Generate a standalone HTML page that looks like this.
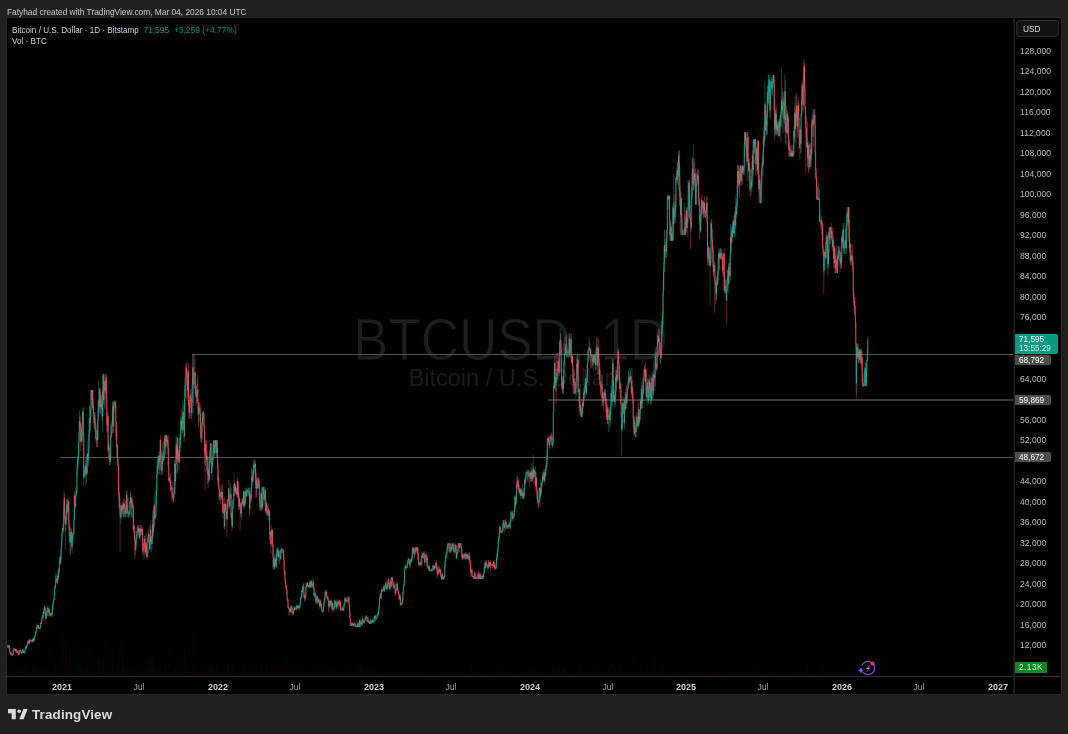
<!DOCTYPE html>
<html><head><meta charset="utf-8">
<style>
html,body{margin:0;padding:0;}
body{width:1068px;height:734px;background:#202020;position:relative;overflow:hidden;font-family:"Liberation Sans",sans-serif;}
div{will-change:transform}
.hdr{position:absolute;left:7px;top:7px;font-size:8.35px;color:#c8c8c8;white-space:nowrap;line-height:11px}
.pane{position:absolute;left:7px;top:18px;width:1054px;height:676px;background:#000;box-shadow:0 0 0 1px #282828}
.sepv{position:absolute;left:1013px;top:18px;width:1px;height:676px;background:#141414;border-right:1px solid #202020}
.seph{position:absolute;left:7px;top:676px;width:1054px;height:1px;background:#2e2e2e}
.pl{position:absolute;left:1020.3px;font-size:8.5px;line-height:11px;color:#bdbdbd;white-space:nowrap;letter-spacing:0.05px}
.tl{position:absolute;top:682.2px;margin-left:0.9px;width:40px;text-align:center;font-size:8.5px;line-height:11px;color:#a4a4a4}
.tl.b{font-weight:bold;font-size:9px;color:#d0d0d0}
.leg{position:absolute;left:12px;font-size:8.15px;line-height:11px;color:#d1d4dc;white-space:nowrap}
.grn{color:#0a8f78}
.wm1{position:absolute;left:0;top:303px;width:1021px;text-align:center;font-size:53px;line-height:70px;color:#1e1e1e;white-space:nowrap;transform:scaleY(1.11);transform-origin:0 15.5px;-webkit-text-stroke:0.8px #000}
.wm2{position:absolute;left:0;top:363px;width:1021px;text-align:center;font-size:23.5px;line-height:30px;color:#1c1c1c;white-space:nowrap}
.hl{position:absolute;height:1px;background:#565656}
.tag{position:absolute;left:1015px;font-size:8.2px;color:#fff;white-space:nowrap;padding-left:4px;box-sizing:border-box;border-radius:0 2px 2px 0}
.usd{position:absolute;left:1016px;top:20px;width:43px;height:17px;box-sizing:border-box;border:1px solid #2a2a2a;border-radius:3px;background:#121212;color:#d1d4dc;font-size:8.3px;line-height:17px;padding-left:6px}
.logo{position:absolute;left:8px;top:709px}
.logot{position:absolute;left:32.3px;top:704.5px;font-size:13.4px;line-height:20px;font-weight:bold;color:#dcdcdc;letter-spacing:0.15px}
</style></head><body>
<div class="hdr">Fatyhad created with TradingView.com, Mar 04, 2026 10:04 UTC</div>
<div class="pane"></div>
<div class="wm1">BTCUSD, 1D</div>
<div class="wm2">Bitcoin / U.S. Dollar</div>
<div class="hl" style="left:192px;top:354px;width:822px"></div>
<div class="hl" style="left:548px;top:399px;width:466px;height:2px;background:#3a3a3a"></div>
<div class="hl" style="left:60px;top:457px;width:954px"></div>
<svg class="ch" width="1054" height="658" viewBox="7 18 1054 658" style="position:absolute;left:7px;top:18px"><style>.ch .u{stroke:#22ab94}.ch .d{stroke:#f7525f}.ch path{fill:none;stroke-width:0.4px}.ch path.b{stroke-width:0.8px}</style><path d="M7.69 676V666.6M8.98 676V663.3M12.39 676V672.7M13.25 676V650.4M13.68 676V671.3M14.10 676V669.9M14.53 676V672.8M15.38 676V668.3M16.24 676V669.1M17.52 676V661.8M19.23 676V661.6M19.66 676V663.8M20.51 676V671.1M22.22 676V669.6M22.65 676V671.1M23.93 676V668.4M24.78 676V663.8M25.21 676V660.0M25.64 676V663.8M26.49 676V666.3M26.92 676V672.5M27.35 676V657.6M28.20 676V671.5M29.06 676V664.8M29.48 676V667.3M29.91 676V673.0M31.19 676V671.4M31.62 676V669.6M32.05 676V673.6M32.90 676V672.0M33.33 676V663.7M34.61 676V665.4M35.04 676V672.3M35.47 676V666.9M35.89 676V671.7M36.32 676V667.5M36.75 676V660.6M37.17 676V674.3M38.03 676V666.4M39.31 676V671.3M39.74 676V674.0M40.16 676V674.5M40.59 676V661.9M41.45 676V670.8M41.87 676V662.8M42.30 676V669.6M43.16 676V652.9M44.01 676V660.2M44.44 676V670.6M46.15 676V653.9M47.00 676V670.5M47.43 676V666.0M48.71 676V649.3M50.42 676V674.5M50.85 676V669.2M51.27 676V674.0M51.70 676V663.1M52.55 676V656.3M52.98 676V666.6M53.41 676V667.0M53.84 676V666.1M54.26 676V655.0M54.69 676V662.6M55.12 676V671.1M55.55 676V662.3M55.97 676V666.9M56.40 676V672.9M57.25 676V668.2M57.68 676V661.5M58.54 676V664.5M58.96 676V669.7M59.39 676V657.9M59.82 676V668.2M60.67 676V671.2M61.10 676V649.5M61.53 676V667.6M61.95 676V653.3M62.38 676V670.2M62.81 676V660.4M63.66 676V629.5M64.09 676V647.8M65.80 676V661.0M66.23 676V636.2M66.65 676V653.0M67.08 676V661.5M67.51 676V669.8M68.36 676V648.8M69.64 676V664.6M70.50 676V647.6M70.93 676V651.3M72.21 676V646.5M72.64 676V669.3M73.06 676V666.1M73.92 676V644.0M74.34 676V628.2M75.63 676V650.0M76.05 676V670.6M76.48 676V668.9M76.91 676V634.3M77.34 676V662.4M77.76 676V664.2M78.19 676V666.0M78.62 676V652.0M79.04 676V663.9M79.47 676V653.7M81.18 676V665.0M82.04 676V645.0M82.46 676V670.5M82.89 676V662.6M84.17 676V671.7M84.60 676V670.3M85.03 676V670.9M85.45 676V669.4M86.31 676V663.4M87.16 676V642.6M88.02 676V672.0M88.44 676V665.1M88.87 676V648.7M89.30 676V659.3M90.58 676V655.3M91.01 676V668.6M92.29 676V658.4M93.14 676V668.6M94.43 676V658.0M96.99 676V668.7M97.84 676V642.8M98.27 676V662.2M98.70 676V655.2M99.55 676V653.9M100.41 676V659.3M101.69 676V663.9M102.54 676V654.7M102.97 676V639.0M103.83 676V659.9M104.68 676V650.6M105.53 676V666.8M105.96 676V672.0M107.67 676V657.1M108.52 676V669.3M109.81 676V655.4M110.66 676V657.2M111.09 676V666.7M111.52 676V664.9M111.94 676V660.8M112.37 676V650.7M112.80 676V651.1M113.65 676V640.9M114.08 676V668.7M114.51 676V673.9M117.07 676V672.2M120.49 676V669.2M120.92 676V670.4M121.77 676V671.7M122.20 676V659.0M123.05 676V661.0M123.48 676V644.0M124.33 676V664.2M125.61 676V669.5M126.04 676V670.3M126.47 676V654.5M128.18 676V659.3M128.61 676V669.9M129.03 676V673.9M129.46 676V672.6M129.89 676V667.1M130.31 676V670.6M131.17 676V660.2M132.88 676V662.5M133.73 676V669.0M135.87 676V658.6M136.30 676V669.4M136.72 676V666.2M137.15 676V667.1M137.58 676V668.1M138.00 676V670.8M138.86 676V671.0M139.71 676V674.2M140.14 676V666.4M141.00 676V673.2M141.85 676V670.2M143.13 676V669.3M143.56 676V664.6M143.99 676V669.6M144.41 676V672.1M145.70 676V661.3M147.40 676V668.1M147.83 676V664.8M148.26 676V669.4M148.69 676V665.5M149.97 676V664.0M150.40 676V661.4M151.25 676V659.4M152.10 676V664.1M152.53 676V645.9M153.39 676V669.6M153.81 676V650.8M154.24 676V668.7M155.09 676V668.2M155.95 676V662.0M156.38 676V664.0M156.80 676V666.9M157.23 676V667.1M158.09 676V666.2M158.51 676V671.4M158.94 676V667.6M159.79 676V664.2M160.22 676V658.4M161.50 676V667.0M161.93 676V673.5M162.36 676V667.1M162.79 676V664.4M163.64 676V668.7M164.07 676V662.6M164.49 676V665.2M165.78 676V662.1M166.20 676V669.9M167.06 676V670.8M169.19 676V673.9M171.33 676V665.8M171.76 676V671.2M173.89 676V672.7M174.32 676V670.0M174.75 676V666.9M175.60 676V661.4M176.03 676V658.4M177.31 676V656.9M178.17 676V671.4M179.45 676V657.7M179.88 676V672.3M180.30 676V665.9M180.73 676V656.5M182.01 676V666.3M182.87 676V658.9M184.58 676V645.7M185.00 676V651.5M185.43 676V667.7M185.86 676V666.5M187.99 676V663.9M189.70 676V667.9M190.13 676V672.3M191.84 676V670.1M192.27 676V663.8M192.69 676V664.9M193.55 676V667.4M193.97 676V656.6M196.97 676V671.7M197.39 676V673.6M198.67 676V668.6M199.10 676V672.6M199.53 676V669.4M201.24 676V671.0M201.67 676V664.1M202.09 676V664.2M202.52 676V664.4M202.95 676V670.5M205.51 676V667.8M206.79 676V667.8M208.50 676V668.7M209.36 676V662.3M209.78 676V665.1M210.21 676V661.0M210.64 676V673.5M211.92 676V661.1M212.35 676V668.6M212.77 676V661.1M213.20 676V662.3M213.63 676V672.4M214.48 676V667.8M214.91 676V670.7M215.34 676V672.3M216.62 676V665.2M218.33 676V669.6M220.04 676V673.1M220.46 676V671.2M220.89 676V661.3M221.75 676V671.6M223.46 676V673.6M223.88 676V662.3M224.74 676V667.5M225.16 676V674.2M225.59 676V672.5M227.30 676V663.8M227.73 676V669.3M228.58 676V663.8M229.86 676V660.4M230.29 676V674.0M230.72 676V672.4M231.57 676V670.9M232.43 676V656.5M232.85 676V669.7M233.28 676V669.2M233.71 676V664.5M234.14 676V656.2M234.99 676V669.8M236.27 676V671.5M236.70 676V674.0M237.55 676V670.1M239.26 676V667.8M240.97 676V671.7M241.40 676V668.7M241.83 676V662.5M242.68 676V670.9M243.54 676V666.7M244.39 676V666.0M245.24 676V663.4M246.10 676V668.6M246.53 676V671.2M246.95 676V671.0M247.38 676V674.0M247.81 676V674.4M248.24 676V672.9M248.66 676V673.9M249.09 676V672.1M249.94 676V667.5M251.23 676V668.1M251.65 676V656.3M252.08 676V665.9M252.94 676V666.9M253.36 676V673.7M253.79 676V666.0M254.64 676V671.3M255.07 676V670.2M256.35 676V667.9M257.21 676V673.3M258.06 676V671.7M258.49 676V670.1M260.63 676V672.6M261.05 676V666.3M262.33 676V670.2M262.76 676V666.8M264.47 676V671.4M264.90 676V670.4M265.75 676V671.0M266.18 676V668.3M267.03 676V669.1M267.46 676V671.9M268.32 676V664.2M269.17 676V670.5M270.03 676V672.5M271.31 676V666.7M272.16 676V667.6M273.87 676V661.1M274.73 676V657.6M276.43 676V662.3M276.86 676V672.8M277.29 676V670.6M278.57 676V662.1M280.71 676V669.9M281.13 676V674.0M281.56 676V669.2M281.99 676V674.4M282.42 676V673.7M282.84 676V669.9M289.25 676V672.1M290.11 676V670.4M290.96 676V664.1M293.10 676V667.5M293.52 676V669.8M293.95 676V665.0M294.38 676V671.3M295.23 676V673.8M295.66 676V672.1M296.09 676V673.9M296.51 676V669.4M296.94 676V673.6M297.37 676V671.4M298.22 676V671.0M298.65 676V674.3M299.08 676V670.4M299.93 676V664.6M300.36 676V663.9M300.79 676V674.3M301.21 676V671.3M301.64 676V668.1M302.50 676V667.5M303.35 676V667.3M304.63 676V671.0M305.49 676V668.3M305.91 676V668.5M306.77 676V670.8M307.20 676V671.0M308.05 676V672.6M308.91 676V671.8M309.76 676V670.1M311.04 676V669.5M312.32 676V670.1M312.75 676V671.4M313.18 676V670.3M314.46 676V674.0M314.89 676V670.6M316.60 676V666.4M318.30 676V666.6M320.01 676V670.1M320.87 676V670.5M322.15 676V672.5M323.00 676V669.5M323.43 676V665.4M323.86 676V666.3M324.29 676V671.5M324.71 676V668.9M325.14 676V663.3M325.57 676V667.2M328.99 676V664.8M329.41 676V674.4M330.27 676V668.9M331.12 676V673.5M332.40 676V674.2M333.26 676V671.9M334.11 676V673.4M334.54 676V670.1M336.68 676V664.2M337.96 676V659.4M339.67 676V670.9M340.95 676V672.3M341.38 676V672.5M341.80 676V670.7M342.23 676V671.2M343.09 676V674.0M343.51 676V673.2M343.94 676V672.2M344.37 676V674.2M344.79 676V663.2M345.65 676V672.8M346.93 676V666.5M347.36 676V672.2M347.78 676V670.8M348.21 676V671.2M348.64 676V671.9M351.20 676V672.8M352.06 676V669.3M352.48 676V671.2M353.34 676V671.5M354.19 676V672.6M356.33 676V673.9M356.76 676V662.4M357.61 676V666.9M358.47 676V671.1M358.89 676V666.5M359.32 676V671.2M360.18 676V666.8M360.60 676V668.0M362.31 676V669.8M364.45 676V671.9M364.87 676V671.4M365.30 676V671.8M365.73 676V668.4M366.58 676V673.1M368.29 676V667.4M369.57 676V670.1M370.00 676V669.4M370.43 676V669.8M370.86 676V670.0M372.14 676V671.5M372.57 676V670.1M373.42 676V670.0M373.85 676V670.6M374.27 676V669.1M374.70 676V670.1M375.13 676V670.2M375.98 676V670.3M376.41 676V672.9M376.84 676V671.5M377.27 676V671.6M377.69 676V671.2M378.55 676V672.7M378.97 676V664.1M379.40 676V669.5M379.83 676V673.3M380.26 676V671.3M381.11 676V673.8M381.54 676V666.7M382.39 676V672.9M382.82 676V670.9M383.25 676V673.3M383.67 676V671.4M384.53 676V670.5M384.96 676V673.4M385.38 676V671.3M386.66 676V672.3M387.09 676V670.3M387.95 676V672.4M388.37 676V669.9M390.08 676V668.8M390.51 676V671.1M391.36 676V669.6M391.79 676V673.7M393.93 676V672.5M395.64 676V671.7M396.06 676V672.1M396.92 676V669.4M399.48 676V672.3M400.76 676V671.1M401.19 676V673.4M402.05 676V672.4M402.47 676V670.6M402.90 676V664.2M403.33 676V668.9M403.75 676V672.3M404.18 676V670.3M404.61 676V668.9M405.04 676V673.0M406.32 676V673.6M406.75 676V673.0M407.17 676V671.2M407.60 676V672.1M408.03 676V673.1M408.45 676V670.6M410.16 676V670.1M410.59 676V672.6M411.87 676V671.5M412.30 676V670.5M412.73 676V670.4M413.58 676V668.6M414.86 676V669.3M415.72 676V672.6M417.43 676V671.7M419.14 676V672.9M420.42 676V669.3M421.70 676V673.0M422.13 676V674.5M422.98 676V673.9M423.84 676V670.8M425.12 676V671.2M425.54 676V673.9M425.97 676V672.0M426.83 676V670.0M427.68 676V672.7M428.11 676V671.6M428.96 676V673.0M429.82 676V673.6M430.24 676V672.7M430.67 676V674.3M431.10 676V673.6M431.53 676V674.5M431.95 676V673.1M432.38 676V674.0M432.81 676V670.1M434.09 676V672.8M434.94 676V674.0M435.37 676V674.0M435.80 676V671.3M437.51 676V671.4M438.36 676V669.7M439.22 676V673.1M439.64 676V668.6M442.21 676V671.5M443.06 676V671.8M443.49 676V674.1M443.92 676V672.9M444.34 676V673.2M444.77 676V660.0M445.20 676V667.8M445.63 676V670.2M446.05 676V673.5M446.48 676V671.6M446.91 676V667.9M447.33 676V671.3M447.76 676V671.1M448.19 676V673.9M449.04 676V671.8M449.47 676V674.5M450.75 676V672.1M452.03 676V671.3M452.89 676V672.7M453.32 676V673.6M454.17 676V672.9M454.60 676V673.5M455.02 676V668.0M455.45 676V671.7M456.73 676V673.8M457.16 676V672.2M457.59 676V674.3M458.02 676V668.3M458.44 676V673.4M459.72 676V667.0M460.15 676V674.3M460.58 676V674.3M462.29 676V672.7M463.14 676V672.4M463.57 676V673.2M464.00 676V673.4M464.42 676V673.1M465.28 676V667.9M465.71 676V673.1M466.13 676V672.5M466.99 676V674.1M467.41 676V673.1M468.27 676V673.6M469.12 676V665.9M471.26 676V668.3M472.97 676V674.4M473.82 676V674.1M474.25 676V671.7M474.68 676V671.1M475.53 676V673.9M475.96 676V673.5M476.81 676V674.2M477.67 676V674.2M478.10 676V671.3M479.38 676V670.5M479.81 676V668.3M480.66 676V671.9M481.09 676V673.0M481.94 676V674.1M482.37 676V671.9M483.65 676V670.3M484.08 676V674.2M484.50 676V669.3M484.93 676V671.0M485.79 676V671.8M488.35 676V666.3M489.63 676V673.2M490.06 676V672.4M490.91 676V673.1M491.34 676V673.5M491.77 676V674.1M493.48 676V671.7M495.61 676V673.6M496.04 676V672.0M496.47 676V667.3M496.90 676V673.9M497.32 676V663.9M497.75 676V671.6M498.18 676V674.3M498.60 676V671.8M499.03 676V668.4M499.46 676V665.4M499.89 676V674.2M500.74 676V673.0M501.17 676V674.1M501.59 676V674.3M502.02 676V673.0M502.45 676V673.6M502.88 676V668.6M503.30 676V669.9M504.59 676V673.0M505.01 676V671.4M505.44 676V671.9M506.72 676V673.8M507.58 676V673.7M508.43 676V673.1M508.86 676V673.3M509.71 676V671.2M510.14 676V673.7M510.57 676V671.9M510.99 676V674.2M511.42 676V673.4M511.85 676V673.2M512.70 676V673.5M513.56 676V673.6M513.99 676V673.3M514.41 676V672.9M514.84 676V670.9M515.69 676V674.4M516.12 676V671.5M516.55 676V665.6M517.40 676V669.6M519.54 676V673.0M520.82 676V668.0M521.68 676V673.0M522.53 676V668.6M523.38 676V668.0M524.24 676V672.1M524.67 676V671.1M525.52 676V671.0M525.95 676V674.4M526.38 676V674.1M526.80 676V674.3M527.23 676V673.2M527.66 676V670.0M528.08 676V672.7M528.51 676V672.0M529.37 676V670.0M529.79 676V671.0M530.22 676V672.8M531.08 676V670.0M531.50 676V669.1M532.78 676V668.1M533.21 676V662.5M534.07 676V668.1M534.49 676V673.5M535.77 676V671.3M536.20 676V669.2M538.77 676V671.6M539.19 676V667.0M540.47 676V668.3M541.33 676V670.5M541.76 676V673.6M542.18 676V674.1M542.61 676V671.3M543.47 676V673.6M543.89 676V670.8M544.75 676V668.5M545.17 676V673.6M545.60 676V670.2M546.03 676V672.3M546.88 676V662.0M547.31 676V663.2M548.16 676V674.4M549.45 676V673.0M549.87 676V668.9M550.73 676V673.4M551.58 676V672.7M552.44 676V673.2M552.86 676V670.9M553.29 676V661.7M553.72 676V674.3M554.57 676V668.2M555.86 676V672.3M556.71 676V670.2M557.14 676V671.0M557.56 676V673.6M557.99 676V665.5M559.70 676V664.5M560.13 676V672.2M560.56 676V671.6M562.69 676V669.8M563.55 676V668.0M563.97 676V669.6M564.40 676V671.5M564.83 676V666.6M565.25 676V673.9M566.96 676V672.7M567.39 676V673.4M567.82 676V673.8M568.25 676V673.8M568.67 676V672.9M569.10 676V666.1M569.95 676V673.4M570.38 676V670.6M570.81 676V670.8M572.09 676V673.3M573.80 676V668.0M574.65 676V674.0M575.08 676V673.7M575.51 676V673.1M575.94 676V666.9M576.36 676V669.0M576.79 676V671.7M577.65 676V673.4M578.50 676V671.9M578.93 676V674.0M579.78 676V668.9M580.64 676V673.7M581.92 676V673.2M582.35 676V671.4M583.63 676V674.5M584.48 676V674.1M584.91 676V673.3M585.34 676V671.6M586.62 676V671.1M587.04 676V669.8M587.47 676V665.9M587.90 676V672.6M588.33 676V672.8M588.75 676V673.2M589.18 676V670.2M590.89 676V674.1M591.74 676V671.6M593.03 676V669.8M593.45 676V673.1M594.31 676V673.8M594.74 676V674.4M595.16 676V673.2M596.02 676V671.7M596.44 676V667.7M596.87 676V673.9M597.73 676V673.5M598.15 676V671.6M599.44 676V671.4M601.57 676V674.4M602.43 676V672.7M603.71 676V668.8M604.13 676V673.6M604.99 676V670.3M607.55 676V669.9M608.41 676V668.7M608.83 676V669.2M610.12 676V672.4M610.54 676V671.3M610.97 676V663.8M612.25 676V656.2M612.68 676V672.1M614.39 676V669.8M615.24 676V666.2M615.67 676V672.6M616.53 676V671.0M617.38 676V671.6M617.81 676V673.3M620.37 676V674.0M622.08 676V672.9M622.51 676V671.2M622.93 676V672.7M624.64 676V668.0M625.92 676V665.2M626.78 676V672.1M627.21 676V673.7M627.63 676V672.8M628.06 676V673.2M628.49 676V669.7M628.92 676V672.9M629.77 676V671.0M630.62 676V672.1M631.91 676V664.5M634.47 676V667.6M636.18 676V671.4M636.61 676V672.9M638.31 676V669.2M639.17 676V671.1M640.02 676V670.3M640.45 676V672.5M641.31 676V666.2M642.16 676V674.2M642.59 676V667.7M643.44 676V668.9M643.87 676V671.9M644.30 676V673.4M645.58 676V672.4M646.86 676V671.0M647.29 676V672.6M648.57 676V670.1M649.00 676V674.4M650.28 676V673.9M650.71 676V668.6M651.99 676V658.0M653.27 676V668.9M653.70 676V664.3M654.55 676V673.8M654.98 676V655.7M655.40 676V669.5M657.11 676V665.3M657.54 676V664.7M657.97 676V671.8M658.82 676V674.1M660.96 676V674.3M661.39 676V668.4M661.81 676V670.3M662.24 676V673.7M662.67 676V671.3M663.10 676V664.9M663.52 676V666.4M663.95 676V663.6M664.38 676V672.5M665.23 676V673.1M665.66 676V673.2M666.51 676V666.7M666.94 676V670.9M667.37 676V668.4M667.80 676V674.1M668.65 676V673.3M669.08 676V674.2M670.36 676V671.8M670.79 676V673.6M671.64 676V673.5M672.49 676V673.7M672.92 676V668.8M673.78 676V665.5M674.63 676V671.3M675.06 676V673.2M675.91 676V659.1M676.34 676V673.6M677.19 676V671.6M678.48 676V669.0M681.04 676V665.5M682.32 676V673.6M682.75 676V674.1M683.60 676V674.5M684.03 676V674.2M684.46 676V674.0M685.31 676V672.2M686.17 676V670.4M687.02 676V673.2M687.88 676V664.1M688.30 676V673.2M688.73 676V671.3M691.29 676V666.0M691.72 676V672.9M692.15 676V673.4M692.58 676V670.3M693.43 676V667.9M693.86 676V673.7M694.28 676V674.3M695.99 676V673.2M696.42 676V667.4M696.85 676V672.6M697.28 676V673.1M697.70 676V672.9M700.69 676V667.3M701.12 676V673.3M701.55 676V672.5M702.83 676V671.7M703.68 676V674.2M704.11 676V672.1M705.39 676V674.1M705.82 676V674.5M706.25 676V673.2M706.67 676V673.3M708.38 676V672.7M710.09 676V666.0M710.52 676V671.7M710.95 676V667.6M713.94 676V670.9M714.37 676V673.8M715.65 676V673.0M716.50 676V673.0M716.93 676V673.5M717.78 676V670.7M718.21 676V672.5M718.64 676V673.2M719.49 676V673.0M719.92 676V673.6M720.77 676V672.7M721.20 676V674.1M723.34 676V668.9M723.76 676V673.2M725.05 676V672.0M726.76 676V671.9M727.18 676V673.7M727.61 676V672.9M728.04 676V674.3M728.89 676V671.7M730.17 676V670.7M730.60 676V667.0M731.46 676V672.8M731.88 676V672.9M732.74 676V673.6M733.16 676V673.7M734.02 676V674.2M734.45 676V672.7M734.87 676V672.0M735.73 676V668.3M736.58 676V674.4M737.01 676V673.5M737.44 676V672.7M738.29 676V670.3M739.57 676V673.0M740.00 676V672.6M740.43 676V673.9M741.28 676V671.7M741.71 676V672.3M742.14 676V673.9M742.99 676V673.8M743.85 676V674.1M744.27 676V670.1M744.70 676V671.5M745.55 676V673.4M747.26 676V670.6M747.69 676V672.3M748.97 676V670.9M750.68 676V671.6M751.11 676V673.4M751.96 676V668.8M752.39 676V671.4M753.25 676V670.6M753.67 676V673.6M754.53 676V672.7M754.95 676V672.8M756.24 676V672.4M756.66 676V672.8M757.94 676V668.8M759.23 676V672.4M760.51 676V674.5M760.94 676V671.0M761.36 676V671.3M761.79 676V665.5M762.22 676V672.4M763.07 676V669.1M763.50 676V667.8M763.93 676V673.0M764.78 676V668.6M766.06 676V671.9M766.92 676V673.0M767.34 676V673.7M768.20 676V672.8M768.63 676V673.3M769.05 676V673.3M770.34 676V674.0M770.76 676V673.7M771.19 676V674.0M771.62 676V673.8M772.47 676V673.1M772.90 676V673.6M773.33 676V674.0M775.03 676V670.3M775.89 676V671.3M776.74 676V671.0M777.17 676V672.8M778.03 676V673.7M778.45 676V673.9M779.31 676V671.7M780.16 676V673.1M780.59 676V670.1M781.02 676V673.8M781.44 676V670.4M782.73 676V671.3M783.15 676V666.4M783.58 676V674.3M784.43 676V672.1M784.86 676V672.1M785.72 676V670.2M786.14 676V673.4M787.00 676V668.1M787.85 676V674.1M789.13 676V673.7M790.42 676V674.4M790.84 676V674.2M791.70 676V674.0M792.55 676V674.2M793.41 676V673.9M793.83 676V673.4M794.69 676V670.6M795.54 676V671.8M796.40 676V672.6M797.68 676V669.0M798.11 676V671.7M799.82 676V669.7M800.24 676V673.4M801.10 676V668.5M801.52 676V672.8M801.95 676V670.3M803.23 676V668.8M803.66 676V670.5M804.09 676V672.4M807.08 676V673.5M807.93 676V671.1M809.21 676V671.7M810.07 676V672.4M810.92 676V671.7M811.78 676V669.4M812.21 676V672.9M813.06 676V674.1M813.49 676V673.1M813.91 676V670.4M814.34 676V673.7M817.33 676V674.3M817.76 676V672.9M818.19 676V673.0M818.61 676V674.1M819.04 676V674.5M819.90 676V674.0M820.32 676V674.4M820.75 676V672.7M821.61 676V672.0M824.17 676V671.8M824.60 676V674.1M825.88 676V672.2M826.73 676V670.6M828.44 676V671.7M828.87 676V667.2M829.72 676V670.1M830.15 676V674.3M831.43 676V671.7M832.71 676V672.9M834.00 676V672.2M835.70 676V673.2M837.41 676V669.8M838.27 676V670.4M838.70 676V673.0M839.12 676V673.7M839.55 676V674.5M840.83 676V672.8M841.69 676V672.5M842.54 676V673.0M842.97 676V671.3M843.82 676V674.2M844.25 676V672.3M844.68 676V672.1M845.10 676V672.6M845.53 676V671.1M846.39 676V669.6M846.81 676V672.0M847.67 676V671.9M848.52 676V673.5M849.80 676V672.2M850.66 676V674.4M851.09 676V674.4M851.51 676V673.4M856.64 676V669.7M857.07 676V673.9M858.35 676V672.1M859.20 676V672.7M860.06 676V674.0M860.48 676V674.4M861.34 676V671.4M861.77 676V671.7M863.05 676V674.5M863.48 676V674.3M863.90 676V673.0M864.33 676V670.1M864.76 676V669.6M865.18 676V672.2M866.04 676V672.5M866.47 676V668.9M866.89 676V670.6M867.32 676V672.8M867.75 676V668.0" style="stroke:#0c5a48;stroke-opacity:0.13;stroke-width:0.5px"/><path d="M8.12 676V668.4M8.55 676V668.7M9.40 676V668.6M9.83 676V650.3M10.26 676V669.9M10.68 676V664.9M11.11 676V663.0M11.54 676V667.6M11.97 676V672.2M12.82 676V673.9M14.96 676V669.3M15.81 676V663.8M16.67 676V663.0M17.09 676V668.7M17.95 676V670.2M18.38 676V659.3M18.80 676V671.6M20.08 676V668.3M20.94 676V667.1M21.37 676V662.4M21.79 676V668.5M23.07 676V669.5M23.50 676V665.6M24.36 676V671.6M26.07 676V662.7M27.77 676V674.0M28.63 676V659.9M30.34 676V671.2M30.77 676V672.9M32.47 676V666.2M33.76 676V662.4M34.18 676V672.3M37.60 676V667.3M38.46 676V667.3M38.88 676V664.6M41.02 676V672.8M42.73 676V663.6M43.58 676V670.3M44.86 676V665.2M45.29 676V665.8M45.72 676V641.2M46.57 676V664.4M47.86 676V663.7M48.28 676V666.0M49.14 676V668.9M49.56 676V669.6M49.99 676V669.2M52.13 676V672.6M56.83 676V663.6M58.11 676V656.9M60.25 676V667.5M63.24 676V671.1M64.52 676V630.7M64.95 676V659.0M65.37 676V631.3M67.94 676V660.9M68.79 676V648.8M69.22 676V647.3M70.07 676V641.8M71.35 676V662.1M71.78 676V669.4M73.49 676V668.0M74.77 676V662.0M75.20 676V667.6M79.90 676V670.0M80.33 676V668.7M80.75 676V651.6M81.61 676V667.2M83.32 676V649.8M83.74 676V655.7M85.88 676V650.7M86.73 676V670.7M87.59 676V663.9M89.73 676V666.0M90.15 676V671.6M91.43 676V668.0M91.86 676V657.4M92.72 676V662.5M93.57 676V657.5M94.00 676V669.3M94.85 676V667.8M95.28 676V661.8M95.71 676V658.5M96.13 676V670.5M96.56 676V669.1M97.42 676V656.3M99.13 676V657.9M99.98 676V649.6M100.83 676V666.5M101.26 676V664.9M102.12 676V662.8M103.40 676V653.7M104.25 676V673.4M105.11 676V644.5M106.39 676V660.4M106.82 676V638.9M107.24 676V666.6M108.10 676V646.1M108.95 676V647.6M109.38 676V667.4M110.23 676V673.5M113.22 676V663.6M114.93 676V672.3M115.36 676V670.9M115.79 676V654.4M116.22 676V662.9M116.64 676V655.5M117.50 676V665.3M117.92 676V668.6M118.35 676V648.5M118.78 676V651.3M119.21 676V663.9M119.63 676V653.9M120.06 676V627.7M121.34 676V665.4M122.62 676V659.8M123.91 676V665.1M124.76 676V667.8M125.19 676V667.0M126.90 676V660.2M127.32 676V668.1M127.75 676V671.0M130.74 676V664.7M131.60 676V657.9M132.02 676V673.5M132.45 676V672.8M133.31 676V669.1M134.16 676V671.4M134.59 676V654.9M135.01 676V671.0M135.44 676V667.3M138.43 676V669.0M139.29 676V669.8M140.57 676V666.0M141.42 676V672.4M142.28 676V664.3M142.70 676V674.0M144.84 676V663.6M145.27 676V671.5M146.12 676V656.5M146.55 676V667.8M146.98 676V669.8M149.11 676V653.3M149.54 676V663.4M150.82 676V652.5M151.68 676V668.2M152.96 676V651.2M154.67 676V658.1M155.52 676V673.8M157.66 676V672.0M159.37 676V664.6M160.65 676V670.8M161.08 676V662.2M163.21 676V668.0M164.92 676V664.1M165.35 676V666.9M166.63 676V669.1M167.49 676V673.9M167.91 676V673.4M168.34 676V642.5M168.77 676V659.5M169.62 676V672.8M170.05 676V672.7M170.48 676V664.6M170.90 676V670.7M172.19 676V663.5M172.61 676V670.1M173.04 676V672.2M173.47 676V668.6M175.18 676V665.2M176.46 676V669.2M176.88 676V663.1M177.74 676V652.9M178.59 676V670.6M179.02 676V669.5M181.16 676V668.5M181.58 676V671.1M182.44 676V667.5M183.29 676V669.2M183.72 676V663.4M184.15 676V667.0M186.28 676V672.6M186.71 676V671.3M187.14 676V664.0M187.57 676V666.0M188.42 676V654.2M188.85 676V662.8M189.28 676V664.4M190.56 676V671.7M190.98 676V659.1M191.41 676V659.6M193.12 676V632.4M194.40 676V673.4M194.83 676V658.4M195.26 676V661.9M195.68 676V667.3M196.11 676V667.1M196.54 676V662.8M197.82 676V664.0M198.25 676V659.4M199.96 676V664.2M200.38 676V663.2M200.81 676V649.3M203.37 676V673.7M203.80 676V665.5M204.23 676V662.2M204.66 676V651.4M205.08 676V645.1M205.94 676V668.1M206.37 676V652.2M207.22 676V670.5M207.65 676V667.9M208.07 676V673.7M208.93 676V662.9M211.06 676V662.9M211.49 676V664.3M214.06 676V660.0M215.76 676V667.7M216.19 676V667.7M217.05 676V667.8M217.47 676V659.4M217.90 676V663.6M218.76 676V646.5M219.18 676V673.0M219.61 676V670.1M221.32 676V671.9M222.17 676V672.8M222.60 676V661.9M223.03 676V667.1M224.31 676V658.3M226.02 676V664.4M226.45 676V670.9M226.87 676V662.7M228.15 676V674.1M229.01 676V658.2M229.44 676V671.9M231.15 676V659.8M232.00 676V667.9M234.56 676V672.8M235.42 676V671.0M235.85 676V671.0M237.13 676V668.2M237.98 676V670.6M238.41 676V670.0M238.84 676V659.2M239.69 676V669.4M240.12 676V671.1M240.55 676V671.4M242.25 676V672.5M243.11 676V670.3M243.96 676V661.5M244.82 676V672.2M245.67 676V665.3M249.52 676V669.6M250.37 676V673.2M250.80 676V667.5M252.51 676V667.4M254.22 676V669.6M255.50 676V665.5M255.93 676V658.6M256.78 676V665.7M257.63 676V673.8M258.92 676V670.3M259.34 676V665.0M259.77 676V663.3M260.20 676V666.3M261.48 676V660.0M261.91 676V665.9M263.19 676V672.6M263.62 676V667.3M264.04 676V671.9M265.33 676V666.8M266.61 676V659.6M267.89 676V673.1M268.74 676V672.6M269.60 676V670.1M270.45 676V668.8M270.88 676V663.5M271.73 676V672.5M272.59 676V668.2M273.02 676V658.5M273.44 676V670.6M274.30 676V668.8M275.15 676V669.2M275.58 676V664.9M276.01 676V672.3M277.72 676V667.8M278.14 676V671.6M279.00 676V665.4M279.42 676V663.2M279.85 676V673.8M280.28 676V667.6M283.27 676V669.2M283.70 676V671.9M284.12 676V664.9M284.55 676V669.5M284.98 676V669.5M285.41 676V668.8M285.83 676V672.5M286.26 676V670.8M286.69 676V669.8M287.12 676V655.7M287.54 676V673.7M287.97 676V667.0M288.40 676V674.0M288.82 676V658.9M289.68 676V669.1M290.53 676V669.1M291.39 676V674.2M291.81 676V669.9M292.24 676V655.7M292.67 676V669.6M294.81 676V671.9M297.80 676V673.3M299.51 676V670.5M302.07 676V674.4M302.92 676V671.0M303.78 676V661.0M304.21 676V672.9M305.06 676V671.0M306.34 676V670.4M307.62 676V672.7M308.48 676V673.4M309.33 676V672.9M310.19 676V674.3M310.61 676V666.6M311.47 676V668.9M311.90 676V673.7M313.60 676V663.4M314.03 676V671.0M315.31 676V674.5M315.74 676V667.3M316.17 676V669.6M317.02 676V671.0M317.45 676V669.2M317.88 676V669.0M318.73 676V670.6M319.16 676V671.2M319.59 676V662.5M320.44 676V665.3M321.30 676V669.4M321.72 676V666.8M322.58 676V673.8M326.00 676V673.5M326.42 676V665.8M326.85 676V666.7M327.28 676V672.6M327.70 676V672.4M328.13 676V669.9M328.56 676V662.3M329.84 676V661.9M330.69 676V669.4M331.55 676V658.7M331.98 676V666.9M332.83 676V666.4M333.69 676V673.6M334.97 676V671.4M335.39 676V667.8M335.82 676V668.2M336.25 676V667.1M337.10 676V674.1M337.53 676V669.8M338.39 676V673.4M338.81 676V672.2M339.24 676V670.8M340.09 676V669.5M340.52 676V670.3M342.66 676V669.9M345.22 676V668.0M346.08 676V673.1M346.50 676V672.7M349.07 676V660.6M349.49 676V658.7M349.92 676V661.8M350.35 676V662.3M350.78 676V669.0M351.63 676V669.8M352.91 676V670.1M353.77 676V671.5M354.62 676V671.8M355.05 676V671.9M355.48 676V670.5M355.90 676V673.6M357.18 676V672.1M358.04 676V664.4M359.75 676V664.2M361.03 676V674.4M361.46 676V660.1M361.88 676V666.3M362.74 676V670.4M363.17 676V673.6M363.59 676V668.5M364.02 676V672.9M366.16 676V672.4M367.01 676V666.5M367.44 676V670.2M367.87 676V673.5M368.72 676V670.1M369.15 676V671.4M371.28 676V673.0M371.71 676V670.7M372.99 676V671.6M375.56 676V669.5M378.12 676V672.6M380.68 676V668.0M381.96 676V672.3M384.10 676V670.1M385.81 676V666.5M386.24 676V671.2M387.52 676V668.2M388.80 676V671.1M389.23 676V669.8M389.66 676V672.8M390.94 676V664.7M392.22 676V673.3M392.65 676V669.8M393.07 676V671.4M393.50 676V670.5M394.36 676V672.3M394.78 676V672.7M395.21 676V665.5M396.49 676V674.3M397.35 676V673.7M397.77 676V671.8M398.20 676V672.4M398.63 676V670.0M399.05 676V670.4M399.91 676V672.3M400.34 676V666.1M401.62 676V674.4M405.46 676V673.0M405.89 676V674.4M408.88 676V673.5M409.31 676V674.4M409.74 676V670.6M411.02 676V672.5M411.45 676V671.6M413.15 676V671.5M414.01 676V669.5M414.44 676V672.3M415.29 676V671.2M416.14 676V673.7M416.57 676V672.5M417.00 676V673.8M417.85 676V670.3M418.28 676V670.6M418.71 676V664.4M419.56 676V674.1M419.99 676V673.6M420.84 676V673.3M421.27 676V673.9M422.55 676V672.8M423.41 676V673.6M424.26 676V671.8M424.69 676V669.8M426.40 676V670.8M427.25 676V666.1M428.54 676V672.3M429.39 676V668.8M433.23 676V672.8M433.66 676V671.0M434.52 676V673.0M436.23 676V669.7M436.65 676V674.1M437.08 676V667.5M437.93 676V671.6M438.79 676V671.6M440.07 676V673.3M440.50 676V672.9M440.93 676V672.6M441.35 676V673.2M441.78 676V672.2M442.63 676V669.7M448.62 676V669.6M449.90 676V670.4M450.32 676V672.3M451.18 676V672.8M451.61 676V672.0M452.46 676V671.0M453.74 676V673.0M455.88 676V669.9M456.31 676V665.6M458.87 676V671.9M459.30 676V670.9M461.01 676V672.8M461.43 676V668.5M461.86 676V666.1M462.72 676V669.8M464.85 676V672.9M466.56 676V672.0M467.84 676V670.0M468.70 676V673.6M469.55 676V674.5M469.98 676V666.6M470.41 676V661.8M470.83 676V668.7M471.69 676V673.5M472.11 676V673.6M472.54 676V674.3M473.40 676V673.1M475.11 676V671.7M476.39 676V672.5M477.24 676V672.1M478.52 676V668.7M478.95 676V673.4M480.23 676V674.4M481.51 676V673.1M482.80 676V672.5M483.22 676V674.3M485.36 676V671.9M486.21 676V672.4M486.64 676V669.8M487.07 676V674.0M487.50 676V674.0M487.92 676V671.9M488.78 676V672.9M489.20 676V672.2M490.49 676V671.7M492.20 676V673.7M492.62 676V670.3M493.05 676V674.0M493.90 676V672.1M494.33 676V668.2M494.76 676V672.5M495.19 676V672.2M500.31 676V672.1M503.73 676V671.9M504.16 676V670.3M505.87 676V672.1M506.29 676V673.5M507.15 676V672.5M508.00 676V673.6M509.29 676V672.6M512.28 676V671.0M513.13 676V674.5M515.27 676V673.2M516.98 676V665.8M517.83 676V673.8M518.26 676V672.8M518.68 676V671.0M519.11 676V670.9M519.97 676V674.4M520.39 676V671.5M521.25 676V670.6M522.10 676V672.0M522.96 676V670.6M523.81 676V673.3M525.09 676V673.5M528.94 676V670.9M530.65 676V670.7M531.93 676V667.4M532.36 676V669.3M533.64 676V672.7M534.92 676V672.5M535.35 676V664.5M536.63 676V666.8M537.06 676V670.2M537.48 676V668.5M537.91 676V674.5M538.34 676V670.6M539.62 676V673.2M540.05 676V661.2M540.90 676V670.6M543.04 676V669.6M544.32 676V670.1M546.46 676V669.7M547.74 676V672.8M548.59 676V672.8M549.02 676V673.7M550.30 676V674.4M551.16 676V672.4M552.01 676V669.3M554.15 676V673.7M555.00 676V668.7M555.43 676V669.8M556.28 676V670.5M558.42 676V670.6M558.85 676V669.2M559.27 676V673.0M560.98 676V664.6M561.41 676V662.5M561.84 676V671.5M562.26 676V667.7M563.12 676V667.3M565.68 676V670.5M566.11 676V669.5M566.54 676V663.8M569.53 676V670.4M571.24 676V669.6M571.66 676V673.5M572.52 676V671.2M572.95 676V668.6M573.37 676V673.0M574.23 676V669.6M577.22 676V672.3M578.07 676V663.3M579.35 676V666.7M580.21 676V661.3M581.06 676V671.3M581.49 676V674.1M582.77 676V670.9M583.20 676V672.3M584.05 676V671.0M585.76 676V668.4M586.19 676V673.8M589.61 676V673.2M590.04 676V673.4M590.46 676V671.8M591.32 676V674.4M592.17 676V672.1M592.60 676V672.8M593.88 676V673.1M595.59 676V672.3M597.30 676V661.6M598.58 676V670.4M599.01 676V666.6M599.86 676V666.7M600.29 676V672.1M600.72 676V670.4M601.14 676V672.6M602.00 676V669.8M602.85 676V671.0M603.28 676V673.5M604.56 676V673.2M605.42 676V674.3M605.84 676V664.2M606.27 676V671.3M606.70 676V674.3M607.13 676V666.3M607.98 676V674.0M609.26 676V671.2M609.69 676V668.4M611.40 676V672.6M611.83 676V669.9M613.11 676V664.2M613.53 676V672.3M613.96 676V673.5M614.82 676V671.1M616.10 676V671.7M616.95 676V672.5M618.23 676V673.4M618.66 676V664.0M619.09 676V669.5M619.52 676V663.3M619.94 676V674.3M620.80 676V674.2M621.22 676V664.1M621.65 676V660.4M623.36 676V670.6M623.79 676V670.0M624.22 676V666.9M625.07 676V664.8M625.50 676V673.4M626.35 676V670.0M629.34 676V673.1M630.20 676V673.7M631.05 676V667.0M631.48 676V671.1M632.33 676V665.0M632.76 676V671.3M633.19 676V656.9M633.62 676V672.3M634.04 676V672.3M634.90 676V672.1M635.32 676V672.0M635.75 676V669.3M637.03 676V671.2M637.46 676V671.3M637.89 676V673.3M638.74 676V669.2M639.60 676V671.0M640.88 676V670.0M641.73 676V668.1M643.01 676V672.0M644.72 676V673.9M645.15 676V670.5M646.01 676V661.0M646.43 676V670.9M647.71 676V668.2M648.14 676V668.6M649.42 676V672.3M649.85 676V672.0M651.13 676V669.7M651.56 676V673.4M652.41 676V673.4M652.84 676V671.1M654.12 676V672.2M655.83 676V674.2M656.26 676V673.8M656.69 676V673.0M658.40 676V669.6M659.25 676V672.9M659.68 676V667.7M660.10 676V672.8M660.53 676V666.7M664.80 676V669.6M666.09 676V673.7M668.22 676V673.9M669.50 676V670.0M669.93 676V670.9M671.21 676V672.5M672.07 676V674.1M673.35 676V670.2M674.20 676V668.0M675.49 676V674.4M676.77 676V672.0M677.62 676V670.1M678.05 676V670.8M678.90 676V672.9M679.33 676V671.1M679.76 676V671.1M680.19 676V664.9M680.61 676V670.7M681.47 676V669.6M681.89 676V673.1M683.18 676V673.6M684.89 676V671.7M685.74 676V674.3M686.59 676V671.4M687.45 676V674.1M689.16 676V671.6M689.58 676V670.6M690.01 676V673.5M690.44 676V667.5M690.87 676V674.2M693.00 676V667.0M694.71 676V671.6M695.14 676V671.5M695.57 676V673.4M698.13 676V674.2M698.56 676V669.4M698.98 676V672.5M699.41 676V672.9M699.84 676V672.1M700.27 676V673.0M701.98 676V672.9M702.40 676V673.1M703.26 676V673.4M704.54 676V671.9M704.97 676V672.9M707.10 676V661.0M707.53 676V665.2M707.96 676V672.5M708.81 676V672.7M709.24 676V671.9M709.67 676V674.1M711.37 676V673.7M711.80 676V670.7M712.23 676V671.4M712.66 676V672.0M713.08 676V669.8M713.51 676V672.7M714.79 676V664.4M715.22 676V670.5M716.07 676V671.0M717.36 676V673.5M719.07 676V672.7M720.35 676V673.3M721.63 676V673.7M722.06 676V671.8M722.48 676V671.1M722.91 676V673.5M724.19 676V668.1M724.62 676V670.1M725.47 676V672.7M725.90 676V673.1M726.33 676V669.2M728.46 676V671.4M729.32 676V671.7M729.75 676V671.0M731.03 676V671.0M732.31 676V671.6M733.59 676V672.6M735.30 676V670.8M736.16 676V672.3M737.86 676V672.3M738.72 676V672.6M739.15 676V673.1M740.85 676V673.2M742.56 676V672.4M743.42 676V673.6M745.13 676V673.9M745.98 676V671.5M746.41 676V673.7M746.84 676V670.4M748.12 676V668.7M748.55 676V673.9M749.40 676V673.4M749.83 676V670.6M750.25 676V673.1M751.54 676V673.4M752.82 676V672.3M754.10 676V673.0M755.38 676V674.4M755.81 676V670.1M757.09 676V672.2M757.52 676V671.4M758.37 676V665.8M758.80 676V667.1M759.65 676V671.5M760.08 676V671.2M762.64 676V674.1M764.35 676V671.8M765.21 676V674.0M765.64 676V671.3M766.49 676V670.1M767.77 676V673.0M769.48 676V672.3M769.91 676V670.5M772.04 676V672.8M773.75 676V674.2M774.18 676V669.9M774.61 676V673.4M775.46 676V673.0M776.32 676V671.5M777.60 676V673.4M778.88 676V674.4M779.73 676V673.6M781.87 676V672.9M782.30 676V670.5M784.01 676V673.2M785.29 676V668.6M786.57 676V672.3M787.43 676V672.4M788.28 676V672.4M788.71 676V671.2M789.56 676V672.4M789.99 676V673.2M791.27 676V673.6M792.12 676V673.4M792.98 676V674.1M794.26 676V672.5M795.12 676V673.2M795.97 676V669.6M796.82 676V673.2M797.25 676V670.4M798.53 676V672.5M798.96 676V668.7M799.39 676V671.9M800.67 676V669.6M802.38 676V672.7M802.81 676V671.7M804.52 676V673.5M804.94 676V669.9M805.37 676V672.3M805.80 676V670.0M806.22 676V671.8M806.65 676V673.1M807.51 676V663.2M808.36 676V672.3M808.79 676V671.6M809.64 676V672.3M810.50 676V674.3M811.35 676V669.2M812.63 676V672.0M814.77 676V673.7M815.20 676V666.7M815.62 676V671.2M816.05 676V673.2M816.48 676V672.8M816.91 676V672.7M819.47 676V671.4M821.18 676V672.8M822.03 676V671.9M822.46 676V670.3M822.89 676V674.2M823.31 676V673.8M823.74 676V666.0M825.02 676V673.0M825.45 676V674.2M826.30 676V673.2M827.16 676V673.4M827.59 676V672.3M828.01 676V670.4M829.30 676V672.4M830.58 676V674.3M831.00 676V673.4M831.86 676V673.8M832.29 676V673.3M833.14 676V671.1M833.57 676V666.7M834.42 676V669.4M834.85 676V670.5M835.28 676V671.0M836.13 676V670.7M836.56 676V672.5M836.99 676V673.1M837.84 676V671.4M839.98 676V670.8M840.40 676V672.9M841.26 676V673.1M842.11 676V672.6M843.39 676V667.7M845.96 676V671.1M847.24 676V673.4M848.09 676V672.9M848.95 676V672.8M849.38 676V670.2M850.23 676V671.4M851.94 676V673.5M852.37 676V668.3M852.79 676V672.6M853.22 676V667.8M853.65 676V669.9M854.08 676V671.3M854.50 676V671.8M854.93 676V672.7M855.36 676V669.3M855.79 676V665.1M856.21 676V667.5M857.49 676V670.7M857.92 676V672.5M858.78 676V671.4M859.63 676V671.9M860.91 676V671.0M862.19 676V660.0M862.62 676V670.5M865.61 676V667.9" style="stroke:#7a2228;stroke-opacity:0.13;stroke-width:0.5px"/><path class="u" d="M7.69 644.6V648.3"/><path class="u b" d="M7.69 647.5V645.7"/><path class="d" d="M8.12 645.1V647.7M8.55 645.5V647.6"/><path class="d b" d="M8.12 645.6V646.2M8.55 646.1V647.3"/><path class="u" d="M8.98 644.6V649.1"/><path class="u b" d="M8.98 647.3V645.4"/><path class="d" d="M9.40 645.4V647.6M9.83 647.4V654.3M10.26 652.0V653.6M10.68 652.3V655.4M11.11 652.1V654.7M11.54 652.4V655.4M11.97 654.2V655.4"/><path class="d b" d="M9.40 645.4V647.4M9.83 647.4V652.4M10.26 652.2V652.8M10.68 652.6V654.1M11.11 654.1V654.7M11.54 654.3V654.9M11.97 654.6V655.4"/><path class="u" d="M12.39 653.6V655.4"/><path class="u b" d="M12.39 655.4V654.2"/><path class="d" d="M12.82 653.0V655.0"/><path class="d b" d="M12.82 654.0V654.6"/><path class="u" d="M13.25 648.3V654.9M13.68 648.3V649.6M14.10 648.3V649.6M14.53 648.5V650.7"/><path class="u b" d="M13.25 654.5V649.2M13.68 648.9V649.5M14.10 648.9V649.5M14.53 648.9V649.5"/><path class="d" d="M14.96 648.7V651.7"/><path class="d b" d="M14.96 649.2V650.9"/><path class="u" d="M15.38 648.9V652.1"/><path class="u b" d="M15.38 650.9V649.2"/><path class="d" d="M15.81 648.3V650.6"/><path class="d b" d="M15.81 649.2V650.1"/><path class="u" d="M16.24 649.0V650.7"/><path class="u b" d="M16.24 649.8V650.4"/><path class="d" d="M16.67 649.2V653.4M17.09 651.0V653.2"/><path class="d b" d="M16.67 650.0V652.4M17.09 652.3V652.9"/><path class="u" d="M17.52 651.0V654.9"/><path class="u b" d="M17.52 652.8V651.4"/><path class="d" d="M17.95 649.5V652.7M18.38 651.1V655.4M18.80 653.1V655.2"/><path class="d b" d="M17.95 651.4V652.5M18.38 652.5V653.9M18.80 653.9V654.6"/><path class="u" d="M19.23 651.2V655.4M19.66 650.0V653.1"/><path class="u b" d="M19.23 654.6V651.6M19.66 651.6V650.2"/><path class="d" d="M20.08 650.1V652.3"/><path class="d b" d="M20.08 650.2V650.8"/><path class="u" d="M20.51 648.8V650.9"/><path class="u b" d="M20.51 650.5V651.1"/><path class="d" d="M20.94 650.4V653.5M21.37 650.6V653.9M21.79 651.0V653.9"/><path class="d b" d="M20.94 650.8V651.5M21.37 651.5V652.2M21.79 652.2V653.1"/><path class="u" d="M22.22 650.2V654.8M22.65 649.3V651.0"/><path class="u b" d="M22.22 653.1V650.7M22.65 650.7V649.7"/><path class="d" d="M23.07 648.8V651.4M23.50 649.9V653.3"/><path class="d b" d="M23.07 649.7V650.3M23.50 650.3V652.8"/><path class="u" d="M23.93 650.8V653.2"/><path class="u b" d="M23.93 652.3V652.9"/><path class="d" d="M24.36 651.9V653.4"/><path class="d b" d="M24.36 652.4V653.0"/><path class="u" d="M24.78 649.7V654.2M25.21 646.9V650.8M25.64 645.9V649.3"/><path class="u b" d="M24.78 652.9V650.5M25.21 650.5V648.8M25.64 648.8V646.5"/><path class="d" d="M26.07 645.9V649.2"/><path class="d b" d="M26.07 646.5V648.3"/><path class="u" d="M26.49 645.4V648.7M26.92 644.4V645.7M27.35 639.9V645.8"/><path class="u b" d="M26.49 648.3V645.7M26.92 645.4V646.0M27.35 645.6V642.4"/><path class="d" d="M27.77 642.3V643.3"/><path class="d b" d="M27.77 642.4V643.0"/><path class="u" d="M28.20 640.5V643.5"/><path class="u b" d="M28.20 643.0V641.1"/><path class="d" d="M28.63 639.8V644.1"/><path class="d b" d="M28.63 641.1V643.6"/><path class="u" d="M29.06 640.1V645.2M29.48 638.8V643.3M29.91 638.8V640.5"/><path class="u b" d="M29.06 643.6V641.9M29.48 641.9V640.0M29.91 639.6V640.2"/><path class="d" d="M30.34 639.5V641.0M30.77 640.1V642.0"/><path class="d b" d="M30.34 639.8V640.8M30.77 640.8V641.8"/><path class="u" d="M31.19 641.6V642.7M31.62 639.7V641.9M32.05 638.9V641.9"/><path class="u b" d="M31.19 641.4V642.0M31.62 641.1V641.7M32.05 641.2V639.8"/><path class="d" d="M32.47 638.2V642.7"/><path class="d b" d="M32.47 639.8V641.5"/><path class="u" d="M32.90 640.0V642.5M33.33 638.2V642.2"/><path class="u b" d="M32.90 641.0V641.6M33.33 641.0V638.3"/><path class="d" d="M33.76 636.3V640.6M34.18 639.1V640.8"/><path class="d b" d="M33.76 638.3V639.9M34.18 639.8V640.4"/><path class="u" d="M34.61 635.1V640.9M35.04 635.0V636.2M35.47 631.1V636.3M35.89 630.6V631.8M36.32 629.2V634.3M36.75 625.7V631.9M37.17 624.6V628.2"/><path class="u b" d="M34.61 640.2V635.9M35.04 635.5V636.1M35.47 635.6V631.8M35.89 631.3V631.9M36.32 631.4V630.5M36.75 630.5V627.0M37.17 627.0V625.5"/><path class="d" d="M37.60 625.1V628.6"/><path class="d b" d="M37.60 625.5V626.6"/><path class="u" d="M38.03 623.3V629.3"/><path class="u b" d="M38.03 626.6V625.2"/><path class="d" d="M38.46 625.0V628.7M38.88 625.6V629.3"/><path class="d b" d="M38.46 625.2V627.6M38.88 627.5V628.1"/><path class="u" d="M39.31 627.1V629.3M39.74 627.7V629.2M40.16 627.1V629.3M40.59 622.4V628.9"/><path class="u b" d="M39.31 627.8V628.4M39.74 627.8V628.4M40.16 628.1V627.3M40.59 627.3V623.0"/><path class="d" d="M41.02 621.8V623.9"/><path class="d b" d="M41.02 623.0V623.6"/><path class="u" d="M41.45 619.3V624.3M41.87 616.6V621.5M42.30 614.9V618.6"/><path class="u b" d="M41.45 623.6V619.9M41.87 619.9V618.3M42.30 618.3V615.9"/><path class="d" d="M42.73 614.6V619.3"/><path class="d b" d="M42.73 615.9V617.5"/><path class="u" d="M43.16 612.0V621.3"/><path class="u b" d="M43.16 617.5V612.0"/><path class="d" d="M43.58 610.7V614.3"/><path class="d b" d="M43.58 612.0V613.9"/><path class="u" d="M44.01 607.9V616.2M44.44 605.5V611.7"/><path class="u b" d="M44.01 613.9V610.7M44.44 610.7V607.0"/><path class="d" d="M44.86 605.5V610.9M45.29 607.2V612.9M45.72 610.7V622.3"/><path class="d b" d="M44.86 607.0V608.5M45.29 608.5V611.3M45.72 611.3V618.8"/><path class="u" d="M46.15 609.9V619.0"/><path class="u b" d="M46.15 618.8V612.9"/><path class="d" d="M46.57 610.9V617.5"/><path class="d b" d="M46.57 612.9V615.8"/><path class="u" d="M47.00 612.2V616.4M47.43 606.3V612.7"/><path class="u b" d="M47.00 615.8V612.4M47.43 612.4V608.1"/><path class="d" d="M47.86 604.4V611.4M48.28 608.3V612.6"/><path class="d b" d="M47.86 608.1V609.0M48.28 609.0V612.2"/><path class="u" d="M48.71 605.9V616.9"/><path class="u b" d="M48.71 612.2V609.1"/><path class="d" d="M49.14 608.2V616.2M49.56 608.5V614.8M49.99 612.7V615.9"/><path class="d b" d="M49.14 609.1V612.9M49.56 612.9V613.8M49.99 613.8V615.5"/><path class="u" d="M50.42 615.4V615.5M50.85 613.0V616.9M51.27 611.9V615.6M51.70 608.7V616.9"/><path class="u b" d="M50.42 615.2V615.8M50.85 615.5V614.8M51.27 614.8V613.8M51.70 613.2V613.8"/><path class="d" d="M52.13 613.1V615.2"/><path class="d b" d="M52.13 613.2V614.1"/><path class="u" d="M52.55 603.8V616.7M52.98 602.2V610.1M53.41 598.8V603.6M53.84 599.3V604.1M54.26 589.3V600.2M54.69 584.9V595.3M55.12 585.1V588.9M55.55 575.1V589.0M55.97 571.5V581.2M56.40 578.0V580.2"/><path class="u b" d="M52.55 614.1V607.8M52.98 607.8V602.4M53.41 602.4V600.2M53.84 599.6V600.2M54.26 599.7V593.0M54.69 593.0V588.5M55.12 588.0V588.6M55.55 588.2V580.0M55.97 579.4V580.0M56.40 579.5V578.6"/><path class="d" d="M56.83 573.7V583.5"/><path class="d b" d="M56.83 578.6V582.5"/><path class="u" d="M57.25 577.4V583.9M57.68 575.3V585.5"/><path class="u b" d="M57.25 582.5V578.2M57.68 578.2V576.1"/><path class="d" d="M58.11 569.1V579.9"/><path class="d b" d="M58.11 576.1V578.1"/><path class="u" d="M58.54 568.3V580.6M58.96 567.5V573.1M59.39 562.1V574.6M59.82 556.8V563.2"/><path class="u b" d="M58.54 578.1V571.8M58.96 571.8V570.6M59.39 570.6V562.5M59.82 562.5V557.1"/><path class="d" d="M60.25 553.9V564.7"/><path class="d b" d="M60.25 557.1V563.5"/><path class="u" d="M60.67 555.6V563.9M61.10 546.9V562.1M61.53 540.3V551.8M61.95 531.5V547.0M62.38 528.0V536.0M62.81 523.4V531.2"/><path class="u b" d="M60.67 563.5V557.7M61.10 557.7V550.0M61.53 550.0V541.3M61.95 541.3V533.0M62.38 533.0V531.2M62.81 531.2V528.1"/><path class="d" d="M63.24 524.5V531.5"/><path class="d b" d="M63.24 528.1V529.5"/><path class="u" d="M63.66 504.7V533.4M64.09 491.6V512.5"/><path class="u b" d="M63.66 529.5V510.8M64.09 510.8V498.3"/><path class="d" d="M64.52 493.4V523.5M64.95 510.7V520.7M65.37 515.8V550.1"/><path class="d b" d="M64.52 498.3V511.0M64.95 511.0V519.4M65.37 519.4V524.4"/><path class="u" d="M65.80 516.8V531.1M66.23 505.3V525.1M66.65 498.6V523.1M67.08 499.5V511.8M67.51 498.8V511.8"/><path class="u b" d="M65.80 524.4V519.6M66.23 519.6V515.3M66.65 515.3V505.5M67.08 505.5V504.0M67.51 503.6V504.2"/><path class="d" d="M67.94 500.4V513.6"/><path class="d b" d="M67.94 503.8V511.7"/><path class="u" d="M68.36 501.0V521.6"/><path class="u b" d="M68.36 511.7V501.4"/><path class="d" d="M68.79 497.9V528.6M69.22 520.6V541.5"/><path class="d b" d="M68.79 501.4V523.9M69.22 523.9V535.7"/><path class="u" d="M69.64 532.6V542.5"/><path class="u b" d="M69.64 535.3V535.9"/><path class="d" d="M70.07 526.5V556.2"/><path class="d b" d="M70.07 535.4V542.4"/><path class="u" d="M70.50 536.2V553.8M70.93 528.2V542.8"/><path class="u b" d="M70.50 542.4V536.8M70.93 536.8V532.1"/><path class="d" d="M71.35 528.2V543.1M71.78 530.6V550.5"/><path class="d b" d="M71.35 532.1V536.9M71.78 536.9V546.6"/><path class="u" d="M72.21 533.6V552.8M72.64 532.7V542.0M73.06 531.9V541.3"/><path class="u b" d="M72.21 546.6V537.0M72.64 537.0V535.2M73.06 535.2V533.6"/><path class="d" d="M73.49 528.2V537.5"/><path class="d b" d="M73.49 533.4V534.0"/><path class="u" d="M73.92 514.8V534.7M74.34 491.0V520.9"/><path class="u b" d="M73.92 533.7V520.9M74.34 520.9V495.9"/><path class="d" d="M74.77 493.1V509.6M75.20 502.1V506.4"/><path class="d b" d="M74.77 495.9V503.7M75.20 503.7V506.4"/><path class="u" d="M75.63 486.4V509.4M76.05 491.6V497.5M76.48 490.4V495.4M76.91 464.1V492.8M77.34 460.5V476.4M77.76 455.3V470.4M78.19 452.8V459.7M78.62 442.4V463.7M79.04 421.0V452.8M79.47 410.7V440.9"/><path class="u b" d="M75.63 506.4V496.3M76.05 496.3V494.7M76.48 494.7V490.5M76.91 490.5V470.4M77.34 470.4V468.5M77.76 468.5V457.9M78.19 457.9V455.8M78.62 455.8V442.9M79.04 442.9V431.1M79.47 431.1V421.2"/><path class="d" d="M79.90 415.4V426.8M80.33 416.5V428.6M80.75 423.4V451.0"/><path class="d b" d="M79.90 421.2V423.4M80.33 423.4V427.1M80.75 427.1V441.7"/><path class="u" d="M81.18 425.1V441.9"/><path class="u b" d="M81.18 441.7V432.7"/><path class="d" d="M81.61 429.6V442.3"/><path class="d b" d="M81.61 432.7V440.8"/><path class="u" d="M82.04 422.8V445.7M82.46 410.3V435.7M82.89 407.5V424.3"/><path class="u b" d="M82.04 440.8V426.8M82.46 426.8V412.6M82.89 412.6V411.6"/><path class="d" d="M83.32 407.5V433.9M83.74 431.7V486.0"/><path class="d b" d="M83.32 411.6V433.5M83.74 433.5V477.3"/><path class="u" d="M84.17 470.2V478.3M84.60 466.1V477.4M85.03 466.3V470.4M85.45 459.9V473.0"/><path class="u b" d="M84.17 477.3V475.8M84.60 475.8V470.3M85.03 469.9V470.5M85.45 470.2V466.3"/><path class="d" d="M85.88 463.9V486.0"/><path class="d b" d="M85.88 466.3V474.7"/><path class="u" d="M86.31 455.8V482.8"/><path class="u b" d="M86.31 474.7V468.4"/><path class="d" d="M86.73 463.2V474.9"/><path class="d b" d="M86.73 468.4V473.2"/><path class="u" d="M87.16 441.1V474.4"/><path class="u b" d="M87.16 473.2V453.9"/><path class="d" d="M87.59 453.6V464.0"/><path class="d b" d="M87.59 453.9V459.7"/><path class="u" d="M88.02 452.3V462.2M88.44 445.3V467.2M88.87 430.0V460.6M89.30 405.5V441.5"/><path class="u b" d="M88.02 459.7V455.3M88.44 455.3V450.9M88.87 450.9V434.9M89.30 434.9V417.9"/><path class="d" d="M89.73 405.6V431.1M90.15 419.8V429.8"/><path class="d b" d="M89.73 417.9V420.5M90.15 420.5V423.1"/><path class="u" d="M90.58 407.7V432.5M91.01 390.1V416.8"/><path class="u b" d="M90.58 423.1V410.0M91.01 410.0V390.1"/><path class="d" d="M91.43 390.1V397.2M91.86 390.1V406.4"/><path class="d b" d="M91.43 390.1V392.7M91.86 392.7V399.9"/><path class="u" d="M92.29 390.1V407.3"/><path class="u b" d="M92.29 399.9V390.1"/><path class="d" d="M92.72 390.1V410.1"/><path class="d b" d="M92.72 390.1V407.7"/><path class="u" d="M93.14 402.5V416.5"/><path class="u b" d="M93.14 407.7V406.5"/><path class="d" d="M93.57 398.9V419.4M94.00 412.0V428.3"/><path class="d b" d="M93.57 406.5V413.0M94.00 413.0V422.9"/><path class="u" d="M94.43 415.5V428.8"/><path class="u b" d="M94.43 422.9V418.2"/><path class="d" d="M94.85 417.3V431.6M95.28 412.0V424.7M95.71 423.2V439.5M96.13 436.5V444.7M96.56 438.2V447.5"/><path class="d b" d="M94.85 418.2V422.8M95.28 422.8V423.9M95.71 423.9V438.8M96.13 438.6V439.2M96.56 439.0V439.8"/><path class="u" d="M96.99 427.2V441.3"/><path class="u b" d="M96.99 439.8V429.8"/><path class="d" d="M97.42 424.6V447.3"/><path class="d b" d="M97.42 429.8V439.7"/><path class="u" d="M97.84 411.1V447.5M98.27 400.0V418.9M98.70 379.8V413.0"/><path class="u b" d="M97.84 439.7V417.1M98.27 417.1V404.3M98.70 404.3V400.5"/><path class="d" d="M99.13 387.8V412.0"/><path class="d b" d="M99.13 400.5V406.2"/><path class="u" d="M99.55 387.8V409.4"/><path class="u b" d="M99.55 406.2V390.4"/><path class="d" d="M99.98 387.6V414.4"/><path class="d b" d="M99.98 390.4V406.9"/><path class="u" d="M100.41 394.3V413.8"/><path class="u b" d="M100.41 406.9V399.2"/><path class="d" d="M100.83 388.8V406.6M101.26 395.1V413.7"/><path class="d b" d="M100.83 399.2V402.9M101.26 402.9V408.2"/><path class="u" d="M101.69 395.7V409.8"/><path class="u b" d="M101.69 408.2V404.1"/><path class="d" d="M102.12 400.8V421.4"/><path class="d b" d="M102.12 404.1V416.7"/><path class="u" d="M102.54 390.8V432.6M102.97 374.2V413.2"/><path class="u b" d="M102.54 416.7V392.2M102.97 392.2V374.2"/><path class="d" d="M103.40 374.2V403.7"/><path class="d b" d="M103.40 374.2V400.0"/><path class="u" d="M103.83 383.3V404.5"/><path class="u b" d="M103.83 400.0V389.8"/><path class="d" d="M104.25 389.5V393.4"/><path class="d b" d="M104.25 389.8V390.4"/><path class="u" d="M104.68 374.2V407.9"/><path class="u b" d="M104.68 390.4V380.9"/><path class="d" d="M105.11 374.2V409.4"/><path class="d b" d="M105.11 380.9V390.1"/><path class="u" d="M105.53 381.1V393.2M105.96 374.2V390.6"/><path class="u b" d="M105.53 389.8V390.4M105.96 390.1V377.9"/><path class="d" d="M106.39 374.2V401.4M106.82 391.1V432.5M107.24 419.7V430.9"/><path class="d b" d="M106.39 377.9V397.6M106.82 397.6V424.3M107.24 424.3V425.5"/><path class="u" d="M107.67 413.4V431.5"/><path class="u b" d="M107.67 425.5V416.1"/><path class="d" d="M108.10 412.3V452.2"/><path class="d b" d="M108.10 416.1V450.3"/><path class="u" d="M108.52 442.5V450.8"/><path class="u b" d="M108.52 450.3V444.7"/><path class="d" d="M108.95 435.5V459.8M109.38 455.4V465.5"/><path class="d b" d="M108.95 444.7V456.5M109.38 456.5V459.5"/><path class="u" d="M109.81 447.7V465.5"/><path class="u b" d="M109.81 459.5V455.2"/><path class="d" d="M110.23 452.1V463.6"/><path class="d b" d="M110.23 455.2V461.4"/><path class="u" d="M110.66 424.2V462.4M111.09 429.1V437.8M111.52 426.0V436.8M111.94 419.5V434.8M112.37 401.4V426.7M112.80 401.4V426.7"/><path class="u b" d="M110.66 461.4V437.0M111.09 437.0V435.0M111.52 435.0V433.0M111.94 433.0V423.1M112.37 423.1V411.2M112.80 411.2V405.9"/><path class="d" d="M113.22 402.8V433.2"/><path class="d b" d="M113.22 405.9V426.2"/><path class="u" d="M113.65 401.4V432.7M114.08 401.4V409.2M114.51 401.4V405.2"/><path class="u b" d="M113.65 426.2V407.9M114.08 407.9V402.6M114.51 402.6V401.4"/><path class="d" d="M114.93 401.4V412.7M115.36 401.4V407.4M115.79 401.4V440.2M116.22 421.4V435.2M116.64 430.0V457.5"/><path class="d b" d="M114.93 401.4V402.8M115.36 402.8V405.0M115.79 405.0V421.7M116.22 421.7V432.4M116.64 432.4V447.1"/><path class="u" d="M117.07 443.9V457.2"/><path class="u b" d="M117.07 447.1V445.2"/><path class="d" d="M117.50 444.0V463.1M117.92 457.4V467.2M118.35 462.1V490.1M118.78 481.0V499.5M119.21 492.3V507.8M119.63 492.2V509.1M120.06 498.5V552.6"/><path class="d b" d="M117.50 445.2V458.2M117.92 458.2V465.6M118.35 465.6V486.5M118.78 486.5V493.8M119.21 493.8V507.1M119.63 507.1V509.0M120.06 509.0V516.7"/><path class="u" d="M120.49 512.6V519.0M120.92 504.7V523.7"/><path class="u b" d="M120.49 516.4V517.0M120.92 516.7V505.6"/><path class="d" d="M121.34 505.4V517.5"/><path class="d b" d="M121.34 505.6V510.8"/><path class="u" d="M121.77 504.7V515.6M122.20 501.5V514.0"/><path class="u b" d="M121.77 510.8V505.8M122.20 505.4V506.0"/><path class="d" d="M122.62 504.4V514.8"/><path class="d b" d="M122.62 505.6V509.6"/><path class="u" d="M123.05 505.6V517.3M123.48 498.5V515.9"/><path class="u b" d="M123.05 509.6V508.3M123.48 508.3V503.4"/><path class="d" d="M123.91 502.7V517.3"/><path class="d b" d="M123.91 503.4V508.3"/><path class="u" d="M124.33 503.8V517.3"/><path class="u b" d="M124.33 508.3V504.3"/><path class="d" d="M124.76 500.1V514.2M125.19 505.9V517.3"/><path class="d b" d="M124.76 504.3V508.2M125.19 508.2V513.5"/><path class="u" d="M125.61 500.7V517.3M126.04 507.8V517.3M126.47 490.3V514.2"/><path class="u b" d="M125.61 513.2V513.8M126.04 513.5V509.8M126.47 509.8V494.6"/><path class="d" d="M126.90 490.3V513.8M127.32 498.2V511.5M127.75 510.0V517.3"/><path class="d b" d="M126.90 494.6V504.2M127.32 504.2V511.0M127.75 511.0V513.5"/><path class="u" d="M128.18 497.5V517.3M128.61 511.5V517.3M129.03 511.8V517.3M129.46 510.7V515.1M129.89 501.5V515.8M130.31 493.5V502.8"/><path class="u b" d="M128.18 513.2V513.8M128.61 513.2V513.8M129.03 513.2V513.8M129.46 513.2V513.8M129.89 513.5V501.8M130.31 501.8V496.9"/><path class="d" d="M130.74 490.3V507.5"/><path class="d b" d="M130.74 496.9V503.3"/><path class="u" d="M131.17 497.7V517.8"/><path class="u b" d="M131.17 503.3V498.8"/><path class="d" d="M131.60 498.1V516.8M132.02 494.7V509.4M132.45 498.9V507.4"/><path class="d b" d="M131.60 498.8V503.4M132.02 503.4V505.2M132.45 505.2V507.2"/><path class="u" d="M132.88 499.0V518.1"/><path class="u b" d="M132.88 507.2V506.3"/><path class="d" d="M133.31 504.1V530.6"/><path class="d b" d="M133.31 506.3V529.5"/><path class="u" d="M133.73 524.7V532.7"/><path class="u b" d="M133.73 529.5V525.9"/><path class="d" d="M134.16 523.3V532.5M134.59 531.5V558.8M135.01 530.8V543.1M135.44 539.1V555.9"/><path class="d b" d="M134.16 525.9V531.8M134.59 531.8V539.8M135.01 539.8V540.9M135.44 540.9V549.8"/><path class="u" d="M135.87 540.8V551.4M136.30 535.5V545.2M136.72 530.9V539.2M137.15 526.8V538.8M137.58 525.5V534.0M138.00 525.0V535.3"/><path class="u b" d="M135.87 549.8V542.6M136.30 542.6V536.0M136.72 536.0V533.8M137.15 533.8V530.1M137.58 530.1V528.6M138.00 528.3V528.9"/><path class="d" d="M138.43 525.0V532.7"/><path class="d b" d="M138.43 528.6V531.3"/><path class="u" d="M138.86 528.3V536.7"/><path class="u b" d="M138.86 531.3V528.6"/><path class="d" d="M139.29 525.4V539.0"/><path class="d b" d="M139.29 528.6V537.7"/><path class="u" d="M139.71 536.3V538.1M140.14 527.9V541.5"/><path class="u b" d="M139.71 537.7V536.9M140.14 536.9V528.6"/><path class="d" d="M140.57 525.0V535.4"/><path class="d b" d="M140.57 528.6V532.1"/><path class="u" d="M141.00 528.7V533.2"/><path class="u b" d="M141.00 532.1V529.4"/><path class="d" d="M141.42 526.7V534.9"/><path class="d b" d="M141.42 529.4V530.5"/><path class="u" d="M141.85 525.0V535.1"/><path class="u b" d="M141.85 530.5V528.6"/><path class="d" d="M142.28 527.1V536.4M142.70 533.8V555.5"/><path class="d b" d="M142.28 528.6V535.6M142.70 535.6V550.5"/><path class="u" d="M143.13 547.9V554.2M143.56 542.7V552.2M143.99 538.0V559.2M144.41 535.7V543.6"/><path class="u b" d="M143.13 550.5V548.9M143.56 548.9V547.3M143.99 547.3V542.1M144.41 542.1V539.0"/><path class="d" d="M144.84 535.4V553.1M145.27 546.5V553.7"/><path class="d b" d="M144.84 539.0V548.8M145.27 548.8V552.0"/><path class="u" d="M145.70 542.3V555.4"/><path class="u b" d="M145.70 552.0V542.5"/><path class="d" d="M146.12 532.8V555.2M146.55 544.7V557.1M146.98 553.5V559.6"/><path class="d b" d="M146.12 542.5V546.4M146.55 546.4V553.6M146.98 553.6V556.7"/><path class="u" d="M147.40 550.5V556.8M147.83 538.0V554.8M148.26 529.5V542.8M148.69 532.9V542.9"/><path class="u b" d="M147.40 556.7V553.2M147.83 553.2V538.0M148.26 538.0V535.1M148.69 534.6V535.2"/><path class="d" d="M149.11 526.3V543.0M149.54 540.1V549.4"/><path class="d b" d="M149.11 534.8V542.2M149.54 542.2V549.1"/><path class="u" d="M149.97 539.6V550.9M150.40 525.1V545.6"/><path class="u b" d="M149.97 549.1V540.4M150.40 540.4V529.6"/><path class="d" d="M150.82 520.8V542.4"/><path class="d b" d="M150.82 529.6V541.9"/><path class="u" d="M151.25 536.0V552.6"/><path class="u b" d="M151.25 541.9V540.5"/><path class="d" d="M151.68 536.4V544.1"/><path class="d b" d="M151.68 540.5V544.0"/><path class="u" d="M152.10 534.5V549.4M152.53 510.5V539.5"/><path class="u b" d="M152.10 544.0V537.8M152.53 537.8V524.1"/><path class="d" d="M152.96 516.0V539.6"/><path class="d b" d="M152.96 524.1V531.9"/><path class="u" d="M153.39 517.7V536.2M153.81 506.0V534.1M154.24 493.1V511.7"/><path class="u b" d="M153.39 531.9V528.2M153.81 528.2V510.2M154.24 510.2V505.5"/><path class="d" d="M154.67 503.5V526.6"/><path class="d b" d="M154.67 505.5V518.8"/><path class="u" d="M155.09 508.6V520.2"/><path class="u b" d="M155.09 518.8V515.6"/><path class="d" d="M155.52 515.4V517.2"/><path class="d b" d="M155.52 515.6V516.5"/><path class="u" d="M155.95 490.6V517.2M156.38 483.3V505.3M156.80 473.4V492.8M157.23 458.9V478.4"/><path class="u b" d="M155.95 516.5V497.2M156.38 497.2V489.9M156.80 489.9V474.3M157.23 474.3V465.5"/><path class="d" d="M157.66 456.2V473.4"/><path class="d b" d="M157.66 465.5V469.6"/><path class="u" d="M158.09 460.5V474.9M158.51 456.1V466.7M158.94 451.5V465.1"/><path class="u b" d="M158.09 469.6V464.9M158.51 464.9V458.2M158.94 458.2V455.4"/><path class="d" d="M159.37 454.7V474.9"/><path class="d b" d="M159.37 455.4V461.8"/><path class="u" d="M159.79 451.6V469.8M160.22 439.6V467.1"/><path class="u b" d="M159.79 461.8V459.8M160.22 459.8V439.7"/><path class="d" d="M160.65 435.2V456.7M161.08 450.3V474.9"/><path class="d b" d="M160.65 439.7V452.2M161.08 452.2V470.2"/><path class="u" d="M161.50 460.4V474.9M161.93 466.2V470.5M162.36 452.9V474.9M162.79 443.0V461.4"/><path class="u b" d="M161.50 469.9V470.5M161.93 469.9V470.5M162.36 470.2V457.5M162.79 457.5V456.1"/><path class="d" d="M163.21 452.1V462.0"/><path class="d b" d="M163.21 456.1V459.7"/><path class="u" d="M163.64 450.6V461.4M164.07 440.5V460.7M164.49 435.2V453.8"/><path class="u b" d="M163.64 459.7V458.6M164.07 458.6V440.8M164.49 440.8V438.5"/><path class="d" d="M164.92 435.3V448.7M165.35 436.4V453.3"/><path class="d b" d="M164.92 438.5V444.8M165.35 444.8V446.6"/><path class="u" d="M165.78 435.2V455.5M166.20 435.2V440.8"/><path class="u b" d="M165.78 446.6V435.2M166.20 434.9V435.5"/><path class="d" d="M166.63 435.2V446.8"/><path class="d b" d="M166.63 435.2V441.8"/><path class="u" d="M167.06 435.2V445.1"/><path class="u b" d="M167.06 441.8V439.8"/><path class="d" d="M167.49 436.9V444.4M167.91 440.9V454.3M168.34 435.2V468.8M168.77 457.0V482.7"/><path class="d b" d="M167.49 439.8V441.5M167.91 441.5V448.4M168.34 448.4V466.4M168.77 466.4V480.6"/><path class="u" d="M169.19 477.4V480.9"/><path class="u b" d="M169.19 480.6V477.7"/><path class="d" d="M169.62 477.7V483.5M170.05 473.6V482.4M170.48 473.5V491.6M170.90 480.0V491.0"/><path class="d b" d="M169.62 477.7V479.8M170.05 479.8V480.4M170.48 480.4V486.8M170.90 486.8V489.3"/><path class="u" d="M171.33 487.4V500.7M171.76 484.7V489.5"/><path class="u b" d="M171.33 489.3V487.9M171.76 487.6V488.2"/><path class="d" d="M172.19 481.7V497.8M172.61 491.8V500.5M173.04 497.6V502.9M173.47 495.4V502.9"/><path class="d b" d="M172.19 487.8V492.6M172.61 492.6V497.9M173.04 497.7V498.3M173.47 497.8V498.4"/><path class="u" d="M173.89 488.3V498.3M174.32 480.4V496.3M174.75 460.2V480.6"/><path class="u b" d="M173.89 498.3V493.2M174.32 493.2V480.5M174.75 480.5V463.6"/><path class="d" d="M175.18 459.6V494.5"/><path class="d b" d="M175.18 463.6V481.3"/><path class="u" d="M175.60 464.2V485.4M176.03 436.3V474.5"/><path class="u b" d="M175.60 481.3V464.4M176.03 464.4V445.2"/><path class="d" d="M176.46 443.8V464.0M176.88 443.1V462.0"/><path class="d b" d="M176.46 445.2V457.2M176.88 457.2V458.7"/><path class="u" d="M177.31 436.7V474.0"/><path class="u b" d="M177.31 458.7V438.0"/><path class="d" d="M177.74 436.2V471.3"/><path class="d b" d="M177.74 438.0V458.5"/><path class="u" d="M178.17 452.0V460.3"/><path class="u b" d="M178.17 458.5V453.2"/><path class="d" d="M178.59 449.6V461.9M179.02 449.9V470.1"/><path class="d b" d="M178.59 453.2V453.8M179.02 453.8V462.5"/><path class="u" d="M179.45 434.5V463.2M179.88 437.2V447.5M180.30 433.9V448.1M180.73 416.3V452.1"/><path class="u b" d="M179.45 462.5V445.6M179.88 445.2V445.8M180.30 445.5V437.9M180.73 437.9V420.5"/><path class="d" d="M181.16 408.4V424.2M181.58 417.0V431.2"/><path class="d b" d="M181.16 420.5V421.2M181.58 421.2V429.1"/><path class="u" d="M182.01 422.0V434.5"/><path class="u b" d="M182.01 429.1V422.9"/><path class="d" d="M182.44 413.8V433.1"/><path class="d b" d="M182.44 422.9V423.5"/><path class="u" d="M182.87 401.0V430.7"/><path class="u b" d="M182.87 423.4V411.6"/><path class="d" d="M183.29 404.3V422.9M183.72 412.9V430.4M184.15 426.5V441.7"/><path class="d b" d="M183.29 411.6V421.7M183.72 421.7V430.1M184.15 430.1V436.4"/><path class="u" d="M184.58 389.0V437.4M185.00 377.2V419.6M185.43 375.5V395.6M185.86 362.9V398.4"/><path class="u b" d="M184.58 436.4V398.9M185.00 398.9V385.5M185.43 385.5V383.6M185.86 383.6V368.1"/><path class="d" d="M186.28 365.8V373.0M186.71 362.9V377.4M187.14 368.9V400.8M187.57 382.8V397.0"/><path class="d b" d="M186.28 368.1V369.5M186.71 369.5V375.9M187.14 375.9V385.4M187.57 385.4V389.5"/><path class="u" d="M187.99 369.7V391.1"/><path class="u b" d="M187.99 389.5V372.0"/><path class="d" d="M188.42 362.9V404.6M188.85 396.4V418.8M189.28 400.0V418.2"/><path class="d b" d="M188.42 372.0V399.2M188.85 399.2V407.0M189.28 407.0V412.9"/><path class="u" d="M189.70 400.3V416.4M190.13 393.9V401.5"/><path class="u b" d="M189.70 412.9V400.6M190.13 400.6V395.7"/><path class="d" d="M190.56 392.3V400.8M190.98 389.1V418.8M191.41 399.2V418.8"/><path class="d b" d="M190.56 395.7V397.3M190.98 397.3V408.1M191.41 408.1V412.9"/><path class="u" d="M191.84 393.2V416.0M192.27 376.7V403.4M192.69 354.4V387.2"/><path class="u b" d="M191.84 412.9V403.3M192.27 403.3V384.3M192.69 384.3V367.6"/><path class="d" d="M193.12 353.7V413.5"/><path class="d b" d="M193.12 367.6V384.3"/><path class="u" d="M193.55 381.8V406.0M193.97 358.6V389.4"/><path class="u b" d="M193.55 383.9V384.5M193.97 384.1V373.0"/><path class="d" d="M194.40 372.5V376.2M194.83 353.7V387.8M195.26 372.0V394.5M195.68 381.3V397.7M196.11 384.5V406.2M196.54 386.0V403.2"/><path class="d b" d="M194.40 372.7V373.3M194.83 372.8V373.4M195.26 373.2V388.8M195.68 388.8V394.3M196.11 394.3V395.6M196.54 395.6V397.1"/><path class="u" d="M196.97 387.0V403.3M197.39 378.5V396.3"/><path class="u b" d="M196.97 397.1V391.1M197.39 391.1V389.6"/><path class="d" d="M197.82 375.2V410.7M198.25 398.1V424.7"/><path class="d b" d="M197.82 389.6V402.4M198.25 402.4V414.2"/><path class="u" d="M198.67 407.0V427.5M199.10 405.4V411.4M199.53 402.3V412.6"/><path class="u b" d="M198.67 414.2V408.3M199.10 408.0V408.6M199.53 408.0V408.6"/><path class="d" d="M199.96 402.3V421.4M200.38 413.5V434.7M200.81 405.8V441.1"/><path class="d b" d="M199.96 408.3V414.3M200.38 414.3V429.7M200.81 429.7V437.6"/><path class="u" d="M201.24 434.0V442.9M201.67 423.7V440.0M202.09 421.6V442.9M202.52 412.1V427.3M202.95 410.5V418.5"/><path class="u b" d="M201.24 437.3V437.9M201.67 437.6V432.1M202.09 432.1V423.2M202.52 423.2V416.9M202.95 416.9V412.4"/><path class="d" d="M203.37 411.5V414.7M203.80 411.9V426.3M204.23 413.6V433.1M204.66 430.8V463.2M205.08 444.4V491.1"/><path class="d b" d="M203.37 412.4V414.2M203.80 414.2V425.4M204.23 425.4V431.2M204.66 431.2V451.8M205.08 451.8V455.2"/><path class="u" d="M205.51 440.3V466.1"/><path class="u b" d="M205.51 455.2V444.5"/><path class="d" d="M205.94 440.3V456.8M206.37 440.3V470.1"/><path class="d b" d="M205.94 444.5V454.5M206.37 454.5V459.8"/><path class="u" d="M206.79 453.0V462.7"/><path class="u b" d="M206.79 459.8V456.4"/><path class="d" d="M207.22 450.6V472.1M207.65 465.1V484.3M208.07 470.0V488.1"/><path class="d b" d="M207.22 456.4V470.8M207.65 470.8V474.2M208.07 474.2V475.8"/><path class="u" d="M208.50 457.9V482.0"/><path class="u b" d="M208.50 475.8V469.5"/><path class="d" d="M208.93 466.4V482.9"/><path class="d b" d="M208.93 469.5V479.6"/><path class="u" d="M209.36 452.4V481.3M209.78 448.2V463.6M210.21 448.7V466.1M210.64 442.9V453.7"/><path class="u b" d="M209.36 479.6V462.0M209.78 462.0V460.3M210.21 460.3V451.2M210.64 451.2V443.5"/><path class="d" d="M211.06 443.4V463.9M211.49 457.4V473.9"/><path class="d b" d="M211.06 443.5V462.2M211.49 462.2V473.1"/><path class="u" d="M211.92 459.1V480.0M212.35 457.4V466.5M212.77 449.7V467.5M213.20 440.3V460.3M213.63 440.3V449.4"/><path class="u b" d="M211.92 473.1V463.9M212.35 463.9V461.6M212.77 461.6V456.5M213.20 456.5V443.6M213.63 443.6V440.3"/><path class="d" d="M214.06 440.3V459.7"/><path class="d b" d="M214.06 440.3V453.0"/><path class="u" d="M214.48 446.0V454.5M214.91 440.3V455.5M215.34 440.3V446.7"/><path class="u b" d="M214.48 453.0V447.6M214.91 447.6V446.5M215.34 446.5V440.3"/><path class="d" d="M215.76 440.3V453.1M216.19 440.3V456.4"/><path class="d b" d="M215.76 440.3V448.8M216.19 448.8V452.7"/><path class="u" d="M216.62 440.3V458.0"/><path class="u b" d="M216.62 452.7V440.3"/><path class="d" d="M217.05 440.3V453.2M217.47 447.6V469.7M217.90 462.1V486.2"/><path class="d b" d="M217.05 440.3V447.8M217.47 447.8V464.6M217.90 464.6V480.8"/><path class="u" d="M218.33 474.1V485.9"/><path class="u b" d="M218.33 480.8V477.7"/><path class="d" d="M218.76 470.3V500.5M219.18 486.4V489.5M219.61 489.3V500.5"/><path class="d b" d="M218.76 477.7V488.9M219.18 488.9V489.5M219.61 489.5V496.4"/><path class="u" d="M220.04 493.3V500.5M220.46 492.8V500.5M220.89 484.5V504.7"/><path class="u b" d="M220.04 496.1V496.7M220.46 496.4V494.9M220.89 494.9V492.1"/><path class="d" d="M221.32 492.0V498.8"/><path class="d b" d="M221.32 492.1V496.5"/><path class="u" d="M221.75 484.8V499.3"/><path class="u b" d="M221.75 496.5V492.0"/><path class="d" d="M222.17 490.1V498.8M222.60 484.5V512.7M223.03 505.0V518.4"/><path class="d b" d="M222.17 492.0V492.6M222.60 492.6V509.1M223.03 509.1V512.9"/><path class="u" d="M223.46 511.1V513.4M223.88 498.2V513.8"/><path class="u b" d="M223.46 512.5V513.1M223.88 512.8V504.0"/><path class="d" d="M224.31 496.4V529.8"/><path class="d b" d="M224.31 504.0V526.3"/><path class="u" d="M224.74 509.5V528.8M225.16 508.5V512.2M225.59 502.9V511.1"/><path class="u b" d="M224.74 526.3V510.0M225.16 510.0V509.0M225.59 509.0V504.1"/><path class="d" d="M226.02 499.4V518.9M226.45 511.1V519.5M226.87 516.0V537.2"/><path class="d b" d="M226.02 504.1V511.8M226.45 511.8V517.3M226.87 517.3V519.3"/><path class="u" d="M227.30 502.0V519.8M227.73 498.9V511.9"/><path class="u b" d="M227.30 519.3V509.2M227.73 509.2V499.5"/><path class="d" d="M228.15 497.9V501.5"/><path class="d b" d="M228.15 499.4V500.0"/><path class="u" d="M228.58 487.8V507.6"/><path class="u b" d="M228.58 499.9V488.4"/><path class="d" d="M229.01 479.8V505.2M229.44 500.2V509.1"/><path class="d b" d="M229.01 488.4V502.0M229.44 502.0V506.2"/><path class="u" d="M229.86 494.0V506.5M230.29 492.3V498.6M230.72 482.9V498.2"/><path class="u b" d="M229.86 506.2V497.5M230.29 497.5V495.9M230.72 495.9V494.6"/><path class="d" d="M231.15 487.2V518.3"/><path class="d b" d="M231.15 494.6V517.7"/><path class="u" d="M231.57 513.0V523.1"/><path class="u b" d="M231.57 517.7V513.4"/><path class="d" d="M232.00 512.4V531.0"/><path class="d b" d="M232.00 513.4V526.3"/><path class="u" d="M232.43 499.0V527.2M232.85 501.9V509.1M233.28 499.8V509.2M233.71 484.3V502.6M234.14 471.6V494.2"/><path class="u b" d="M232.43 526.3V507.6M232.85 507.6V505.8M233.28 505.8V500.8M233.71 500.8V492.5M234.14 492.5V483.4"/><path class="d" d="M234.56 482.8V496.2"/><path class="d b" d="M234.56 483.4V490.5"/><path class="u" d="M234.99 483.4V495.3"/><path class="u b" d="M234.99 490.5V486.5"/><path class="d" d="M235.42 484.9V493.1M235.85 484.5V494.0"/><path class="d b" d="M235.42 486.5V492.3M235.85 492.3V493.2"/><path class="u" d="M236.27 487.5V495.5M236.70 488.1V490.4"/><path class="u b" d="M236.27 493.2V489.3M236.70 488.7V489.3"/><path class="d" d="M237.13 480.0V498.0"/><path class="d b" d="M237.13 488.8V494.9"/><path class="u" d="M237.55 476.7V497.4"/><path class="u b" d="M237.55 494.9V481.1"/><path class="d" d="M237.98 481.0V497.2M238.41 489.8V501.4M238.84 486.4V509.8"/><path class="d b" d="M237.98 481.1V493.5M238.41 493.5V497.3M238.84 497.3V506.5"/><path class="u" d="M239.26 497.3V509.0"/><path class="u b" d="M239.26 506.5V499.1"/><path class="d" d="M239.69 495.3V503.9M240.12 502.9V530.6M240.55 502.6V513.7"/><path class="d b" d="M239.69 499.1V503.3M240.12 503.3V510.1M240.55 510.1V513.5"/><path class="u" d="M240.97 504.4V517.0M241.40 504.0V516.2M241.83 498.2V520.5"/><path class="u b" d="M240.97 513.5V512.3M241.40 512.3V504.9M241.83 504.9V502.4"/><path class="d" d="M242.25 498.4V504.8"/><path class="d b" d="M242.25 502.4V503.6"/><path class="u" d="M242.68 497.8V504.0"/><path class="u b" d="M242.68 503.6V500.2"/><path class="d" d="M243.11 495.1V506.6"/><path class="d b" d="M243.11 500.2V504.4"/><path class="u" d="M243.54 491.4V507.2"/><path class="u b" d="M243.54 504.4V491.5"/><path class="d" d="M243.96 490.1V509.8"/><path class="d b" d="M243.96 491.5V505.8"/><path class="u" d="M244.39 492.3V506.7"/><path class="u b" d="M244.39 505.8V502.0"/><path class="d" d="M244.82 500.7V507.5"/><path class="d b" d="M244.82 502.0V502.7"/><path class="u" d="M245.24 490.5V505.4"/><path class="u b" d="M245.24 502.7V491.5"/><path class="d" d="M245.67 487.7V502.4"/><path class="d b" d="M245.67 491.5V495.7"/><path class="u" d="M246.10 488.8V498.5M246.53 487.7V495.3M246.95 489.0V497.1M247.38 490.3V493.0M247.81 487.7V496.1M248.24 487.7V496.8M248.66 487.7V494.8M249.09 487.7V494.2"/><path class="u b" d="M246.10 495.7V491.5M246.53 491.2V491.8M246.95 491.2V491.8M247.38 491.2V491.8M247.81 491.2V491.8M248.24 491.2V491.8M248.66 491.2V491.8M249.09 491.2V491.8"/><path class="d" d="M249.52 487.7V515.9"/><path class="d b" d="M249.52 491.5V508.4"/><path class="u" d="M249.94 492.4V511.2"/><path class="u b" d="M249.94 508.4V494.7"/><path class="d" d="M250.37 493.5V499.9M250.80 487.9V502.5"/><path class="d b" d="M250.37 494.7V495.3M250.80 495.2V498.7"/><path class="u" d="M251.23 487.2V502.5M251.65 467.3V491.8M252.08 469.6V483.9"/><path class="u b" d="M251.23 498.7V491.7M251.65 491.7V476.7M252.08 476.4V477.0"/><path class="d" d="M252.51 471.8V482.1"/><path class="d b" d="M252.51 476.6V481.6"/><path class="u" d="M252.94 469.9V486.5M253.36 463.9V480.1M253.79 459.3V473.9"/><path class="u b" d="M252.94 481.6V477.3M253.36 477.3V469.4M253.79 469.4V465.0"/><path class="d" d="M254.22 460.0V467.6"/><path class="d b" d="M254.22 465.0V467.4"/><path class="u" d="M254.64 463.2V473.9M255.07 459.3V466.9"/><path class="u b" d="M254.64 467.4V465.6M255.07 465.6V464.0"/><path class="d" d="M255.50 461.9V483.1M255.93 468.5V497.9"/><path class="d b" d="M255.50 464.0V477.0M255.93 477.0V488.6"/><path class="u" d="M256.35 479.4V495.3"/><path class="u b" d="M256.35 488.6V479.6"/><path class="d" d="M256.78 473.1V497.7"/><path class="d b" d="M256.78 479.6V485.9"/><path class="u" d="M257.21 483.1V487.9"/><path class="u b" d="M257.21 485.4V486.0"/><path class="d" d="M257.63 477.3V489.0"/><path class="d b" d="M257.63 485.4V488.2"/><path class="u" d="M258.06 481.1V488.3M258.49 477.7V488.2"/><path class="u b" d="M258.06 488.2V482.1M258.49 482.1V479.2"/><path class="d" d="M258.92 477.8V486.0M259.34 480.6V500.2M259.77 492.5V510.6M260.20 500.3V509.2"/><path class="d b" d="M258.92 479.2V483.5M259.34 483.5V494.7M259.77 494.7V503.9M260.20 503.9V507.4"/><path class="u" d="M260.63 507.3V510.9M261.05 489.9V507.9"/><path class="u b" d="M260.63 507.1V507.7M261.05 507.4V493.4"/><path class="d" d="M261.48 486.5V510.9M261.91 493.5V509.9"/><path class="d b" d="M261.48 493.4V499.6M261.91 499.6V507.4"/><path class="u" d="M262.33 502.6V509.2M262.76 486.5V507.2"/><path class="u b" d="M262.33 507.4V505.2M262.76 505.2V487.6"/><path class="d" d="M263.19 486.5V490.5M263.62 486.5V499.7M264.04 486.7V503.3"/><path class="d b" d="M263.19 487.6V489.2M263.62 489.2V494.7M264.04 494.7V499.6"/><path class="u" d="M264.47 493.9V500.5M264.90 486.5V499.3"/><path class="u b" d="M264.47 499.6V496.2M264.90 496.2V489.7"/><path class="d" d="M265.33 489.2V513.0"/><path class="d b" d="M265.33 489.7V510.8"/><path class="u" d="M265.75 504.5V512.5M266.18 498.2V509.7"/><path class="u b" d="M265.75 510.8V508.8M266.18 508.8V503.2"/><path class="d" d="M266.61 501.9V515.8"/><path class="d b" d="M266.61 503.2V512.5"/><path class="u" d="M267.03 505.0V515.8M267.46 506.3V515.8"/><path class="u b" d="M267.03 512.2V512.8M267.46 512.5V511.7"/><path class="d" d="M267.89 511.1V515.0"/><path class="d b" d="M267.89 511.7V512.5"/><path class="u" d="M268.32 504.1V520.4"/><path class="u b" d="M268.32 512.5V509.0"/><path class="d" d="M268.74 507.6V515.4"/><path class="d b" d="M268.74 509.0V515.3"/><path class="u" d="M269.17 509.8V519.5"/><path class="u b" d="M269.17 515.3V511.6"/><path class="d" d="M269.60 510.3V539.5"/><path class="d b" d="M269.60 511.6V533.9"/><path class="u" d="M270.03 530.8V540.2"/><path class="u b" d="M270.03 533.9V532.5"/><path class="d" d="M270.45 530.7V542.5M270.88 539.7V552.7"/><path class="d b" d="M270.45 532.5V540.4M270.88 540.4V544.2"/><path class="u" d="M271.31 525.3V546.6"/><path class="u b" d="M271.31 544.2V530.5"/><path class="d" d="M271.73 528.8V535.7"/><path class="d b" d="M271.73 530.5V535.0"/><path class="u" d="M272.16 529.9V542.6"/><path class="u b" d="M272.16 535.0V530.1"/><path class="d" d="M272.59 529.3V547.2M273.02 542.6V569.5M273.44 557.2V567.1"/><path class="d b" d="M272.59 530.1V544.6M273.02 544.6V557.7M273.44 557.7V566.3"/><path class="u" d="M273.87 558.5V569.5"/><path class="u b" d="M273.87 566.3V560.9"/><path class="d" d="M274.30 559.3V569.5"/><path class="d b" d="M274.30 560.9V567.2"/><path class="u" d="M274.73 554.8V569.5"/><path class="u b" d="M274.73 567.2V558.4"/><path class="d" d="M275.15 553.2V561.0M275.58 558.4V566.3M276.01 561.2V567.9"/><path class="d b" d="M275.15 558.4V559.2M275.58 559.2V565.0M276.01 565.0V565.6"/><path class="u" d="M276.43 553.0V568.8M276.86 547.7V560.3M277.29 547.7V552.3"/><path class="u b" d="M276.43 565.6V556.6M276.86 556.6V550.4M277.29 550.1V550.7"/><path class="d" d="M277.72 547.7V556.0M278.14 554.9V561.1"/><path class="d b" d="M277.72 550.4V555.2M278.14 555.2V557.0"/><path class="u" d="M278.57 547.7V558.0"/><path class="u b" d="M278.57 557.0V550.4"/><path class="d" d="M279.00 549.5V556.2M279.42 554.2V564.5M279.85 555.5V556.6M280.28 551.4V561.4"/><path class="d b" d="M279.00 550.4V555.3M279.42 555.2V555.8M279.85 555.4V556.0M280.28 555.8V558.8"/><path class="u" d="M280.71 548.1V559.8M281.13 547.7V551.9M281.56 548.0V554.3M281.99 549.2V552.5M282.42 548.9V551.1M282.84 548.7V553.5"/><path class="u b" d="M280.71 558.8V550.4M281.13 550.1V550.7M281.56 550.1V550.7M281.99 550.1V550.7M282.42 550.1V550.7M282.84 550.1V550.7"/><path class="d" d="M283.27 548.6V556.2M283.70 550.9V560.7M284.12 557.4V576.3M284.55 569.7V574.7M284.98 570.5V582.5M285.41 579.4V588.2M285.83 579.6V587.5M286.26 585.2V590.2M286.69 586.1V593.9M287.12 588.6V601.4M287.54 598.8V601.1M287.97 599.0V607.9M288.40 605.2V608.4M288.82 607.0V616.2"/><path class="d b" d="M283.27 550.4V553.1M283.70 553.1V560.5M284.12 560.5V571.1M284.55 570.9V571.5M284.98 571.3V579.7M285.41 579.7V584.3M285.83 584.3V585.2M286.26 585.2V589.1M286.69 589.1V591.1M287.12 591.1V599.3M287.54 599.1V599.7M287.97 599.6V607.7M288.40 607.4V608.0M288.82 607.7V609.0"/><path class="u" d="M289.25 608.4V610.4"/><path class="u b" d="M289.25 608.6V609.2"/><path class="d" d="M289.68 608.6V614.7"/><path class="d b" d="M289.68 608.8V611.3"/><path class="u" d="M290.11 608.2V612.4"/><path class="u b" d="M290.11 611.3V609.0"/><path class="d" d="M290.53 607.5V612.1"/><path class="d b" d="M290.53 609.0V611.7"/><path class="u" d="M290.96 606.0V613.1"/><path class="u b" d="M290.96 611.7V606.1"/><path class="d" d="M291.39 605.5V608.0M291.81 605.7V613.5M292.24 606.7V615.2M292.67 610.6V614.0"/><path class="d b" d="M291.39 606.1V607.9M291.81 607.8V608.4M292.24 608.4V612.7M292.67 612.7V613.4"/><path class="u" d="M293.10 610.6V616.0M293.52 609.9V614.7M293.95 605.2V612.0M294.38 607.3V610.1"/><path class="u b" d="M293.10 613.4V612.5M293.52 612.5V611.2M293.95 611.2V608.7M294.38 608.7V607.5"/><path class="d" d="M294.81 607.2V609.5"/><path class="d b" d="M294.81 607.5V609.5"/><path class="u" d="M295.23 607.5V609.5M295.66 606.6V609.5M296.09 608.7V609.5M296.51 604.7V609.5M296.94 604.7V607.1M297.37 604.7V608.7"/><path class="u b" d="M295.23 609.2V609.8M295.66 609.2V609.8M296.09 609.2V609.8M296.51 609.5V606.1M296.94 605.8V606.4M297.37 605.8V606.4"/><path class="d" d="M297.80 605.6V608.4"/><path class="d b" d="M297.80 606.1V608.3"/><path class="u" d="M298.22 604.7V609.5M298.65 605.7V606.1M299.08 605.6V609.4"/><path class="u b" d="M298.22 608.3V606.1M298.65 605.8V606.4M299.08 605.8V606.4"/><path class="d" d="M299.51 605.9V609.5"/><path class="d b" d="M299.51 606.1V607.5"/><path class="u" d="M299.93 601.3V608.3M300.36 595.6V605.7M300.79 597.9V598.9M301.21 594.9V599.0M301.64 589.5V598.7"/><path class="u b" d="M299.93 607.5V604.4M300.36 604.4V598.6M300.79 598.3V598.9M301.21 598.5V596.6M301.64 596.6V590.7"/><path class="d" d="M302.07 590.3V592.1"/><path class="d b" d="M302.07 590.7V591.9"/><path class="u" d="M302.50 585.4V596.6"/><path class="u b" d="M302.50 591.9V586.5"/><path class="d" d="M302.92 584.4V588.6"/><path class="d b" d="M302.92 586.5V587.5"/><path class="u" d="M303.35 583.3V589.5"/><path class="u b" d="M303.35 587.0V587.6"/><path class="d" d="M303.78 583.0V597.4M304.21 592.0V597.8"/><path class="d b" d="M303.78 587.2V593.2M304.21 593.2V597.7"/><path class="u" d="M304.63 597.2V601.7"/><path class="u b" d="M304.63 597.2V597.8"/><path class="d" d="M305.06 595.1V601.3"/><path class="d b" d="M305.06 597.3V598.8"/><path class="u" d="M305.49 595.1V600.0M305.91 582.1V597.9"/><path class="u b" d="M305.49 598.8V595.4M305.91 595.4V586.9"/><path class="d" d="M306.34 583.4V587.5"/><path class="d b" d="M306.34 586.8V587.4"/><path class="u" d="M306.77 583.0V588.6M307.20 582.6V586.9"/><path class="u b" d="M306.77 587.3V584.9M307.20 584.9V582.9"/><path class="d" d="M307.62 582.2V586.3"/><path class="d b" d="M307.62 582.9V585.9"/><path class="u" d="M308.05 584.9V587.5"/><path class="u b" d="M308.05 585.5V586.1"/><path class="d" d="M308.48 585.0V587.0"/><path class="d b" d="M308.48 585.7V586.6"/><path class="u" d="M308.91 583.1V587.3"/><path class="u b" d="M308.91 586.6V585.7"/><path class="d" d="M309.33 583.6V588.3"/><path class="d b" d="M309.33 585.7V586.6"/><path class="u" d="M309.76 580.5V588.3"/><path class="u b" d="M309.76 586.6V582.3"/><path class="d" d="M310.19 582.3V587.8M310.61 580.3V588.1"/><path class="d b" d="M310.19 582.2V582.8M310.61 582.6V586.6"/><path class="u" d="M311.04 580.0V587.5"/><path class="u b" d="M311.04 586.6V581.6"/><path class="d" d="M311.47 579.9V584.6M311.90 583.7V588.3"/><path class="d b" d="M311.47 581.6V584.3M311.90 584.3V586.6"/><path class="u" d="M312.32 584.5V588.3M312.75 581.7V585.6M313.18 578.3V585.3"/><path class="u b" d="M312.32 586.6V585.2M312.75 585.2V583.1M313.18 583.1V581.8"/><path class="d" d="M313.60 580.2V590.5M314.03 586.5V596.2"/><path class="d b" d="M313.60 581.8V588.6M314.03 588.6V595.5"/><path class="u" d="M314.46 595.2V597.6M314.89 592.7V596.2"/><path class="u b" d="M314.46 595.1V595.7M314.89 595.3V592.8"/><path class="d" d="M315.31 591.4V599.2M315.74 596.7V604.2M316.17 600.3V604.0"/><path class="d b" d="M315.31 592.8V597.7M315.74 597.7V600.4M316.17 600.4V602.2"/><path class="u" d="M316.60 594.7V603.0"/><path class="u b" d="M316.60 602.2V596.2"/><path class="d" d="M317.02 594.6V597.6M317.45 596.6V603.2M317.88 595.7V603.9"/><path class="d b" d="M317.02 596.2V597.3M317.45 597.3V598.5M317.88 598.5V601.9"/><path class="u" d="M318.30 598.3V604.1"/><path class="u b" d="M318.30 601.9V599.7"/><path class="d" d="M318.73 598.2V601.7M319.16 598.8V602.9M319.59 600.8V608.1"/><path class="d b" d="M318.73 599.7V600.5M319.16 600.5V602.1M319.59 602.1V606.5"/><path class="u" d="M320.01 599.4V609.0"/><path class="u b" d="M320.01 606.5V600.9"/><path class="d" d="M320.44 599.8V606.2"/><path class="d b" d="M320.44 600.9V605.8"/><path class="u" d="M320.87 602.8V608.2"/><path class="u b" d="M320.87 605.8V604.1"/><path class="d" d="M321.30 602.6V607.5M321.72 605.1V612.0"/><path class="d b" d="M321.30 604.1V607.2M321.72 607.2V611.2"/><path class="u" d="M322.15 609.1V611.5"/><path class="u b" d="M322.15 610.7V611.3"/><path class="d" d="M322.58 610.5V611.5"/><path class="d b" d="M322.58 610.8V611.4"/><path class="u" d="M323.00 609.3V612.7M323.43 606.9V612.7M323.86 600.1V608.0M324.29 600.8V604.4M324.71 592.5V603.1M325.14 591.7V599.0M325.57 589.5V595.7"/><path class="u b" d="M323.00 611.4V610.0M323.43 610.0V607.0M323.86 607.0V603.0M324.29 603.0V601.6M324.71 601.6V598.0M325.14 598.0V594.2M325.57 594.2V591.6"/><path class="d" d="M326.00 591.2V593.5M326.42 589.5V598.2M326.85 593.4V598.8M327.28 596.2V599.9M327.70 597.2V599.8M328.13 595.8V601.0M328.56 600.2V612.6"/><path class="d b" d="M326.00 591.6V592.4M326.42 592.4V595.7M326.85 595.7V596.4M327.28 596.4V597.5M327.70 597.5V598.6M328.13 598.6V600.7M328.56 600.7V606.4"/><path class="u" d="M328.99 600.5V609.7M329.41 600.8V605.6"/><path class="u b" d="M328.99 606.4V602.7M329.41 602.7V601.6"/><path class="d" d="M329.84 599.9V608.3"/><path class="d b" d="M329.84 601.6V605.8"/><path class="u" d="M330.27 599.7V607.2"/><path class="u b" d="M330.27 605.8V601.0"/><path class="d" d="M330.69 599.4V604.7"/><path class="d b" d="M330.69 601.0V603.3"/><path class="u" d="M331.12 601.2V605.1"/><path class="u b" d="M331.12 603.3V601.2"/><path class="d" d="M331.55 599.4V607.1M331.98 604.4V610.4"/><path class="d b" d="M331.55 601.2V606.6M331.98 606.6V608.5"/><path class="u" d="M332.40 602.4V609.8"/><path class="u b" d="M332.40 608.5V603.2"/><path class="d" d="M332.83 602.6V612.6"/><path class="d b" d="M332.83 603.2V609.7"/><path class="u" d="M333.26 606.4V610.0"/><path class="u b" d="M333.26 609.7V607.9"/><path class="d" d="M333.69 607.8V610.0"/><path class="d b" d="M333.69 607.8V608.4"/><path class="u" d="M334.11 605.4V609.3M334.54 599.5V610.9"/><path class="u b" d="M334.11 608.3V607.6M334.54 607.6V601.2"/><path class="d" d="M334.97 599.8V605.7M335.39 600.4V607.0M335.82 601.3V607.4M336.25 603.8V608.8"/><path class="d b" d="M334.97 601.0V601.6M335.39 601.4V602.3M335.82 602.3V604.2M336.25 604.2V607.5"/><path class="u" d="M336.68 600.5V611.2"/><path class="u b" d="M336.68 607.5V602.8"/><path class="d" d="M337.10 599.4V603.3M337.53 601.1V606.5"/><path class="d b" d="M337.10 602.7V603.3M337.53 603.3V605.7"/><path class="u" d="M337.96 599.4V609.4"/><path class="u b" d="M337.96 605.7V601.8"/><path class="d" d="M338.39 600.4V604.0M338.81 601.5V604.3M339.24 603.2V607.1"/><path class="d b" d="M338.39 601.8V602.6M338.81 602.6V603.5M339.24 603.3V603.9"/><path class="u" d="M339.67 599.4V606.9"/><path class="u b" d="M339.67 603.7V600.9"/><path class="d" d="M340.09 600.0V606.0M340.52 603.1V610.9"/><path class="d b" d="M340.09 600.9V603.3M340.52 603.3V609.9"/><path class="u" d="M340.95 608.6V610.4M341.38 609.1V611.2M341.80 605.8V609.9M342.23 606.2V609.2"/><path class="u b" d="M340.95 609.6V610.2M341.38 609.6V610.2M341.80 609.9V608.9M342.23 608.4V609.0"/><path class="d" d="M342.66 607.3V611.2"/><path class="d b" d="M342.66 608.5V609.9"/><path class="u" d="M343.09 609.8V611.2M343.51 607.1V611.2M343.94 603.2V611.1M344.37 603.9V605.2M344.79 596.8V605.4"/><path class="u b" d="M343.09 609.6V610.2M343.51 609.9V607.9M343.94 607.9V604.8M344.37 604.2V604.8M344.79 604.3V598.3"/><path class="d" d="M345.22 596.9V601.8"/><path class="d b" d="M345.22 598.3V601.2"/><path class="u" d="M345.65 599.7V601.3"/><path class="u b" d="M345.65 601.2V599.8"/><path class="d" d="M346.08 597.2V602.0M346.50 599.0V601.5"/><path class="d b" d="M346.08 599.6V600.2M346.50 599.9V601.3"/><path class="u" d="M346.93 597.0V602.7M347.36 600.9V602.7M347.78 597.6V602.7M348.21 596.7V601.6M348.64 596.7V600.9"/><path class="u b" d="M346.93 601.0V601.6M347.36 601.0V601.6M347.78 601.0V601.6M348.21 601.3V599.2M348.64 599.2V597.2"/><path class="d" d="M349.07 596.7V607.4M349.49 604.5V614.6M349.92 610.3V617.9M350.35 614.9V625.9M350.78 622.7V625.8"/><path class="d b" d="M349.07 597.2V606.5M349.49 606.5V612.6M349.92 612.6V617.3M350.35 617.3V624.9M350.78 624.9V625.7"/><path class="u" d="M351.20 622.6V625.9"/><path class="u b" d="M351.20 625.7V623.8"/><path class="d" d="M351.63 622.6V625.9"/><path class="d b" d="M351.63 623.8V625.9"/><path class="u" d="M352.06 622.9V625.9M352.48 622.6V624.8"/><path class="u b" d="M352.06 625.9V623.8M352.48 623.5V624.1"/><path class="d" d="M352.91 622.6V625.9"/><path class="d b" d="M352.91 623.8V625.9"/><path class="u" d="M353.34 623.5V627.0"/><path class="u b" d="M353.34 625.9V624.0"/><path class="d" d="M353.77 622.6V625.6"/><path class="d b" d="M353.77 623.8V624.4"/><path class="u" d="M354.19 622.6V625.5"/><path class="u b" d="M354.19 623.7V624.3"/><path class="d" d="M354.62 622.7V626.4M355.05 622.6V627.0M355.48 624.4V627.0M355.90 624.9V627.0"/><path class="d b" d="M354.62 623.6V624.2M355.05 624.0V624.8M355.48 624.8V625.4M355.90 625.4V627.0"/><path class="u" d="M356.33 625.8V627.0M356.76 621.0V627.0"/><path class="u b" d="M356.33 626.7V627.3M356.76 627.0V626.1"/><path class="d" d="M357.18 624.8V627.0"/><path class="d b" d="M357.18 626.0V626.6"/><path class="u" d="M357.61 622.8V626.6"/><path class="u b" d="M357.61 626.5V624.2"/><path class="d" d="M358.04 622.1V627.0"/><path class="d b" d="M358.04 624.2V627.0"/><path class="u" d="M358.47 624.2V627.0M358.89 621.8V626.5M359.32 619.1V625.2"/><path class="u b" d="M358.47 627.0V625.3M358.89 625.3V623.0M359.32 623.0V620.4"/><path class="d" d="M359.75 620.0V627.0"/><path class="d b" d="M359.75 620.4V627.0"/><path class="u" d="M360.18 623.1V627.0M360.60 619.7V624.3"/><path class="u b" d="M360.18 627.0V624.3M360.60 624.3V622.0"/><path class="d" d="M361.03 621.9V622.1M361.46 620.0V625.4M361.88 620.9V625.9"/><path class="d b" d="M361.03 621.8V622.4M361.46 622.1V623.7M361.88 623.7V624.4"/><path class="u" d="M362.31 615.2V626.1"/><path class="u b" d="M362.31 624.4V619.0"/><path class="d" d="M362.74 617.6V620.3M363.17 619.4V623.3M363.59 619.3V623.7M364.02 621.5V623.0"/><path class="d b" d="M362.74 619.0V620.0M363.17 620.0V621.2M363.59 621.2V622.0M364.02 621.9V622.5"/><path class="u" d="M364.45 621.0V624.2M364.87 617.5V622.0M365.30 617.2V620.7M365.73 615.3V618.2"/><path class="u b" d="M364.45 622.4V621.3M364.87 621.3V619.9M365.30 619.9V617.7M365.73 617.7V616.5"/><path class="d" d="M366.16 615.2V619.4"/><path class="d b" d="M366.16 616.5V617.4"/><path class="u" d="M366.58 616.6V619.1"/><path class="u b" d="M366.58 617.0V617.6"/><path class="d" d="M367.01 615.2V622.2M367.44 617.7V622.4M367.87 621.1V621.9"/><path class="d b" d="M367.01 617.2V620.6M367.44 620.6V621.7M367.87 621.4V622.0"/><path class="u" d="M368.29 616.6V621.8"/><path class="u b" d="M368.29 621.7V620.8"/><path class="d" d="M368.72 618.9V623.2M369.15 620.7V623.1"/><path class="d b" d="M368.72 620.8V621.5M369.15 621.5V623.0"/><path class="u" d="M369.57 620.5V624.0M370.00 619.3V624.0M370.43 619.5V624.2M370.86 619.4V623.7"/><path class="u b" d="M369.57 622.7V623.3M370.00 622.7V623.3M370.43 622.7V623.3M370.86 623.0V621.0"/><path class="d" d="M371.28 620.9V622.7M371.71 619.8V624.0"/><path class="d b" d="M371.28 621.0V621.8M371.71 621.8V622.4"/><path class="u" d="M372.14 619.5V622.4M372.57 619.9V622.7"/><path class="u b" d="M372.14 621.8V622.4M372.57 621.8V620.0"/><path class="d" d="M372.99 616.9V622.6"/><path class="d b" d="M372.99 620.0V621.8"/><path class="u" d="M373.42 618.4V622.7M373.85 620.2V623.7M374.27 617.1V623.0M374.70 615.1V620.3M375.13 615.4V618.9"/><path class="u b" d="M373.42 621.2V621.8M373.85 621.3V620.3M374.27 620.3V619.4M374.70 619.4V616.0M375.13 615.7V616.3"/><path class="d" d="M375.56 614.8V621.2"/><path class="d b" d="M375.56 616.0V619.1"/><path class="u" d="M375.98 616.4V620.3M376.41 617.4V619.3M376.84 615.2V618.6M377.27 614.3V617.7M377.69 613.0V616.2"/><path class="u b" d="M375.98 619.1V618.4M376.41 618.1V618.7M376.84 618.3V617.2M377.27 617.2V615.6M377.69 615.6V613.5"/><path class="d" d="M378.12 612.5V614.2"/><path class="d b" d="M378.12 613.4V614.0"/><path class="u" d="M378.55 610.6V615.2M378.97 605.7V613.8M379.40 598.6V607.6M379.83 597.0V600.4M380.26 593.5V598.1"/><path class="u b" d="M378.55 613.8V611.3M378.97 611.3V606.8M379.40 606.8V599.0M379.83 599.0V597.4M380.26 597.4V594.4"/><path class="d" d="M380.68 591.1V598.8"/><path class="d b" d="M380.68 594.4V598.5"/><path class="u" d="M381.11 593.0V599.0M381.54 589.2V595.9"/><path class="u b" d="M381.11 598.5V593.8M381.54 593.8V589.5"/><path class="d" d="M381.96 587.9V592.3"/><path class="d b" d="M381.96 589.5V590.9"/><path class="u" d="M382.39 589.0V591.3M382.82 587.5V592.3M383.25 588.9V590.8M383.67 585.1V590.0"/><path class="u b" d="M382.39 590.6V591.2M382.82 590.4V591.0M383.25 590.5V589.3M383.67 589.3V586.7"/><path class="d" d="M384.10 585.9V591.7"/><path class="d b" d="M384.10 586.7V590.9"/><path class="u" d="M384.53 586.3V592.3M384.96 585.3V587.8M385.38 581.7V585.6"/><path class="u b" d="M384.53 590.9V587.6M384.96 587.6V585.5M385.38 585.5V583.1"/><path class="d" d="M385.81 578.6V588.9M386.24 585.4V590.1"/><path class="d b" d="M385.81 583.1V586.5M386.24 586.5V589.3"/><path class="u" d="M386.66 585.5V590.5M387.09 581.2V589.8"/><path class="u b" d="M386.66 589.3V586.8M387.09 586.8V584.7"/><path class="d" d="M387.52 580.9V589.2"/><path class="d b" d="M387.52 584.7V587.3"/><path class="u" d="M387.95 579.6V588.8M388.37 577.8V582.7"/><path class="u b" d="M387.95 587.3V582.0M388.37 582.0V579.2"/><path class="d" d="M388.80 578.1V584.7M389.23 582.2V590.2M389.66 585.6V589.5"/><path class="d b" d="M388.80 579.2V583.8M389.23 583.8V588.0M389.66 588.0V589.0"/><path class="u" d="M390.08 582.5V590.6M390.51 580.8V585.6"/><path class="u b" d="M390.08 589.0V582.6M390.51 582.6V581.0"/><path class="d" d="M390.94 578.4V588.7"/><path class="d b" d="M390.94 581.0V586.3"/><path class="u" d="M391.36 577.2V587.7M391.79 577.2V580.8"/><path class="u b" d="M391.36 586.3V577.2M391.79 576.9V577.5"/><path class="d" d="M392.22 577.2V580.0M392.65 577.2V585.0M393.07 581.4V588.5M393.50 585.1V589.4"/><path class="d b" d="M392.22 577.2V578.4M392.65 578.4V581.8M393.07 581.8V585.4M393.50 585.4V586.4"/><path class="u" d="M393.93 581.4V587.5"/><path class="u b" d="M393.93 586.4V584.8"/><path class="d" d="M394.36 583.3V589.1M394.78 586.0V588.5M395.21 582.6V595.9"/><path class="d b" d="M394.36 584.8V587.5M394.78 587.4V588.0M395.21 587.9V594.0"/><path class="u" d="M395.64 589.8V594.8M396.06 586.8V592.8"/><path class="u b" d="M395.64 594.0V590.7M396.06 590.7V590.0"/><path class="d" d="M396.49 589.5V590.8"/><path class="d b" d="M396.49 589.9V590.5"/><path class="u" d="M396.92 579.8V590.6"/><path class="u b" d="M396.92 590.4V583.8"/><path class="d" d="M397.35 582.6V589.2M397.77 586.5V590.0M398.20 589.2V592.4M398.63 591.1V595.0M399.05 593.9V599.8"/><path class="d b" d="M397.35 583.8V587.6M397.77 587.6V589.8M398.20 589.8V592.2M398.63 592.2V594.4M399.05 594.4V599.2"/><path class="u" d="M399.48 594.9V599.5"/><path class="u b" d="M399.48 599.2V595.5"/><path class="d" d="M399.91 595.4V598.1M400.34 593.6V605.7"/><path class="d b" d="M399.91 595.5V596.2M400.34 596.2V604.7"/><path class="u" d="M400.76 602.4V605.9M401.19 602.8V605.3"/><path class="u b" d="M400.76 604.1V604.7M401.19 603.7V604.3"/><path class="d" d="M401.62 601.9V604.1"/><path class="d b" d="M401.62 603.6V604.2"/><path class="u" d="M402.05 602.1V605.9M402.47 597.4V603.6M402.90 591.7V602.5M403.33 584.3V594.2M403.75 584.3V587.9M404.18 580.4V586.7M404.61 568.9V583.2M405.04 565.1V571.2"/><path class="u b" d="M402.05 603.9V602.9M402.47 602.9V600.0M402.90 600.0V592.1M403.33 592.1V586.7M403.75 586.7V585.9M404.18 585.9V581.1M404.61 581.1V569.4M405.04 569.4V565.9"/><path class="d" d="M405.46 563.6V568.5M405.89 566.7V567.8"/><path class="d b" d="M405.46 565.9V567.3M405.89 567.1V567.7"/><path class="u" d="M406.32 567.0V569.3M406.75 565.9V568.6M407.17 560.3V567.6M407.60 560.3V567.1M408.03 557.3V563.7M408.45 557.4V563.6"/><path class="u b" d="M406.32 567.3V567.9M406.75 567.3V567.9M407.17 567.6V564.4M407.60 564.4V562.9M408.03 562.9V560.2M408.45 560.2V559.1"/><path class="d" d="M408.88 558.5V560.4M409.31 559.0V564.0M409.74 562.6V566.9"/><path class="d b" d="M408.88 558.9V559.5M409.31 559.4V563.3M409.74 563.3V565.3"/><path class="u" d="M410.16 563.3V568.6M410.59 559.3V564.8"/><path class="u b" d="M410.16 565.3V563.4M410.59 563.4V560.5"/><path class="d" d="M411.02 557.9V562.4M411.45 557.3V562.9"/><path class="d b" d="M411.02 560.3V560.9M411.45 560.6V561.2"/><path class="u" d="M411.87 556.3V561.7M412.30 550.4V559.8M412.73 547.5V554.9"/><path class="u b" d="M411.87 561.0V558.5M412.30 558.5V552.1M412.73 552.1V547.5"/><path class="d" d="M413.15 547.5V552.9"/><path class="d b" d="M413.15 547.5V550.5"/><path class="u" d="M413.58 547.5V553.7"/><path class="u b" d="M413.58 550.5V548.6"/><path class="d" d="M414.01 547.5V557.4M414.44 551.1V557.7"/><path class="d b" d="M414.01 548.6V553.3M414.44 553.3V554.0"/><path class="u" d="M414.86 547.5V554.9"/><path class="u b" d="M414.86 554.0V551.2"/><path class="d" d="M415.29 547.5V554.6"/><path class="d b" d="M415.29 550.9V551.5"/><path class="u" d="M415.72 547.5V551.9"/><path class="u b" d="M415.72 551.3V547.5"/><path class="d" d="M416.14 547.5V549.8M416.57 547.5V552.9M417.00 548.4V550.9"/><path class="d b" d="M416.14 547.2V547.8M416.57 547.6V550.6M417.00 550.3V550.9"/><path class="u" d="M417.43 547.5V555.3"/><path class="u b" d="M417.43 550.6V547.5"/><path class="d" d="M417.85 547.5V559.3M418.28 552.9V561.9M418.71 556.5V566.3"/><path class="d b" d="M417.85 547.5V553.9M418.28 553.9V560.4M418.71 560.4V564.6"/><path class="u" d="M419.14 562.5V566.3"/><path class="u b" d="M419.14 564.6V562.8"/><path class="d" d="M419.56 562.3V564.1M419.99 562.4V566.3"/><path class="d b" d="M419.56 562.6V563.2M419.99 562.9V564.3"/><path class="u" d="M420.42 559.1V565.7"/><path class="u b" d="M420.42 564.3V562.9"/><path class="d" d="M420.84 561.2V565.1M421.27 563.7V565.4"/><path class="d b" d="M420.84 562.9V563.9M421.27 563.9V564.5"/><path class="u" d="M421.70 551.5V566.3M422.13 553.7V557.9"/><path class="u b" d="M421.70 564.5V555.7M422.13 555.7V554.9"/><path class="d" d="M422.55 554.6V558.3"/><path class="d b" d="M422.55 554.9V558.2"/><path class="u" d="M422.98 551.5V558.4"/><path class="u b" d="M422.98 558.2V553.4"/><path class="d" d="M423.41 552.6V555.0"/><path class="d b" d="M423.41 553.2V553.8"/><path class="u" d="M423.84 552.8V558.7"/><path class="u b" d="M423.84 553.2V553.8"/><path class="d" d="M424.26 551.5V560.2M424.69 554.8V565.6"/><path class="d b" d="M424.26 553.4V558.1M424.69 558.1V562.3"/><path class="u" d="M425.12 555.2V563.4M425.54 554.3V556.9M425.97 551.5V558.0"/><path class="u b" d="M425.12 562.3V556.8M425.54 556.3V556.9M425.97 556.4V555.2"/><path class="d" d="M426.40 554.2V563.0"/><path class="d b" d="M426.40 555.2V560.0"/><path class="u" d="M426.83 556.4V565.8"/><path class="u b" d="M426.83 560.0V557.9"/><path class="d" d="M427.25 554.6V567.8"/><path class="d b" d="M427.25 557.9V567.2"/><path class="u" d="M427.68 564.5V567.8M428.11 565.1V570.1"/><path class="u b" d="M427.68 566.7V567.3M428.11 566.2V566.8"/><path class="d" d="M428.54 566.0V570.4"/><path class="d b" d="M428.54 566.4V568.5"/><path class="u" d="M428.96 566.0V570.9"/><path class="u b" d="M428.96 568.5V566.7"/><path class="d" d="M429.39 563.6V571.8"/><path class="d b" d="M429.39 566.7V570.2"/><path class="u" d="M429.82 568.9V570.7M430.24 568.1V571.8M430.67 570.1V571.1M431.10 569.7V571.0M431.53 568.3V570.3M431.95 569.2V571.8M432.38 569.4V570.7M432.81 565.0V570.3"/><path class="u b" d="M429.82 569.9V570.5M430.24 569.9V570.5M430.67 569.9V570.5M431.10 569.9V570.5M431.53 569.9V570.5M431.95 569.9V570.5M432.38 569.9V570.5M432.81 570.2V565.6"/><path class="d" d="M433.23 564.2V566.6M433.66 564.9V570.2"/><path class="d b" d="M433.23 565.6V566.2M433.66 566.2V569.8"/><path class="u" d="M434.09 565.8V570.5"/><path class="u b" d="M434.09 569.8V566.3"/><path class="d" d="M434.52 565.4V568.3"/><path class="d b" d="M434.52 566.3V567.6"/><path class="u" d="M434.94 565.7V568.3M435.37 566.5V567.8M435.80 561.2V570.1"/><path class="u b" d="M434.94 567.0V567.6M435.37 566.7V567.3M435.80 567.0V562.9"/><path class="d" d="M436.23 559.6V567.0M436.65 563.9V569.2M437.08 565.8V578.4"/><path class="d b" d="M436.23 562.9V565.1M436.65 565.1V567.8M437.08 567.8V574.4"/><path class="u" d="M437.51 571.2V576.6"/><path class="u b" d="M437.51 574.4V572.4"/><path class="d" d="M437.93 566.9V572.9"/><path class="d b" d="M437.93 572.3V572.9"/><path class="u" d="M438.36 564.9V574.5"/><path class="u b" d="M438.36 572.9V570.0"/><path class="d" d="M438.79 567.3V575.1"/><path class="d b" d="M438.79 570.0V571.8"/><path class="u" d="M439.22 570.9V574.4M439.64 566.3V573.0"/><path class="u b" d="M439.22 571.8V571.1M439.64 571.1V569.0"/><path class="d" d="M440.07 567.7V571.4M440.50 569.2V576.3M440.93 570.3V576.7M441.35 575.1V578.6M441.78 575.8V579.3"/><path class="d b" d="M440.07 569.0V570.3M440.50 570.3V574.1M440.93 574.1V575.6M441.35 575.6V577.4M441.78 577.4V579.3"/><path class="u" d="M442.21 573.0V579.3"/><path class="u b" d="M442.21 579.3V574.1"/><path class="d" d="M442.63 573.2V579.3"/><path class="d b" d="M442.63 574.1V579.3"/><path class="u" d="M443.06 576.0V579.3M443.49 577.6V579.3M443.92 576.1V579.3M444.34 576.0V579.2M444.77 561.8V577.9M445.20 558.3V567.4M445.63 554.9V562.3M446.05 553.8V558.5M446.48 550.4V557.5M446.91 546.1V558.9M447.33 543.6V550.8M447.76 543.4V553.3M448.19 543.4V545.3"/><path class="u b" d="M443.06 579.0V579.6M443.49 579.3V577.7M443.92 577.7V576.8M444.34 576.3V576.9M444.77 576.3V567.4M445.20 567.4V561.0M445.63 561.0V556.5M446.05 556.5V555.7M446.48 555.7V554.6M446.91 554.6V549.5M447.33 549.0V549.6M447.76 549.0V544.4M448.19 544.4V543.4"/><path class="d" d="M448.62 543.4V552.2"/><path class="d b" d="M448.62 543.4V544.8"/><path class="u" d="M449.04 543.4V549.1M449.47 543.4V543.6"/><path class="u b" d="M449.04 544.8V543.4M449.47 543.1V543.7"/><path class="d" d="M449.90 543.4V553.3M450.32 543.4V552.9"/><path class="d b" d="M449.90 543.4V551.4M450.32 551.1V551.7"/><path class="u" d="M450.75 545.3V553.3"/><path class="u b" d="M450.75 551.4V547.0"/><path class="d" d="M451.18 546.6V550.1M451.61 545.2V551.5"/><path class="d b" d="M451.18 546.9V547.5M451.61 547.4V549.3"/><path class="u" d="M452.03 543.4V551.3"/><path class="u b" d="M452.03 549.3V543.4"/><path class="d" d="M452.46 543.4V549.0"/><path class="d b" d="M452.46 543.4V546.1"/><path class="u" d="M452.89 543.4V549.1M453.32 543.4V546.1"/><path class="u b" d="M452.89 545.5V546.1M453.32 545.1V545.7"/><path class="d" d="M453.74 543.4V553.3"/><path class="d b" d="M453.74 545.3V551.4"/><path class="u" d="M454.17 548.9V552.0M454.60 550.3V553.3M455.02 543.4V553.3M455.45 543.4V548.5"/><path class="u b" d="M454.17 551.1V551.7M454.60 551.4V550.6M455.02 550.6V545.9M455.45 545.3V545.9"/><path class="d" d="M455.88 544.3V553.7M456.31 546.0V558.6"/><path class="d b" d="M455.88 545.4V551.8M456.31 551.8V558.5"/><path class="u" d="M456.73 554.2V559.1M457.16 548.9V555.6M457.59 550.0V555.9M458.02 543.5V552.6M458.44 543.4V545.9"/><path class="u b" d="M456.73 558.5V554.9M457.16 554.9V552.3M457.59 552.0V552.6M458.02 552.2V545.3M458.44 545.3V543.4"/><path class="d" d="M458.87 543.4V547.5M459.30 543.4V548.7"/><path class="d b" d="M458.87 543.2V543.8M459.30 543.6V547.8"/><path class="u" d="M459.72 543.4V552.8M460.15 543.4V544.2M460.58 543.4V546.0"/><path class="u b" d="M459.72 547.8V543.4M460.15 543.1V543.7M460.58 543.1V543.7"/><path class="d" d="M461.01 543.4V548.6M461.43 546.2V553.0M461.86 548.2V560.3"/><path class="d b" d="M461.01 543.4V546.6M461.43 546.6V548.9M461.86 548.9V557.1"/><path class="u" d="M462.29 554.3V557.5"/><path class="u b" d="M462.29 557.1V554.8"/><path class="d" d="M462.72 553.3V560.3"/><path class="d b" d="M462.72 554.8V558.5"/><path class="u" d="M463.14 555.5V559.5M463.57 554.7V558.6M464.00 552.6V557.9M464.42 553.8V556.6"/><path class="u b" d="M463.14 558.5V556.7M463.57 556.7V555.1M464.00 555.1V554.4M464.42 554.1V554.7"/><path class="d" d="M464.85 553.5V559.6"/><path class="d b" d="M464.85 554.4V558.5"/><path class="u" d="M465.28 552.6V560.3M465.71 552.8V555.8M466.13 552.6V556.4"/><path class="u b" d="M465.28 558.5V554.4M465.71 554.1V554.7M466.13 554.1V554.7"/><path class="d" d="M466.56 553.7V559.0"/><path class="d b" d="M466.56 554.4V558.5"/><path class="u" d="M466.99 555.7V560.3M467.41 554.0V559.3"/><path class="u b" d="M466.99 558.5V556.1M467.41 556.1V554.4"/><path class="d" d="M467.84 552.6V559.0"/><path class="d b" d="M467.84 554.4V558.4"/><path class="u" d="M468.27 555.2V560.3"/><path class="u b" d="M468.27 558.4V557.1"/><path class="d" d="M468.70 555.2V560.0"/><path class="d b" d="M468.70 557.0V557.6"/><path class="u" d="M469.12 552.8V562.5"/><path class="u b" d="M469.12 557.5V556.2"/><path class="d" d="M469.55 552.6V559.9M469.98 552.8V566.2M470.41 560.3V576.7M470.83 568.6V574.3"/><path class="d b" d="M469.55 556.2V559.7M469.98 559.7V564.3M470.41 564.3V570.0M470.83 570.0V572.6"/><path class="u" d="M471.26 568.8V576.2"/><path class="u b" d="M471.26 572.6V570.2"/><path class="d" d="M471.69 568.4V570.6M472.11 568.3V576.7M472.54 576.1V576.7"/><path class="d b" d="M471.69 570.1V570.7M472.11 570.5V576.6M472.54 576.3V576.9"/><path class="u" d="M472.97 574.9V576.7"/><path class="u b" d="M472.97 576.4V577.0"/><path class="d" d="M473.40 576.0V578.8"/><path class="d b" d="M473.40 576.7V578.8"/><path class="u" d="M473.82 576.2V578.8M474.25 574.9V578.8M474.68 570.5V575.6"/><path class="u b" d="M473.82 578.5V579.1M474.25 578.8V575.3M474.68 575.3V572.9"/><path class="d" d="M475.11 572.3V578.8"/><path class="d b" d="M475.11 572.9V578.8"/><path class="u" d="M475.53 577.3V578.8M475.96 576.6V578.8"/><path class="u b" d="M475.53 578.8V578.0M475.96 577.5V578.1"/><path class="d" d="M476.39 574.6V578.3"/><path class="d b" d="M476.39 577.6V578.3"/><path class="u" d="M476.81 577.7V578.6"/><path class="u b" d="M476.81 577.9V578.5"/><path class="d" d="M477.24 575.2V578.8"/><path class="d b" d="M477.24 578.1V578.8"/><path class="u" d="M477.67 577.8V578.8M478.10 571.8V578.8"/><path class="u b" d="M477.67 578.5V579.1M478.10 578.8V573.3"/><path class="d" d="M478.52 570.5V578.6M478.95 575.3V578.8"/><path class="d b" d="M478.52 573.3V577.4M478.95 577.4V578.8"/><path class="u" d="M479.38 574.0V578.8M479.81 571.1V578.8"/><path class="u b" d="M479.38 578.8V578.1M479.81 578.1V574.6"/><path class="d" d="M480.23 572.9V578.8"/><path class="d b" d="M480.23 574.6V578.8"/><path class="u" d="M480.66 573.4V578.8M481.09 575.5V578.8"/><path class="u b" d="M480.66 578.3V578.9M481.09 578.5V577.2"/><path class="d" d="M481.51 575.6V578.8"/><path class="d b" d="M481.51 577.2V578.8"/><path class="u" d="M481.94 577.8V578.8M482.37 575.4V578.8"/><path class="u b" d="M481.94 578.5V579.1M482.37 578.8V575.8"/><path class="d" d="M482.80 574.7V577.4M483.22 573.8V578.6"/><path class="d b" d="M482.80 575.8V576.4M483.22 576.4V577.6"/><path class="u" d="M483.65 573.2V578.8M484.08 567.3V573.7M484.50 566.0V572.7M484.93 560.8V566.7"/><path class="u b" d="M483.65 577.6V573.7M484.08 573.7V571.1M484.50 571.1V566.3M484.93 566.3V563.0"/><path class="d" d="M485.36 561.1V568.7"/><path class="d b" d="M485.36 563.0V568.1"/><path class="u" d="M485.79 561.5V568.4"/><path class="u b" d="M485.79 568.1V562.9"/><path class="d" d="M486.21 560.1V565.6M486.64 559.9V565.9M487.07 564.3V566.4M487.50 565.3V567.0M487.92 566.0V570.6"/><path class="d b" d="M486.21 562.7V563.3M486.64 563.1V564.4M487.07 564.4V565.8M487.50 565.8V566.8M487.92 566.8V568.5"/><path class="u" d="M488.35 559.9V568.6"/><path class="u b" d="M488.35 568.5V561.9"/><path class="d" d="M488.78 560.3V565.1M489.20 562.7V567.1"/><path class="d b" d="M488.78 561.9V562.7M489.20 562.7V566.3"/><path class="u" d="M489.63 563.2V567.5M490.06 561.7V565.1"/><path class="u b" d="M489.63 566.3V563.4M490.06 563.4V562.1"/><path class="d" d="M490.49 559.9V570.4"/><path class="d b" d="M490.49 562.1V565.5"/><path class="u" d="M490.91 564.6V567.5M491.34 564.1V566.4M491.77 563.6V565.1"/><path class="u b" d="M490.91 565.1V565.7M491.34 564.7V565.3M491.77 564.4V565.0"/><path class="d" d="M492.20 563.2V564.8M492.62 563.8V568.6M493.05 565.2V566.8"/><path class="d b" d="M492.20 564.3V564.9M492.62 564.6V565.6M493.05 565.6V566.3"/><path class="u" d="M493.48 561.5V566.8"/><path class="u b" d="M493.48 566.3V561.7"/><path class="d" d="M493.90 559.9V564.7M494.33 562.9V570.4M494.76 565.2V568.5M495.19 564.5V569.1"/><path class="d b" d="M493.90 561.7V563.4M494.33 563.4V567.6M494.76 567.4V568.0M495.19 567.8V568.9"/><path class="u" d="M495.61 566.9V569.4M496.04 562.1V569.4M496.47 554.0V568.1M496.90 557.7V559.5M497.32 548.3V559.8M497.75 550.6V555.5M498.18 538.0V551.1M498.60 534.4V542.6M499.03 535.9V544.7M499.46 526.4V539.5M499.89 525.1V530.9"/><path class="u b" d="M495.61 568.4V569.0M496.04 568.5V564.9M496.47 564.9V558.0M496.90 557.7V558.3M497.32 557.9V552.2M497.75 552.2V551.0M498.18 551.0V542.0M498.60 542.0V538.7M499.03 538.7V537.3M499.46 537.3V529.5M499.89 529.5V527.2"/><path class="d" d="M500.31 526.1V532.6"/><path class="d b" d="M500.31 527.2V531.7"/><path class="u" d="M500.74 530.9V533.7M501.17 530.8V533.1M501.59 531.4V532.7M502.02 529.6V533.7M502.45 528.6V533.6M502.88 520.0V529.5M503.30 520.1V530.3"/><path class="u b" d="M500.74 531.4V532.0M501.17 531.4V532.0M501.59 531.4V532.0M502.02 531.4V532.0M502.45 531.7V529.4M502.88 529.4V525.1M503.30 525.1V522.2"/><path class="d" d="M503.73 520.0V526.4M504.16 520.3V533.7"/><path class="d b" d="M503.73 522.2V524.5M504.16 524.5V527.8"/><path class="u" d="M504.59 524.7V528.0M505.01 520.0V529.2M505.44 520.0V530.3"/><path class="u b" d="M504.59 527.8V524.8M505.01 524.8V523.2M505.44 523.2V522.2"/><path class="d" d="M505.87 518.3V525.3M506.29 521.6V528.7"/><path class="d b" d="M505.87 522.2V524.4M506.29 524.4V526.6"/><path class="u" d="M506.72 525.3V528.4"/><path class="u b" d="M506.72 526.6V525.8"/><path class="d" d="M507.15 525.7V528.7"/><path class="d b" d="M507.15 525.8V526.6"/><path class="u" d="M507.58 524.6V528.7"/><path class="u b" d="M507.58 526.3V526.9"/><path class="d" d="M508.00 523.9V528.7"/><path class="d b" d="M508.00 526.3V526.9"/><path class="u" d="M508.43 524.2V528.4M508.86 523.9V527.2"/><path class="u b" d="M508.43 526.3V526.9M508.86 526.5V524.8"/><path class="d" d="M509.29 523.0V527.6"/><path class="d b" d="M509.29 524.8V526.6"/><path class="u" d="M509.71 521.0V528.7M510.14 518.3V528.7M510.57 520.1V528.7M510.99 510.5V522.1M511.42 511.6V514.7M511.85 511.3V515.0"/><path class="u b" d="M509.71 526.6V523.5M510.14 523.1V523.7M510.57 523.2V521.2M510.99 521.2V512.9M511.42 512.6V513.2M511.85 512.6V513.2"/><path class="d" d="M512.28 512.7V519.6"/><path class="d b" d="M512.28 512.9V518.6"/><path class="u" d="M512.70 510.5V520.6"/><path class="u b" d="M512.70 518.6V516.7"/><path class="d" d="M513.13 510.8V518.0"/><path class="d b" d="M513.13 516.5V517.1"/><path class="u" d="M513.56 515.7V518.8M513.99 512.7V519.2M514.41 506.2V516.2M514.84 496.0V511.5"/><path class="u b" d="M513.56 516.5V517.1M513.99 516.7V515.2M514.41 515.2V509.3M514.84 509.3V496.8"/><path class="d" d="M515.27 494.2V507.7"/><path class="d b" d="M515.27 496.8V505.3"/><path class="u" d="M515.69 503.2V506.8M516.12 496.8V504.6M516.55 481.6V502.1"/><path class="u b" d="M515.69 505.3V504.3M516.12 504.3V499.6M516.55 499.6V484.9"/><path class="d" d="M516.98 475.2V492.5"/><path class="d b" d="M516.98 484.9V486.5"/><path class="u" d="M517.40 476.5V489.4"/><path class="u b" d="M517.40 486.5V480.3"/><path class="d" d="M517.83 479.9V483.0M518.26 481.7V486.8M518.68 478.3V490.3M519.11 485.0V495.1"/><path class="d b" d="M517.83 480.3V482.6M518.26 482.6V483.8M518.68 483.8V488.7M519.11 488.7V493.2"/><path class="u" d="M519.54 487.8V493.5"/><path class="u b" d="M519.54 493.2V489.1"/><path class="d" d="M519.97 487.6V490.3M520.39 488.3V496.4"/><path class="d b" d="M519.97 489.1V489.8M520.39 489.8V495.4"/><path class="u" d="M520.82 488.5V499.2"/><path class="u b" d="M520.82 495.4V489.9"/><path class="d" d="M521.25 487.8V495.2"/><path class="d b" d="M521.25 489.9V493.2"/><path class="u" d="M521.68 490.7V496.5"/><path class="u b" d="M521.68 492.7V493.3"/><path class="d" d="M522.10 490.8V497.8"/><path class="d b" d="M522.10 492.8V495.9"/><path class="u" d="M522.53 484.7V499.2"/><path class="u b" d="M522.53 495.9V492.6"/><path class="d" d="M522.96 492.0V499.0"/><path class="d b" d="M522.96 492.6V494.2"/><path class="u" d="M523.38 488.6V499.2"/><path class="u b" d="M523.38 493.8V494.4"/><path class="d" d="M523.81 492.8V499.2"/><path class="d b" d="M523.81 494.0V496.7"/><path class="u" d="M524.24 488.1V499.2M524.67 476.8V489.9"/><path class="u b" d="M524.24 496.7V488.8M524.67 488.8V480.0"/><path class="d" d="M525.09 479.4V484.8"/><path class="d b" d="M525.09 480.0V482.9"/><path class="u" d="M525.52 477.2V484.2M525.95 470.1V479.0M526.38 471.9V475.5M526.80 472.4V475.1M527.23 470.1V477.3M527.66 470.1V481.3M528.08 470.1V482.0M528.51 470.1V476.9"/><path class="u b" d="M525.52 482.9V478.8M525.95 478.8V473.5M526.38 472.9V473.5M526.80 472.6V473.2M527.23 472.6V473.2M527.66 472.6V473.2M528.08 472.6V473.2M528.51 472.6V473.2"/><path class="d" d="M528.94 470.1V477.3"/><path class="d b" d="M528.94 472.9V476.5"/><path class="u" d="M529.37 473.5V486.3M529.79 470.4V478.3M530.22 471.6V478.5"/><path class="u b" d="M529.37 476.5V475.7M529.79 475.7V473.5M530.22 473.5V472.8"/><path class="d" d="M530.65 471.7V482.1"/><path class="d b" d="M530.65 472.8V478.9"/><path class="u" d="M531.08 467.2V482.1M531.50 470.7V482.1"/><path class="u b" d="M531.08 478.6V479.2M531.50 478.9V471.6"/><path class="d" d="M531.93 463.2V480.9M532.36 469.9V482.1"/><path class="d b" d="M531.93 471.6V472.2M532.36 472.1V478.9"/><path class="u" d="M532.78 467.1V480.9M533.21 455.2V477.9"/><path class="u b" d="M532.78 478.9V473.1M533.21 473.1V469.1"/><path class="d" d="M533.64 466.7V477.5"/><path class="d b" d="M533.64 469.1V476.5"/><path class="u" d="M534.07 468.2V484.8M534.49 470.4V476.4"/><path class="u b" d="M534.07 476.5V471.9M534.49 471.9V471.0"/><path class="d" d="M534.92 469.3V477.8M535.35 466.5V491.4"/><path class="d b" d="M534.92 471.0V472.1M535.35 472.1V486.1"/><path class="u" d="M535.77 479.1V487.4M536.20 471.3V486.7"/><path class="u b" d="M535.77 486.1V479.8M536.20 479.8V477.7"/><path class="d" d="M536.63 477.5V498.9M537.06 487.9V496.1M537.48 490.5V503.6M537.91 499.9V505.6M538.34 499.6V509.0"/><path class="d b" d="M536.63 477.7V490.2M537.06 490.2V494.1M537.48 494.1V500.3M537.91 500.3V501.2M538.34 501.2V502.4"/><path class="u" d="M538.77 497.2V507.5M539.19 487.6V503.3"/><path class="u b" d="M538.77 502.4V501.3M539.19 501.3V487.8"/><path class="d" d="M539.62 487.6V491.4M540.05 488.4V507.3"/><path class="d b" d="M539.62 487.8V489.9M540.05 489.9V496.8"/><path class="u" d="M540.47 480.4V499.6"/><path class="u b" d="M540.47 496.8V488.2"/><path class="d" d="M540.90 486.9V495.5"/><path class="d b" d="M540.90 488.2V492.7"/><path class="u" d="M541.33 482.6V495.2M541.76 482.6V487.9M542.18 479.6V485.9M542.61 473.2V482.6"/><path class="u b" d="M541.33 492.7V486.1M541.76 486.1V483.0M542.18 482.5V483.1M542.61 482.5V475.4"/><path class="d" d="M543.04 471.9V481.4"/><path class="d b" d="M543.04 475.4V479.5"/><path class="u" d="M543.47 475.8V479.9M543.89 469.2V477.6"/><path class="u b" d="M543.47 479.5V476.5M543.89 476.5V472.5"/><path class="d" d="M544.32 469.2V481.7"/><path class="d b" d="M544.32 472.5V481.0"/><path class="u" d="M544.75 471.6V484.7M545.17 473.1V477.3M545.60 466.2V477.5M546.03 463.0V476.7"/><path class="u b" d="M544.75 481.0V476.0M545.17 475.5V476.1M545.60 475.7V468.6M546.03 468.6V465.1"/><path class="d" d="M546.46 455.5V467.2"/><path class="d b" d="M546.46 464.9V465.5"/><path class="u" d="M546.88 450.6V470.9M547.31 438.2V462.1"/><path class="u b" d="M546.88 465.3V459.0M547.31 459.0V438.6"/><path class="d" d="M547.74 435.9V445.1"/><path class="d b" d="M547.74 438.6V440.9"/><path class="u" d="M548.16 437.5V442.9"/><path class="u b" d="M548.16 440.9V438.1"/><path class="d" d="M548.59 435.5V442.2M549.02 440.4V447.7"/><path class="d b" d="M548.59 438.1V441.5M549.02 441.5V445.1"/><path class="u" d="M549.45 441.9V448.7M549.87 435.0V448.7"/><path class="u b" d="M549.45 444.8V445.4M549.87 445.1V437.2"/><path class="d" d="M550.30 435.0V440.9"/><path class="d b" d="M550.30 437.2V438.3"/><path class="u" d="M550.73 436.9V442.7"/><path class="u b" d="M550.73 438.3V437.1"/><path class="d" d="M551.16 433.3V442.4"/><path class="d b" d="M551.16 437.1V437.8"/><path class="u" d="M551.58 433.3V439.3"/><path class="u b" d="M551.58 437.8V437.1"/><path class="d" d="M552.01 433.8V448.7"/><path class="d b" d="M552.01 437.1V445.1"/><path class="u" d="M552.44 443.4V447.1M552.86 435.9V447.1M553.29 411.5V443.8M553.72 382.6V412.2"/><path class="u b" d="M552.44 444.8V445.4M552.86 445.1V441.4M553.29 441.4V412.2M553.72 412.2V386.0"/><path class="d" d="M554.15 384.1V389.1"/><path class="d b" d="M554.15 386.0V388.3"/><path class="u" d="M554.57 358.8V388.6"/><path class="u b" d="M554.57 388.3V363.1"/><path class="d" d="M555.00 356.4V380.5M555.43 376.9V391.2"/><path class="d b" d="M555.00 363.1V377.0M555.43 377.0V383.3"/><path class="u" d="M555.86 369.2V391.1"/><path class="u b" d="M555.86 383.3V378.0"/><path class="d" d="M556.28 352.7V403.9"/><path class="d b" d="M556.28 378.0V379.3"/><path class="u" d="M556.71 373.1V384.5M557.14 365.2V382.2M557.56 368.2V375.0M557.99 352.9V376.4"/><path class="u b" d="M556.71 378.9V379.5M557.14 379.1V371.6M557.56 371.6V368.2M557.99 368.2V360.9"/><path class="d" d="M558.42 356.9V370.8M558.85 359.8V380.4M559.27 368.5V375.8"/><path class="d b" d="M558.42 360.9V364.5M558.85 364.5V372.2M559.27 371.9V372.5"/><path class="u" d="M559.70 341.1V373.3M560.13 328.1V348.0M560.56 333.0V347.4"/><path class="u b" d="M559.70 372.2V341.5M560.13 341.5V340.4M560.56 340.1V340.7"/><path class="d" d="M560.98 333.1V355.7M561.41 347.6V382.4M561.84 377.6V389.7M562.26 378.5V393.7"/><path class="d b" d="M560.98 340.4V354.5M561.41 354.5V380.4M561.84 380.4V387.0M562.26 387.0V388.6"/><path class="u" d="M562.69 375.8V393.7"/><path class="u b" d="M562.69 388.6V381.3"/><path class="d" d="M563.12 376.6V393.7"/><path class="d b" d="M563.12 381.3V389.0"/><path class="u" d="M563.55 370.0V392.9M563.97 361.0V383.8M564.40 352.0V364.9M564.83 337.4V366.0M565.25 344.9V355.3"/><path class="u b" d="M563.55 389.0V375.1M563.97 375.1V362.0M564.40 362.0V355.0M564.83 355.0V354.4M565.25 354.4V347.5"/><path class="d" d="M565.68 343.6V354.7M566.11 335.9V354.5M566.54 333.7V357.5"/><path class="d b" d="M565.68 347.5V348.9M566.11 348.9V349.8M566.54 349.8V352.5"/><path class="u" d="M566.96 343.6V357.5M567.39 349.5V357.5M567.82 346.2V355.4M568.25 352.3V357.5M568.67 350.2V357.5M569.10 333.7V354.3"/><path class="u b" d="M566.96 352.2V352.8M567.39 352.2V352.8M567.82 352.2V352.8M568.25 352.2V352.8M568.67 352.2V352.8M569.10 352.5V338.1"/><path class="d" d="M569.53 333.7V356.5"/><path class="d b" d="M569.53 338.1V352.5"/><path class="u" d="M569.95 349.5V357.5M570.38 343.5V357.5M570.81 333.7V349.0"/><path class="u b" d="M569.95 352.2V352.8M570.38 352.5V344.1M570.81 344.1V339.3"/><path class="d" d="M571.24 333.7V362.3M571.66 356.1V363.7"/><path class="d b" d="M571.24 339.3V358.7M571.66 358.7V362.6"/><path class="u" d="M572.09 354.1V363.9"/><path class="u b" d="M572.09 362.6V356.0"/><path class="d" d="M572.52 355.8V366.6M572.95 364.0V393.7M573.37 375.7V384.6"/><path class="d b" d="M572.52 356.0V365.9M572.95 365.9V378.3M573.37 378.3V383.1"/><path class="u" d="M573.80 370.0V388.0"/><path class="u b" d="M573.80 383.1V378.2"/><path class="d" d="M574.23 369.0V393.7"/><path class="d b" d="M574.23 378.2V393.7"/><path class="u" d="M574.65 391.4V393.7M575.08 381.7V393.7M575.51 382.3V392.1M575.94 378.5V397.7M576.36 376.1V394.3M576.79 357.6V378.7"/><path class="u b" d="M574.65 393.4V394.0M575.08 393.7V389.7M575.51 389.7V388.4M575.94 388.4V381.6M576.36 381.6V377.2M576.79 377.2V364.0"/><path class="d" d="M577.22 361.3V382.2"/><path class="d b" d="M577.22 364.0V373.7"/><path class="u" d="M577.65 354.2V376.6"/><path class="u b" d="M577.65 373.7V359.7"/><path class="d" d="M578.07 359.5V393.5"/><path class="d b" d="M578.07 359.7V391.7"/><path class="u" d="M578.50 388.7V401.7M578.93 388.9V391.9"/><path class="u b" d="M578.50 391.7V390.1M578.93 389.7V390.3"/><path class="d" d="M579.35 387.6V415.2"/><path class="d b" d="M579.35 389.8V407.8"/><path class="u" d="M579.78 400.3V411.2"/><path class="u b" d="M579.78 407.8V404.9"/><path class="d" d="M580.21 384.9V413.6"/><path class="d b" d="M580.21 404.9V411.0"/><path class="u" d="M580.64 404.4V416.8"/><path class="u b" d="M580.64 411.0V407.5"/><path class="d" d="M581.06 405.0V416.8M581.49 411.6V416.8"/><path class="d b" d="M581.06 407.5V414.8M581.49 414.8V416.8"/><path class="u" d="M581.92 410.9V416.8M582.35 400.3V414.8"/><path class="u b" d="M581.92 416.8V414.7M582.35 414.7V403.2"/><path class="d" d="M582.77 399.6V413.0M583.20 397.1V408.6"/><path class="d b" d="M582.77 403.2V406.1M583.20 405.8V406.4"/><path class="u" d="M583.63 389.0V406.2"/><path class="u b" d="M583.63 406.1V393.0"/><path class="d" d="M584.05 387.0V399.0"/><path class="d b" d="M584.05 393.0V393.7"/><path class="u" d="M584.48 385.1V400.5M584.91 384.2V394.7M585.34 378.1V397.3"/><path class="u b" d="M584.48 393.7V390.8M584.91 390.8V390.0M585.34 390.0V378.7"/><path class="d" d="M585.76 368.8V391.0M586.19 386.9V395.8"/><path class="d b" d="M585.76 378.7V388.4M586.19 388.4V393.1"/><path class="u" d="M586.62 377.2V393.4M587.04 363.6V383.0M587.47 362.3V382.5M587.90 349.7V363.8M588.33 351.1V360.0M588.75 346.4V352.7M589.18 337.8V359.4"/><path class="u b" d="M586.62 393.1V381.7M587.04 381.7V374.5M587.47 374.5V362.7M587.90 362.7V352.3M588.33 352.3V351.2M588.75 350.7V351.3M589.18 350.7V347.5"/><path class="d" d="M589.61 342.4V349.8M590.04 345.5V350.7M590.46 349.8V368.3"/><path class="d b" d="M589.61 347.5V348.1M590.04 348.1V349.8M590.46 349.8V356.0"/><path class="u" d="M590.89 355.2V361.3"/><path class="u b" d="M590.89 356.0V355.2"/><path class="d" d="M591.32 355.2V357.0"/><path class="d b" d="M591.32 355.2V355.8"/><path class="u" d="M591.74 355.2V368.3"/><path class="u b" d="M591.74 355.2V355.8"/><path class="d" d="M592.17 355.2V365.6M592.60 357.5V365.6"/><path class="d b" d="M592.17 355.2V360.1M592.60 360.1V361.2"/><path class="u" d="M593.03 355.2V369.9M593.45 355.2V363.3"/><path class="u b" d="M593.03 361.2V360.4M593.45 360.4V355.2"/><path class="d" d="M593.88 355.2V365.4"/><path class="d b" d="M593.88 355.2V363.0"/><path class="u" d="M594.31 355.2V364.3M594.74 355.2V357.8M595.16 355.2V361.0"/><path class="u b" d="M594.31 363.0V355.2M594.74 354.9V355.5M595.16 354.9V355.5"/><path class="d" d="M595.59 355.2V369.9"/><path class="d b" d="M595.59 355.2V365.2"/><path class="u" d="M596.02 348.8V369.9M596.44 337.8V356.7M596.87 346.9V356.0"/><path class="u b" d="M596.02 365.2V351.1M596.44 351.1V350.1M596.87 350.1V347.3"/><path class="d" d="M597.30 337.8V373.7"/><path class="d b" d="M597.30 347.3V365.3"/><path class="u" d="M597.73 356.5V367.0M598.15 345.6V364.1"/><path class="u b" d="M597.73 365.3V360.4M598.15 360.4V348.7"/><path class="d" d="M598.58 339.2V362.7M599.01 353.9V380.4"/><path class="d b" d="M598.58 348.7V358.7M599.01 358.7V374.4"/><path class="u" d="M599.44 362.8V379.6"/><path class="u b" d="M599.44 374.4V369.4"/><path class="d" d="M599.86 362.6V384.6M600.29 380.7V395.8M600.72 384.3V394.7M601.14 381.3V392.5"/><path class="d b" d="M599.86 369.4V383.5M600.29 383.5V385.9M600.72 385.9V386.6M601.14 386.5V387.1"/><path class="u" d="M601.57 381.7V389.7"/><path class="u b" d="M601.57 386.9V385.7"/><path class="d" d="M602.00 374.6V405.7"/><path class="d b" d="M602.00 385.7V397.3"/><path class="u" d="M602.43 383.8V398.5"/><path class="u b" d="M602.43 397.3V392.6"/><path class="d" d="M602.85 392.3V405.7M603.28 391.5V405.5"/><path class="d b" d="M602.85 392.6V400.7M603.28 400.7V402.1"/><path class="u" d="M603.71 396.3V411.7M604.13 391.9V400.5"/><path class="u b" d="M603.71 402.1V397.8M604.13 397.8V393.4"/><path class="d" d="M604.56 389.0V397.8"/><path class="d b" d="M604.56 393.4V394.1"/><path class="u" d="M604.99 389.4V401.9"/><path class="u b" d="M604.99 394.1V393.4"/><path class="d" d="M605.42 389.0V401.0M605.84 391.6V411.6M606.27 397.4V418.1M606.70 398.8V418.9M607.13 406.4V424.1"/><path class="d b" d="M605.42 393.4V400.5M605.84 400.5V403.9M606.27 403.9V408.6M606.70 408.6V416.4M607.13 416.4V420.0"/><path class="u" d="M607.55 404.1V423.4"/><path class="u b" d="M607.55 420.0V408.7"/><path class="d" d="M607.98 406.4V424.5"/><path class="d b" d="M607.98 408.7V417.2"/><path class="u" d="M608.41 415.2V432.1M608.83 407.1V419.4"/><path class="u b" d="M608.41 417.2V416.2M608.83 416.2V415.4"/><path class="d" d="M609.26 410.6V419.0M609.69 407.7V425.3"/><path class="d b" d="M609.26 415.4V417.6M609.69 417.6V420.0"/><path class="u" d="M610.12 412.2V428.5M610.54 405.8V422.5M610.97 386.0V414.4"/><path class="u b" d="M610.12 420.0V414.4M610.54 414.4V409.5M610.97 409.5V393.1"/><path class="d" d="M611.40 389.8V397.6M611.83 384.5V405.0"/><path class="d b" d="M611.40 393.1V396.0M611.83 396.0V401.5"/><path class="u" d="M612.25 366.8V407.3M612.68 357.9V384.9"/><path class="u b" d="M612.25 401.5V380.1M612.68 380.1V363.1"/><path class="d" d="M613.11 359.2V382.8M613.53 380.4V399.7M613.96 395.0V401.8"/><path class="d b" d="M613.11 363.1V381.1M613.53 381.1V397.2M613.96 397.2V401.6"/><path class="u" d="M614.39 388.3V407.8"/><path class="u b" d="M614.39 401.6V394.8"/><path class="d" d="M614.82 391.1V402.1"/><path class="d b" d="M614.82 394.8V399.3"/><path class="u" d="M615.24 385.9V406.5M615.67 369.7V402.7"/><path class="u b" d="M615.24 399.3V396.1M615.67 396.1V377.2"/><path class="d" d="M616.10 367.2V388.4"/><path class="d b" d="M616.10 377.2V381.6"/><path class="u" d="M616.53 369.6V392.0"/><path class="u b" d="M616.53 381.6V374.9"/><path class="d" d="M616.95 371.1V381.7"/><path class="d b" d="M616.95 374.9V379.6"/><path class="u" d="M617.38 360.3V381.4M617.81 349.5V363.4"/><path class="u b" d="M617.38 379.6V362.3M617.81 362.3V352.2"/><path class="d" d="M618.23 349.8V354.2M618.66 347.5V378.9M619.09 361.2V382.3M619.52 363.9V393.1M619.94 386.7V388.6"/><path class="d b" d="M618.23 352.2V353.8M618.66 353.8V364.5M619.09 364.5V369.5M619.52 369.5V388.1M619.94 388.0V388.6"/><path class="u" d="M620.37 378.3V388.8"/><path class="u b" d="M620.37 388.6V383.8"/><path class="d" d="M620.80 382.0V404.5M621.22 390.5V417.6M621.65 412.5V455.2"/><path class="d b" d="M620.80 383.8V403.8M621.22 403.8V417.4M621.65 417.4V429.6"/><path class="u" d="M622.08 424.2V431.9M622.51 402.9V426.7M622.93 396.2V404.4"/><path class="u b" d="M622.08 429.6V424.3M622.51 424.3V404.0M622.93 404.0V402.8"/><path class="d" d="M623.36 398.6V412.8M623.79 403.5V414.9M624.22 409.6V426.7"/><path class="d b" d="M623.36 402.8V408.8M623.79 408.8V413.6M624.22 413.6V423.0"/><path class="u" d="M624.64 397.7V429.9"/><path class="u b" d="M624.64 423.0V399.8"/><path class="d" d="M625.07 392.1V411.7M625.50 405.9V410.3"/><path class="d b" d="M625.07 399.8V408.1M625.50 408.0V408.6"/><path class="u" d="M625.92 388.2V409.2"/><path class="u b" d="M625.92 408.6V393.7"/><path class="d" d="M626.35 384.7V403.5"/><path class="d b" d="M626.35 393.7V403.1"/><path class="u" d="M626.78 397.2V405.2M627.21 386.7V402.6M627.63 388.4V394.4M628.06 379.3V389.3M628.49 370.1V387.4M628.92 373.2V384.8"/><path class="u b" d="M626.78 403.1V397.9M627.21 397.9V391.1M627.63 391.1V389.2M628.06 389.2V382.5M628.49 382.5V380.3M628.92 380.3V377.3"/><path class="d" d="M629.34 376.8V384.3"/><path class="d b" d="M629.34 377.3V381.0"/><path class="u" d="M629.77 367.9V383.3"/><path class="u b" d="M629.77 381.0V376.5"/><path class="d" d="M630.20 371.7V382.6"/><path class="d b" d="M630.20 376.5V377.3"/><path class="u" d="M630.62 369.9V380.9"/><path class="u b" d="M630.62 376.7V377.3"/><path class="d" d="M631.05 375.7V396.6M631.48 381.0V395.0"/><path class="d b" d="M631.05 376.7V381.2M631.48 381.2V392.9"/><path class="u" d="M631.91 367.9V392.9"/><path class="u b" d="M631.91 392.9V386.7"/><path class="d" d="M632.33 379.5V397.9M632.76 391.4V404.2M633.19 394.6V429.3M633.62 415.1V423.7M634.04 419.9V437.3"/><path class="d b" d="M632.33 386.7V392.2M632.76 392.2V399.7M633.19 399.7V418.2M633.62 418.2V422.6M634.04 422.6V433.5"/><path class="u" d="M634.47 416.7V434.4"/><path class="u b" d="M634.47 433.5V422.7"/><path class="d" d="M634.90 415.6V435.2M635.32 427.6V437.3M635.75 427.3V437.3"/><path class="d b" d="M634.90 422.7V430.0M635.32 429.7V430.3M635.75 430.1V432.0"/><path class="u" d="M636.18 420.6V437.2M636.61 411.6V425.9"/><path class="u b" d="M636.18 432.0V425.1M636.61 425.1V416.9"/><path class="d" d="M637.03 414.9V430.1M637.46 416.6V427.2M637.89 422.6V427.0"/><path class="d b" d="M637.03 416.9V420.6M637.46 420.6V423.8M637.89 423.8V425.9"/><path class="u" d="M638.31 402.8V428.4"/><path class="u b" d="M638.31 425.9V408.9"/><path class="d" d="M638.74 400.0V424.9"/><path class="d b" d="M638.74 408.9V422.2"/><path class="u" d="M639.17 414.9V425.8"/><path class="u b" d="M639.17 422.2V416.3"/><path class="d" d="M639.60 410.0V424.1"/><path class="d b" d="M639.60 416.3V419.5"/><path class="u" d="M640.02 408.8V420.6M640.45 399.6V413.7"/><path class="u b" d="M640.02 419.5V410.6M640.45 410.6V400.6"/><path class="d" d="M640.88 398.4V409.8"/><path class="d b" d="M640.88 400.6V407.6"/><path class="u" d="M641.31 381.3V408.4"/><path class="u b" d="M641.31 407.6V389.1"/><path class="d" d="M641.73 385.4V409.0"/><path class="d b" d="M641.73 389.1V403.1"/><path class="u" d="M642.16 395.6V404.1M642.59 379.2V408.2"/><path class="u b" d="M642.16 403.1V400.9M642.59 400.9V392.9"/><path class="d" d="M643.01 385.8V397.8"/><path class="d b" d="M643.01 392.7V393.3"/><path class="u" d="M643.44 377.7V393.6M643.87 369.6V381.4M644.30 365.3V376.3"/><path class="u b" d="M643.44 393.2V380.4M643.87 380.4V376.1M644.30 376.1V369.1"/><path class="d" d="M644.72 365.4V375.4M645.15 369.2V382.2"/><path class="d b" d="M644.72 369.1V372.3M645.15 372.3V381.0"/><path class="u" d="M645.58 361.1V382.3"/><path class="u b" d="M645.58 381.0V369.6"/><path class="d" d="M646.01 368.9V396.8M646.43 385.5V399.0"/><path class="d b" d="M646.01 369.6V390.0M646.43 390.0V396.8"/><path class="u" d="M646.86 387.0V405.8M647.29 378.4V393.0"/><path class="u b" d="M646.86 396.8V389.0M647.29 389.0V382.1"/><path class="d" d="M647.71 381.8V398.0M648.14 378.6V402.0"/><path class="d b" d="M647.71 382.1V385.5M648.14 385.5V400.4"/><path class="u" d="M648.57 387.1V404.1M649.00 373.8V390.3"/><path class="u b" d="M648.57 400.4V389.1M649.00 389.1V380.7"/><path class="d" d="M649.42 378.8V389.0M649.85 381.6V401.2"/><path class="d b" d="M649.42 380.7V384.2M649.85 384.2V397.3"/><path class="u" d="M650.28 388.2V404.7M650.71 376.2V401.8"/><path class="u b" d="M650.28 397.3V393.9M650.71 393.9V383.2"/><path class="d" d="M651.13 378.5V398.5M651.56 392.3V404.9"/><path class="d b" d="M651.13 383.2V394.2M651.56 394.2V399.7"/><path class="u" d="M651.99 372.2V400.6"/><path class="u b" d="M651.99 399.7V377.9"/><path class="d" d="M652.41 375.1V387.7M652.84 371.0V394.2"/><path class="d b" d="M652.41 377.9V380.5M652.84 380.5V391.2"/><path class="u" d="M653.27 378.9V398.9M653.70 362.4V395.8"/><path class="u b" d="M653.27 391.2V386.2M653.70 386.2V374.2"/><path class="d" d="M654.12 371.5V381.6"/><path class="d b" d="M654.12 374.2V378.2"/><path class="u" d="M654.55 373.5V378.5M654.98 349.6V391.4M655.40 352.5V385.9"/><path class="u b" d="M654.55 378.2V377.3M654.98 377.3V369.5M655.40 369.5V356.3"/><path class="d" d="M655.83 346.9V369.4M656.26 362.1V370.4M656.69 363.6V372.3"/><path class="d b" d="M655.83 356.3V364.0M656.26 364.0V368.0M656.69 367.9V368.5"/><path class="u" d="M657.11 333.5V370.1M657.54 335.4V358.7M657.97 329.1V344.1"/><path class="u b" d="M657.11 368.3V346.1M657.54 346.1V341.9M657.97 341.9V335.8"/><path class="d" d="M658.40 329.1V357.2"/><path class="d b" d="M658.40 335.8V342.0"/><path class="u" d="M658.82 338.2V342.7"/><path class="u b" d="M658.82 342.0V338.5"/><path class="d" d="M659.25 329.1V343.2M659.68 331.5V354.3M660.10 342.7V363.2M660.53 342.8V364.0"/><path class="d b" d="M659.25 338.5V343.1M659.68 343.1V349.0M660.10 349.0V351.6M660.53 351.6V357.8"/><path class="u" d="M660.96 356.7V359.6M661.39 321.3V359.5M661.81 321.3V341.7M662.24 313.0V336.4M662.67 310.4V327.1M663.10 280.6V325.6M663.52 269.4V296.6M663.95 247.4V289.2M664.38 229.6V271.0"/><path class="u b" d="M660.96 357.8V356.7M661.39 356.7V335.7M661.81 335.7V330.6M662.24 330.6V318.7M662.67 318.7V314.3M663.10 314.3V291.9M663.52 291.9V272.3M663.95 272.3V262.8M664.38 262.8V245.0"/><path class="d" d="M664.80 229.6V254.7"/><path class="d b" d="M664.80 245.0V251.4"/><path class="u" d="M665.23 238.9V257.8M665.66 240.8V257.8"/><path class="u b" d="M665.23 251.1V251.7M665.66 251.4V249.7"/><path class="d" d="M666.09 247.3V257.8"/><path class="d b" d="M666.09 249.7V250.5"/><path class="u" d="M666.51 229.6V254.1M666.94 229.6V257.8M667.37 195.8V233.8M667.80 195.8V199.4"/><path class="u b" d="M666.51 250.5V242.1M666.94 242.1V230.0M667.37 230.0V195.8M667.80 195.5V196.1"/><path class="d" d="M668.22 195.8V199.8"/><path class="d b" d="M668.22 195.8V199.4"/><path class="u" d="M668.65 195.8V208.8M669.08 195.8V199.7"/><path class="u b" d="M668.65 199.4V195.8M669.08 195.5V196.1"/><path class="d" d="M669.50 195.8V221.8M669.93 218.8V240.9"/><path class="d b" d="M669.50 195.8V219.9M669.93 219.9V235.3"/><path class="u" d="M670.36 220.5V240.9M670.79 224.5V240.6"/><path class="u b" d="M670.36 235.3V231.4M670.79 231.4V226.8"/><path class="d" d="M671.21 222.5V240.9"/><path class="d b" d="M671.21 226.8V240.9"/><path class="u" d="M671.64 227.7V240.9"/><path class="u b" d="M671.64 240.9V233.6"/><path class="d" d="M672.07 233.5V240.9"/><path class="d b" d="M672.07 233.6V240.9"/><path class="u" d="M672.49 231.4V240.9M672.92 204.7V240.9"/><path class="u b" d="M672.49 240.9V239.5M672.92 239.5V207.6"/><path class="d" d="M673.35 202.5V240.4"/><path class="d b" d="M673.35 207.6V224.2"/><path class="u" d="M673.78 173.2V234.0"/><path class="u b" d="M673.78 224.2V209.6"/><path class="d" d="M674.20 194.6V223.4"/><path class="d b" d="M674.20 209.6V216.5"/><path class="u" d="M674.63 203.5V221.0M675.06 200.9V220.4"/><path class="u b" d="M674.63 216.5V211.1M675.06 211.1V207.0"/><path class="d" d="M675.49 203.1V217.0"/><path class="d b" d="M675.49 206.8V207.4"/><path class="u" d="M675.91 177.6V222.9M676.34 173.2V183.1"/><path class="u b" d="M675.91 207.2V178.0M676.34 178.0V176.6"/><path class="d" d="M676.77 168.1V179.8"/><path class="d b" d="M676.77 176.6V179.7"/><path class="u" d="M677.19 161.9V184.4"/><path class="u b" d="M677.19 179.7V170.0"/><path class="d" d="M677.62 162.4V181.1M678.05 161.6V184.5"/><path class="d b" d="M677.62 170.0V175.3M678.05 175.3V176.4"/><path class="u" d="M678.48 150.7V189.9"/><path class="u b" d="M678.48 176.4V155.3"/><path class="d" d="M678.90 150.7V168.7M679.33 150.7V177.5M679.76 166.3V205.2M680.19 186.2V234.8M680.61 191.3V217.2"/><path class="d b" d="M678.90 155.3V162.5M679.33 162.5V174.4M679.76 174.4V196.1M680.19 196.1V205.5M680.61 205.5V214.7"/><path class="u" d="M681.04 191.3V234.8"/><path class="u b" d="M681.04 214.7V198.5"/><path class="d" d="M681.47 197.6V222.9M681.89 213.7V234.8"/><path class="d b" d="M681.47 198.5V217.2M681.89 217.2V234.8"/><path class="u" d="M682.32 227.5V234.8M682.75 230.4V234.8"/><path class="u b" d="M682.32 234.5V235.1M682.75 234.5V235.1"/><path class="d" d="M683.18 228.9V234.8"/><path class="d b" d="M683.18 234.5V235.1"/><path class="u" d="M683.60 234.1V234.8M684.03 230.8V234.8M684.46 202.1V234.8"/><path class="u b" d="M683.60 234.5V235.1M684.03 234.5V235.1M684.46 234.8V227.6"/><path class="d" d="M684.89 215.3V234.8"/><path class="d b" d="M684.89 227.6V234.8"/><path class="u" d="M685.31 215.5V234.8"/><path class="u b" d="M685.31 234.8V222.5"/><path class="d" d="M685.74 218.5V224.3"/><path class="d b" d="M685.74 222.5V223.2"/><path class="u" d="M686.17 207.1V233.0"/><path class="u b" d="M686.17 223.2V210.4"/><path class="d" d="M686.59 207.3V233.0"/><path class="d b" d="M686.59 210.4V227.8"/><path class="u" d="M687.02 218.1V227.9"/><path class="u b" d="M687.02 227.8V219.7"/><path class="d" d="M687.45 217.9V228.3"/><path class="d b" d="M687.45 219.7V221.6"/><path class="u" d="M687.88 179.9V237.7M688.30 204.3V218.0M688.73 179.9V208.5"/><path class="u b" d="M687.88 221.6V209.6M688.30 209.6V204.8M688.73 204.8V182.8"/><path class="d" d="M689.16 179.9V197.1M689.58 180.9V219.4M690.01 205.0V217.0M690.44 214.1V249.1M690.87 217.4V231.1"/><path class="d b" d="M689.16 182.8V192.3M689.58 192.3V211.0M690.01 211.0V216.9M690.44 216.9V221.9M690.87 221.9V227.5"/><path class="u" d="M691.29 188.4V232.1M691.72 187.3V208.5M692.15 157.6V198.9M692.58 157.0V178.7"/><path class="u b" d="M691.29 227.5V200.5M691.72 200.5V196.4M692.15 196.4V174.3M692.58 174.3V168.9"/><path class="d" d="M693.00 157.9V190.2"/><path class="d b" d="M693.00 168.9V184.5"/><path class="u" d="M693.43 144.5V189.6M693.86 175.1V191.1M694.28 162.4V186.0"/><path class="u b" d="M693.43 184.5V183.5M693.86 183.5V180.4M694.28 180.4V173.2"/><path class="d" d="M694.71 158.0V180.0M695.14 173.1V189.0M695.57 168.7V205.0"/><path class="d b" d="M694.71 173.2V178.3M695.14 178.3V182.6M695.57 182.6V204.2"/><path class="u" d="M695.99 192.2V205.0M696.42 173.5V205.0M696.85 172.4V186.1M697.28 169.8V185.2M697.70 169.8V178.7"/><path class="u b" d="M695.99 204.2V192.5M696.42 192.5V183.5M696.85 183.5V182.2M697.28 182.2V175.6M697.70 175.3V175.9"/><path class="d" d="M698.13 174.3V183.5M698.56 169.8V200.5M698.98 192.3V205.0M699.41 199.6V238.9M699.84 200.0V224.5M700.27 216.8V232.8"/><path class="d b" d="M698.13 175.6V181.4M698.56 181.4V198.2M698.98 198.2V205.0M699.41 205.0V205.6M699.84 205.5V220.7M700.27 220.7V231.1"/><path class="u" d="M700.69 209.2V232.9M701.12 212.1V223.9M701.55 197.7V216.3"/><path class="u b" d="M700.69 231.1V214.4M701.12 214.4V213.7M701.55 213.7V200.0"/><path class="d" d="M701.98 194.4V213.5M702.40 203.0V209.9"/><path class="d b" d="M701.98 200.0V204.3M702.40 204.3V207.1"/><path class="u" d="M702.83 201.4V214.7"/><path class="u b" d="M702.83 207.1V201.6"/><path class="d" d="M703.26 200.5V217.9"/><path class="d b" d="M703.26 201.6V212.5"/><path class="u" d="M703.68 212.3V217.9M704.11 200.8V217.3"/><path class="u b" d="M703.68 212.2V212.8M704.11 212.5V202.8"/><path class="d" d="M704.54 196.3V216.2M704.97 205.5V217.9"/><path class="d b" d="M704.54 202.8V209.6M704.97 209.6V212.5"/><path class="u" d="M705.39 210.6V217.9M705.82 210.9V217.9M706.25 206.6V217.9M706.67 196.3V215.8"/><path class="u b" d="M705.39 212.2V212.8M705.82 212.2V212.8M706.25 212.5V211.2M706.67 211.2V202.5"/><path class="d" d="M707.10 196.3V237.0M707.53 215.8V265.5M707.96 248.0V262.0"/><path class="d b" d="M707.10 202.5V222.4M707.53 222.4V254.1M707.96 254.1V258.5"/><path class="u" d="M708.38 246.9V259.6"/><path class="u b" d="M708.38 258.5V247.4"/><path class="d" d="M708.81 245.7V265.5M709.24 248.2V265.5M709.67 257.3V265.5"/><path class="d b" d="M708.81 247.4V251.7M709.24 251.7V263.5M709.67 263.5V265.5"/><path class="u" d="M710.09 257.7V305.5M710.52 248.6V265.5M710.95 219.4V263.2"/><path class="u b" d="M710.09 265.2V265.8M710.52 265.5V259.4M710.95 259.4V223.5"/><path class="d" d="M711.37 220.7V236.2M711.80 219.4V241.2M712.23 229.0V262.0M712.66 239.7V253.4M713.08 246.4V275.1M713.51 263.5V277.5"/><path class="d b" d="M711.37 223.5V229.0M711.80 229.0V238.9M712.23 238.9V243.9M712.66 243.9V249.5M713.08 249.5V266.4M713.51 266.4V271.4"/><path class="u" d="M713.94 254.0V274.1M714.37 261.8V271.4"/><path class="u b" d="M713.94 271.4V266.3M714.37 266.3V265.2"/><path class="d" d="M714.79 261.5V313.7M715.22 274.9V304.2"/><path class="d b" d="M714.79 265.2V281.4M715.22 281.4V284.4"/><path class="u" d="M715.65 280.4V290.1"/><path class="u b" d="M715.65 284.4V283.0"/><path class="d" d="M716.07 282.7V299.1"/><path class="d b" d="M716.07 283.0V293.3"/><path class="u" d="M716.50 282.9V300.8M716.93 276.1V286.4"/><path class="u b" d="M716.50 293.3V284.6M716.93 284.6V277.6"/><path class="d" d="M717.36 271.5V284.6"/><path class="d b" d="M717.36 277.6V283.5"/><path class="u" d="M717.78 271.0V285.6M718.21 257.4V279.7M718.64 248.4V260.1"/><path class="u b" d="M717.78 283.5V274.9M718.21 274.9V259.1M718.64 259.1V253.4"/><path class="d" d="M719.07 253.0V268.6"/><path class="d b" d="M719.07 253.4V258.0"/><path class="u" d="M719.49 250.4V270.6M719.92 248.4V255.1"/><path class="u b" d="M719.49 258.0V253.4M719.92 253.1V253.7"/><path class="d" d="M720.35 248.4V260.0"/><path class="d b" d="M720.35 253.4V258.3"/><path class="u" d="M720.77 248.4V258.8M721.20 248.4V256.0"/><path class="u b" d="M720.77 258.3V253.4M721.20 253.1V253.7"/><path class="d" d="M721.63 252.8V259.9M722.06 248.9V259.9M722.48 255.9V272.9M722.91 268.5V277.1"/><path class="d b" d="M721.63 253.1V253.7M722.06 253.5V257.6M722.48 257.6V269.0M722.91 269.0V270.4"/><path class="u" d="M723.34 265.4V290.6M723.76 252.2V274.9"/><path class="u b" d="M723.34 270.4V269.3M723.76 269.3V253.8"/><path class="d" d="M724.19 248.4V279.8M724.62 271.1V294.3"/><path class="d b" d="M724.19 253.8V273.8M724.62 273.8V291.1"/><path class="u" d="M725.05 279.1V293.4"/><path class="u b" d="M725.05 291.1V286.6"/><path class="d" d="M725.47 279.8V290.7M725.90 285.1V293.6M726.33 284.9V324.5"/><path class="d b" d="M725.47 286.6V288.7M725.90 288.7V292.3M726.33 292.3V300.4"/><path class="u" d="M726.76 279.3V301.2M727.18 279.4V292.4M727.61 270.1V280.8M728.04 268.5V287.2"/><path class="u b" d="M726.76 300.4V291.3M727.18 291.3V280.4M727.61 280.4V275.6M728.04 275.6V269.8"/><path class="d" d="M728.46 263.3V284.7"/><path class="d b" d="M728.46 269.8V283.7"/><path class="u" d="M728.89 263.8V293.5"/><path class="u b" d="M728.89 283.7V267.0"/><path class="d" d="M729.32 258.6V276.6M729.75 263.4V276.0"/><path class="d b" d="M729.32 267.0V269.9M729.75 269.9V275.8"/><path class="u" d="M730.17 248.7V281.6M730.60 224.6V257.5"/><path class="u b" d="M730.17 275.8V255.7M730.60 255.7V237.2"/><path class="d" d="M731.03 234.2V250.5"/><path class="d b" d="M731.03 237.2V243.3"/><path class="u" d="M731.46 226.3V253.5M731.88 227.5V242.5"/><path class="u b" d="M731.46 243.3V236.9M731.88 236.9V230.4"/><path class="d" d="M732.31 222.2V241.9"/><path class="d b" d="M732.31 230.4V237.1"/><path class="u" d="M732.74 224.5V238.5M733.16 220.3V229.9"/><path class="u b" d="M732.74 237.1V227.6M733.16 227.6V220.8"/><path class="d" d="M733.59 216.3V233.6"/><path class="d b" d="M733.59 220.8V232.8"/><path class="u" d="M734.02 230.8V234.7M734.45 218.9V238.0M734.87 210.7V225.1"/><path class="u b" d="M734.02 232.5V233.1M734.45 232.8V223.5M734.87 223.5V214.1"/><path class="d" d="M735.30 206.0V228.3"/><path class="d b" d="M735.30 214.1V225.4"/><path class="u" d="M735.73 195.4V238.0"/><path class="u b" d="M735.73 225.4V211.4"/><path class="d" d="M736.16 202.1V218.7"/><path class="d b" d="M736.16 211.4V214.1"/><path class="u" d="M736.58 203.5V214.5M737.01 185.1V216.6M737.44 165.0V205.1"/><path class="u b" d="M736.58 214.1V207.3M737.01 207.3V199.0M737.44 199.0V171.0"/><path class="d" d="M737.86 165.0V183.3"/><path class="d b" d="M737.86 171.0V182.7"/><path class="u" d="M738.29 165.0V186.5"/><path class="u b" d="M738.29 182.7V171.0"/><path class="d" d="M738.72 165.6V186.8M739.15 167.9V194.0"/><path class="d b" d="M738.72 171.0V178.0M739.15 178.0V184.6"/><path class="u" d="M739.57 174.7V198.4M740.00 165.6V181.8M740.43 165.6V181.9"/><path class="u b" d="M739.57 184.6V176.8M740.00 176.8V168.7M740.43 168.7V165.6"/><path class="d" d="M740.85 165.6V186.2"/><path class="d b" d="M740.85 165.6V180.5"/><path class="u" d="M741.28 165.6V184.9M741.71 168.3V181.9M742.14 165.6V172.6"/><path class="u b" d="M741.28 180.5V173.2M741.71 173.2V169.1M742.14 169.1V165.6"/><path class="d" d="M742.56 165.6V184.8"/><path class="d b" d="M742.56 165.6V172.6"/><path class="u" d="M742.99 165.6V174.9"/><path class="u b" d="M742.99 172.6V167.4"/><path class="d" d="M743.42 165.6V173.5"/><path class="d b" d="M743.42 167.4V170.4"/><path class="u" d="M743.85 165.6V175.0M744.27 141.8V175.1M744.70 132.2V157.6"/><path class="u b" d="M743.85 170.4V167.2M744.27 167.2V149.3M744.70 149.3V132.2"/><path class="d" d="M745.13 132.2V141.0"/><path class="d b" d="M745.13 132.2V140.4"/><path class="u" d="M745.55 132.2V146.7"/><path class="u b" d="M745.55 140.4V133.8"/><path class="d" d="M745.98 132.2V155.5M746.41 137.9V149.4M746.84 138.7V165.6"/><path class="d b" d="M745.98 133.8V145.1M746.41 145.1V146.7M746.84 146.7V161.6"/><path class="u" d="M747.26 132.2V181.3M747.69 132.2V150.4"/><path class="u b" d="M747.26 161.6V140.7M747.69 140.7V137.3"/><path class="d" d="M748.12 132.3V164.9M748.55 159.6V172.1"/><path class="d b" d="M748.12 137.3V163.0M748.55 163.0V171.1"/><path class="u" d="M748.97 159.5V181.3"/><path class="u b" d="M748.97 171.1V163.3"/><path class="d" d="M749.40 158.3V168.5M749.83 164.1V191.5M750.25 188.2V197.4"/><path class="d b" d="M749.40 163.3V168.2M749.83 168.2V188.3M750.25 188.1V188.7"/><path class="u" d="M750.68 170.5V191.0M751.11 177.6V195.5"/><path class="u b" d="M750.68 188.5V186.7M751.11 186.7V181.7"/><path class="d" d="M751.54 180.1V189.3"/><path class="d b" d="M751.54 181.7V186.1"/><path class="u" d="M751.96 161.9V191.9M752.39 150.4V181.4"/><path class="u b" d="M751.96 186.1V169.0M752.39 169.0V156.3"/><path class="d" d="M752.82 154.4V176.2"/><path class="d b" d="M752.82 156.3V169.9"/><path class="u" d="M753.25 139.4V175.8M753.67 139.4V152.5"/><path class="u b" d="M753.25 169.9V141.5M753.67 141.5V139.4"/><path class="d" d="M754.10 139.4V162.8"/><path class="d b" d="M754.10 139.4V146.6"/><path class="u" d="M754.53 139.4V153.7M754.95 139.4V151.9"/><path class="u b" d="M754.53 146.6V139.4M754.95 139.1V139.7"/><path class="d" d="M755.38 139.4V143.3M755.81 139.4V176.0"/><path class="d b" d="M755.38 139.4V141.2M755.81 141.2V164.2"/><path class="u" d="M756.24 149.3V172.0M756.66 147.0V160.5"/><path class="u b" d="M756.24 164.2V155.4M756.66 155.4V148.7"/><path class="d" d="M757.09 146.0V161.1M757.52 152.2V174.9"/><path class="d b" d="M757.09 148.7V157.0M757.52 157.0V169.8"/><path class="u" d="M757.94 140.3V171.3"/><path class="u b" d="M757.94 169.8V140.5"/><path class="d" d="M758.37 139.4V183.3M758.80 162.8V203.0"/><path class="d b" d="M758.37 140.5V174.5M758.80 174.5V189.1"/><path class="u" d="M759.23 174.7V190.3"/><path class="u b" d="M759.23 189.1V179.9"/><path class="d" d="M759.65 179.2V196.8M760.08 171.0V203.0"/><path class="d b" d="M759.65 179.9V183.7M760.08 183.7V203.0"/><path class="u" d="M760.51 201.5V203.0M760.94 182.2V203.0M761.36 177.3V196.4M761.79 164.6V203.0M762.22 155.5V175.6"/><path class="u b" d="M760.51 202.7V203.3M760.94 203.0V186.7M761.36 186.7V182.4M761.79 182.4V168.2M762.22 168.2V162.4"/><path class="d" d="M762.64 155.9V167.1"/><path class="d b" d="M762.64 162.4V165.1"/><path class="u" d="M763.07 139.9V176.0M763.50 131.4V164.3M763.93 125.7V145.9"/><path class="u b" d="M763.07 165.1V151.0M763.50 151.0V144.5M763.93 144.5V135.8"/><path class="d" d="M764.35 122.0V147.8"/><path class="d b" d="M764.35 135.8V139.9"/><path class="u" d="M764.78 81.1V142.6"/><path class="u b" d="M764.78 139.9V104.4"/><path class="d" d="M765.21 101.2V122.4M765.64 110.6V130.6"/><path class="d b" d="M765.21 104.4V115.2M765.64 115.2V130.3"/><path class="u" d="M766.06 106.7V136.4"/><path class="u b" d="M766.06 130.3V120.3"/><path class="d" d="M766.49 111.3V134.8"/><path class="d b" d="M766.49 120.3V125.0"/><path class="u" d="M766.92 115.3V134.4M767.34 85.1V133.8"/><path class="u b" d="M766.92 125.0V117.8M767.34 117.8V92.5"/><path class="d" d="M767.77 86.8V113.1"/><path class="d b" d="M767.77 92.5V102.9"/><path class="u" d="M768.20 74.8V105.8M768.63 74.8V94.4M769.05 74.8V91.2"/><path class="u b" d="M768.20 102.9V92.2M768.63 92.2V85.9M769.05 85.9V79.9"/><path class="d" d="M769.48 78.6V104.8M769.91 95.5V117.8"/><path class="d b" d="M769.48 79.9V96.0M769.91 96.0V110.4"/><path class="u" d="M770.34 81.5V119.7M770.76 74.8V93.5M771.19 81.3V88.8M771.62 78.8V86.2"/><path class="u b" d="M770.34 110.4V92.1M770.76 92.1V87.1M771.19 87.1V81.9M771.62 81.4V82.0"/><path class="d" d="M772.04 76.6V94.7"/><path class="d b" d="M772.04 81.6V88.8"/><path class="u" d="M772.47 79.0V95.7M772.90 77.4V86.7M773.33 74.8V83.5"/><path class="u b" d="M772.47 88.8V83.5M772.90 83.0V83.6M773.33 83.0V74.8"/><path class="d" d="M773.75 74.8V81.2M774.18 77.1V112.0M774.61 107.1V140.1"/><path class="d b" d="M773.75 74.8V80.5M774.18 80.5V109.9M774.61 109.9V129.8"/><path class="u" d="M775.03 97.9V134.3"/><path class="u b" d="M775.03 129.8V113.4"/><path class="d" d="M775.46 109.7V133.8"/><path class="d b" d="M775.46 113.4V126.5"/><path class="u" d="M775.89 109.9V136.8"/><path class="u b" d="M775.89 126.5V114.4"/><path class="d" d="M776.32 105.3V135.1"/><path class="d b" d="M776.32 114.4V129.7"/><path class="u" d="M776.74 111.7V133.2M777.17 120.5V135.5"/><path class="u b" d="M776.74 129.7V124.8M777.17 124.4V125.0"/><path class="d" d="M777.60 122.9V134.2"/><path class="d b" d="M777.60 124.6V130.6"/><path class="u" d="M778.03 121.0V135.2M778.45 122.1V128.3"/><path class="u b" d="M778.03 130.6V126.7M778.45 126.3V126.9"/><path class="d" d="M778.88 119.0V138.0"/><path class="d b" d="M778.88 126.4V136.0"/><path class="u" d="M779.31 116.2V136.0"/><path class="u b" d="M779.31 136.0V121.7"/><path class="d" d="M779.73 119.3V127.4"/><path class="d b" d="M779.73 121.7V125.5"/><path class="u" d="M780.16 114.8V128.9M780.59 112.0V142.2M781.02 104.8V127.2M781.44 68.1V113.5"/><path class="u b" d="M780.16 125.5V122.4M780.59 122.4V115.1M781.02 115.1V110.8M781.44 110.8V99.9"/><path class="d" d="M781.87 99.8V126.8M782.30 87.9V117.2"/><path class="d b" d="M781.87 99.9V106.2M782.30 106.2V110.2"/><path class="u" d="M782.73 91.6V116.3M783.15 92.7V133.0M783.58 97.5V104.1"/><path class="u b" d="M782.73 110.2V104.7M783.15 104.7V103.9M783.58 103.9V102.5"/><path class="d" d="M784.01 99.3V122.6"/><path class="d b" d="M784.01 102.5V119.2"/><path class="u" d="M784.43 103.0V124.0M784.86 74.2V106.4"/><path class="u b" d="M784.43 119.2V103.7M784.86 103.7V91.4"/><path class="d" d="M785.29 79.9V143.4"/><path class="d b" d="M785.29 91.4V131.2"/><path class="u" d="M785.72 114.2V143.9M786.14 119.6V131.9"/><path class="u b" d="M785.72 131.2V124.1M786.14 124.1V123.0"/><path class="d" d="M786.57 105.5V133.4"/><path class="d b" d="M786.57 123.0V132.8"/><path class="u" d="M787.00 108.9V145.4"/><path class="u b" d="M787.00 132.8V114.4"/><path class="d" d="M787.43 111.4V133.2"/><path class="d b" d="M787.43 114.4V123.0"/><path class="u" d="M787.85 112.7V127.1"/><path class="u b" d="M787.85 123.0V117.4"/><path class="d" d="M788.28 114.6V137.3M788.71 127.9V156.3"/><path class="d b" d="M788.28 117.4V134.4M788.71 134.4V149.7"/><path class="u" d="M789.13 143.1V156.3"/><path class="u b" d="M789.13 149.7V146.6"/><path class="d" d="M789.56 138.9V153.8M789.99 144.1V156.3"/><path class="d b" d="M789.56 146.6V148.7M789.99 148.7V156.3"/><path class="u" d="M790.42 154.8V156.3M790.84 152.7V156.3"/><path class="u b" d="M790.42 156.0V156.6M790.84 156.3V153.0"/><path class="d" d="M791.27 145.2V156.3"/><path class="d b" d="M791.27 153.0V156.3"/><path class="u" d="M791.70 149.5V156.3"/><path class="u b" d="M791.70 156.3V150.9"/><path class="d" d="M792.12 144.6V156.3"/><path class="d b" d="M792.12 150.9V156.3"/><path class="u" d="M792.55 150.6V156.3"/><path class="u b" d="M792.55 156.3V153.3"/><path class="d" d="M792.98 152.4V156.3"/><path class="d b" d="M792.98 153.3V156.3"/><path class="u" d="M793.41 145.5V156.3M793.83 127.4V155.1"/><path class="u b" d="M793.41 156.3V154.2M793.83 154.2V130.7"/><path class="d" d="M794.26 125.2V141.3"/><path class="d b" d="M794.26 130.7V137.7"/><path class="u" d="M794.69 105.7V142.3"/><path class="u b" d="M794.69 137.7V112.8"/><path class="d" d="M795.12 95.0V128.8"/><path class="d b" d="M795.12 112.8V128.7"/><path class="u" d="M795.54 108.8V129.1"/><path class="u b" d="M795.54 128.7V114.6"/><path class="d" d="M795.97 112.8V144.6"/><path class="d b" d="M795.97 114.6V118.0"/><path class="u" d="M796.40 95.8V124.6"/><path class="u b" d="M796.40 118.0V106.1"/><path class="d" d="M796.82 92.7V120.5M797.25 105.0V131.5"/><path class="d b" d="M796.82 106.1V113.4M797.25 113.4V126.5"/><path class="u" d="M797.68 102.8V138.1M798.11 104.8V125.2"/><path class="u b" d="M797.68 126.5V117.1M798.11 117.1V105.6"/><path class="d" d="M798.53 97.4V120.0M798.96 102.8V136.9M799.39 134.1V148.9"/><path class="d b" d="M798.53 105.6V117.5M798.96 117.5V135.5M799.39 135.5V147.6"/><path class="u" d="M799.82 129.8V159.8M800.24 129.7V139.7"/><path class="u b" d="M799.82 147.6V136.1M800.24 136.1V129.8"/><path class="d" d="M800.67 126.1V153.5"/><path class="d b" d="M800.67 129.8V143.8"/><path class="u" d="M801.10 112.9V152.6M801.52 98.2V115.9M801.95 82.7V115.2"/><path class="u b" d="M801.10 143.8V113.9M801.52 113.9V100.8M801.95 100.8V85.5"/><path class="d" d="M802.38 82.3V96.2M802.81 86.8V109.9"/><path class="d b" d="M802.38 85.5V88.0M802.81 88.0V104.7"/><path class="u" d="M803.23 73.9V112.0M803.66 63.4V106.0M804.09 59.4V82.1"/><path class="u b" d="M803.23 104.7V79.9M803.66 79.9V67.4M804.09 67.4V66.6"/><path class="d" d="M804.52 62.4V92.3M804.94 79.3V108.7M805.37 105.9V124.3M805.80 113.5V173.2M806.22 116.7V137.1M806.65 127.8V147.7"/><path class="d b" d="M804.52 66.6V88.5M804.94 88.5V106.5M805.37 106.5V117.9M805.80 117.9V127.1M806.22 127.1V136.1M806.65 136.1V146.7"/><path class="u" d="M807.08 137.7V146.8"/><path class="u b" d="M807.08 146.7V142.8"/><path class="d" d="M807.51 121.9V166.4"/><path class="d b" d="M807.51 142.8V158.1"/><path class="u" d="M807.93 141.1V168.0"/><path class="u b" d="M807.93 158.1V146.0"/><path class="d" d="M808.36 144.2V171.2M808.79 144.2V173.2"/><path class="d b" d="M808.36 146.0V154.5M808.79 154.5V160.9"/><path class="u" d="M809.21 141.5V163.2"/><path class="u b" d="M809.21 160.9V156.3"/><path class="d" d="M809.64 144.8V168.1"/><path class="d b" d="M809.64 156.3V166.9"/><path class="u" d="M810.07 153.9V169.4"/><path class="u b" d="M810.07 166.9V155.3"/><path class="d" d="M810.50 142.7V162.7"/><path class="d b" d="M810.50 155.3V157.8"/><path class="u" d="M810.92 143.5V159.9"/><path class="u b" d="M810.92 157.8V149.0"/><path class="d" d="M811.35 123.6V165.8"/><path class="d b" d="M811.35 149.0V154.6"/><path class="u" d="M811.78 118.1V159.4M812.21 114.0V125.6"/><path class="u b" d="M811.78 154.6V124.1M812.21 124.1V120.5"/><path class="d" d="M812.63 119.8V137.0"/><path class="d b" d="M812.63 120.5V124.8"/><path class="u" d="M813.06 109.0V135.5M813.49 112.6V146.7M813.91 110.0V136.6M814.34 109.0V120.3"/><path class="u b" d="M813.06 124.8V122.0M813.49 122.0V117.6M813.91 117.6V115.5M814.34 115.2V115.8"/><path class="d" d="M814.77 109.0V124.4M815.20 114.6V157.7M815.62 150.7V178.9M816.05 167.8V178.9M816.48 175.9V199.4M816.91 180.1V199.4"/><path class="d b" d="M814.77 115.5V124.4M815.20 124.4V152.8M815.62 152.8V170.0M816.05 170.0V178.0M816.48 178.0V186.6M816.91 186.6V199.4"/><path class="u" d="M817.33 196.7V199.4M817.76 186.0V199.4M818.19 189.2V199.4M818.61 182.7V199.4M819.04 198.1V199.4"/><path class="u b" d="M817.33 199.1V199.7M817.76 199.1V199.7M818.19 199.1V199.7M818.61 199.1V199.7M819.04 199.1V199.7"/><path class="d" d="M819.47 188.4V221.9"/><path class="d b" d="M819.47 199.4V221.9"/><path class="u" d="M819.90 216.0V221.9M820.32 219.3V221.9M820.75 209.9V225.0"/><path class="u b" d="M819.90 221.6V222.2M820.32 221.6V222.2M820.75 221.6V222.2"/><path class="d" d="M821.18 220.1V230.5"/><path class="d b" d="M821.18 221.9V224.3"/><path class="u" d="M821.61 216.2V235.4"/><path class="u b" d="M821.61 224.3V223.0"/><path class="d" d="M822.03 218.8V233.0M822.46 220.9V249.4M822.89 232.2V253.9M823.31 248.5V255.3M823.74 250.8V293.7"/><path class="d b" d="M822.03 223.0V225.5M822.46 225.5V244.9M822.89 244.9V249.2M823.31 249.2V253.9M823.74 253.9V270.6"/><path class="u" d="M824.17 248.8V275.3M824.60 251.7V256.5"/><path class="u b" d="M824.17 270.6V256.1M824.60 256.1V252.2"/><path class="d" d="M825.02 251.4V260.0M825.45 254.7V257.9"/><path class="d b" d="M825.02 252.2V256.3M825.45 256.3V257.7"/><path class="u" d="M825.88 237.0V269.3"/><path class="u b" d="M825.88 257.7V242.5"/><path class="d" d="M826.30 234.4V259.0"/><path class="d b" d="M826.30 242.5V243.4"/><path class="u" d="M826.73 230.7V252.7"/><path class="u b" d="M826.73 243.4V236.6"/><path class="d" d="M827.16 235.5V243.9M827.59 234.4V267.5M828.01 246.6V275.8"/><path class="d b" d="M827.16 236.6V243.8M827.59 243.8V259.9M828.01 259.9V264.0"/><path class="u" d="M828.44 248.9V268.8M828.87 227.1V260.8"/><path class="u b" d="M828.44 264.0V251.8M828.87 251.8V232.2"/><path class="d" d="M829.30 227.3V240.3"/><path class="d b" d="M829.30 232.2V238.1"/><path class="u" d="M829.72 227.1V243.9M830.15 227.1V231.3"/><path class="u b" d="M829.72 238.1V229.0M830.15 229.0V227.1"/><path class="d" d="M830.58 227.1V243.9M831.00 227.1V237.5"/><path class="d b" d="M830.58 227.1V231.6M831.00 231.6V234.2"/><path class="u" d="M831.43 223.0V238.6"/><path class="u b" d="M831.43 234.2V231.2"/><path class="d" d="M831.86 227.2V241.1M832.29 231.6V250.9"/><path class="d b" d="M831.86 231.2V239.9M832.29 239.9V246.9"/><path class="u" d="M832.71 234.6V247.2"/><path class="u b" d="M832.71 246.9V240.0"/><path class="d" d="M833.14 227.9V251.8M833.57 236.8V268.0"/><path class="d b" d="M833.14 240.0V245.0M833.57 245.0V258.8"/><path class="u" d="M834.00 241.6V263.4"/><path class="u b" d="M834.00 258.8V247.7"/><path class="d" d="M834.42 245.8V263.0M834.85 253.2V273.2M835.28 255.8V273.2"/><path class="d b" d="M834.42 247.7V255.6M834.85 255.6V263.4M835.28 263.4V268.1"/><path class="u" d="M835.70 248.6V273.2"/><path class="u b" d="M835.70 268.1V259.3"/><path class="d" d="M836.13 245.9V267.3M836.56 261.4V270.8M836.99 260.5V273.2"/><path class="d b" d="M836.13 259.3V262.2M836.56 262.2V267.6M836.99 267.6V273.2"/><path class="u" d="M837.41 254.6V273.2"/><path class="u b" d="M837.41 273.2V256.6"/><path class="d" d="M837.84 245.9V262.9"/><path class="d b" d="M837.84 256.6V258.9"/><path class="u" d="M838.27 245.9V265.1M838.70 246.8V257.3M839.12 250.3V256.0M839.55 247.3V252.0"/><path class="u b" d="M838.27 258.9V251.7M838.70 251.4V252.0M839.12 251.4V252.0M839.55 251.4V252.0"/><path class="d" d="M839.98 245.9V271.9M840.40 252.9V268.2"/><path class="d b" d="M839.98 251.7V261.0M840.40 261.0V263.4"/><path class="u" d="M840.83 252.5V265.7"/><path class="u b" d="M840.83 263.4V257.3"/><path class="d" d="M841.26 254.3V268.4"/><path class="d b" d="M841.26 257.3V262.9"/><path class="u" d="M841.69 235.8V268.4"/><path class="u b" d="M841.69 262.9V237.7"/><path class="d" d="M842.11 234.7V247.8"/><path class="d b" d="M842.11 237.7V242.2"/><path class="u" d="M842.54 231.8V243.4M842.97 223.0V246.6"/><path class="u b" d="M842.54 242.2V238.3M842.97 238.3V229.6"/><path class="d" d="M843.39 223.0V253.9"/><path class="d b" d="M843.39 229.6V248.2"/><path class="u" d="M843.82 246.8V250.9M844.25 241.4V253.9M844.68 239.8V253.9M845.10 223.0V246.4M845.53 229.0V247.6"/><path class="u b" d="M843.82 247.9V248.5M844.25 247.9V248.5M844.68 248.2V245.9M845.10 245.9V242.5M845.53 242.5V240.2"/><path class="d" d="M845.96 227.3V253.9"/><path class="d b" d="M845.96 240.2V248.2"/><path class="u" d="M846.39 224.7V253.9M846.81 207.1V231.0"/><path class="u b" d="M846.39 248.2V229.0M846.81 229.0V214.3"/><path class="d" d="M847.24 210.4V217.5"/><path class="d b" d="M847.24 214.3V215.4"/><path class="u" d="M847.67 207.1V224.9"/><path class="u b" d="M847.67 215.4V212.7"/><path class="d" d="M848.09 207.1V241.8"/><path class="d b" d="M848.09 212.7V223.1"/><path class="u" d="M848.52 207.1V223.7"/><path class="u b" d="M848.52 223.1V207.1"/><path class="d" d="M848.95 207.1V238.4M849.38 219.6V251.9"/><path class="d b" d="M848.95 207.1V229.5M849.38 229.5V247.6"/><path class="u" d="M849.80 238.5V252.6"/><path class="u b" d="M849.80 247.6V244.1"/><path class="d" d="M850.23 241.7V262.8"/><path class="d b" d="M850.23 244.1V260.9"/><path class="u" d="M850.66 256.5V265.6M851.09 243.9V262.6M851.51 255.1V265.1"/><path class="u b" d="M850.66 260.6V261.2M851.09 260.9V259.0M851.51 259.0V255.3"/><path class="d" d="M851.94 250.4V260.3M852.37 243.8V272.6M852.79 256.6V268.8M853.22 262.7V296.5M853.65 287.6V305.8M854.08 293.5V311.2M854.50 301.0V314.9M854.93 297.2V312.8M855.36 304.8V329.1M855.79 323.0V349.7M856.21 343.4V399.5"/><path class="d b" d="M851.94 255.3V257.8M852.37 257.8V259.3M852.79 259.3V265.3M853.22 265.3V291.9M853.65 291.9V297.1M854.08 297.1V303.8M854.50 303.8V306.5M854.93 306.5V312.3M855.36 312.3V323.0M855.79 323.0V343.4M856.21 343.4V383.4"/><path class="u" d="M856.64 343.4V395.0M857.07 343.4V349.8"/><path class="u b" d="M856.64 383.4V347.5M857.07 347.0V347.6"/><path class="d" d="M857.49 344.7V359.1M857.92 347.1V358.9"/><path class="d b" d="M857.49 347.0V352.3M857.92 352.3V357.1"/><path class="u" d="M858.35 343.4V363.4"/><path class="u b" d="M858.35 357.1V352.7"/><path class="d" d="M858.78 348.6V362.5"/><path class="d b" d="M858.78 352.7V357.0"/><path class="u" d="M859.20 348.6V360.4"/><path class="u b" d="M859.20 357.0V349.8"/><path class="d" d="M859.63 348.6V363.1"/><path class="d b" d="M859.63 349.8V359.9"/><path class="u" d="M860.06 350.6V360.7M860.48 349.6V357.7"/><path class="u b" d="M860.06 359.9V355.2M860.48 355.2V350.7"/><path class="d" d="M860.91 349.6V365.3"/><path class="d b" d="M860.91 350.7V363.1"/><path class="u" d="M861.34 348.6V370.0M861.77 348.6V361.0"/><path class="u b" d="M861.34 363.1V360.4M861.77 360.4V357.8"/><path class="d" d="M862.19 352.5V385.0M862.62 371.4V386.0"/><path class="d b" d="M862.19 357.8V382.3M862.62 382.3V386.0"/><path class="u" d="M863.05 385.5V386.0M863.48 384.5V386.0M863.90 374.6V386.0M864.33 367.2V386.0M864.76 368.4V386.0M865.18 362.1V376.7"/><path class="u b" d="M863.05 385.7V386.3M863.48 385.7V386.3M863.90 386.0V382.6M864.33 382.6V378.3M864.76 378.3V371.5M865.18 371.5V368.2"/><path class="d" d="M865.61 362.5V386.0"/><path class="d b" d="M865.61 368.2V386.0"/><path class="u" d="M866.04 375.6V386.0M866.47 364.1V386.0M866.89 359.9V375.3M867.32 350.5V361.6M867.75 337.3V360.0"/><path class="u b" d="M866.04 386.0V382.8M866.47 382.8V370.6M866.89 370.6V360.4M867.32 360.4V354.5M867.75 354.5V339.4"/></svg>
<div class="sepv"></div>
<div class="seph"></div>
<div class="leg" style="top:25px">Bitcoin / U.S. Dollar · 1D · Bitstamp&nbsp; <span class="grn" style="font-size:8.45px">71,595&nbsp; +3,259 (+4.77%)</span></div>
<div class="leg" style="top:36px">Vol · BTC</div>
<div class="usd">USD</div>
<div class="pl" style="top:45.5px">128,000</div><div class="pl" style="top:66.0px">124,000</div><div class="pl" style="top:86.5px">120,000</div><div class="pl" style="top:107.0px">116,000</div><div class="pl" style="top:127.5px">112,000</div><div class="pl" style="top:148.0px">108,000</div><div class="pl" style="top:168.5px">104,000</div><div class="pl" style="top:189.0px">100,000</div><div class="pl" style="top:209.6px">96,000</div><div class="pl" style="top:230.1px">92,000</div><div class="pl" style="top:250.6px">88,000</div><div class="pl" style="top:271.1px">84,000</div><div class="pl" style="top:291.6px">80,000</div><div class="pl" style="top:312.1px">76,000</div><div class="pl" style="top:373.6px">64,000</div><div class="pl" style="top:414.6px">56,000</div><div class="pl" style="top:435.1px">52,000</div><div class="pl" style="top:476.1px">44,000</div><div class="pl" style="top:496.6px">40,000</div><div class="pl" style="top:517.2px">36,000</div><div class="pl" style="top:537.7px">32,000</div><div class="pl" style="top:558.2px">28,000</div><div class="pl" style="top:578.7px">24,000</div><div class="pl" style="top:599.2px">20,000</div><div class="pl" style="top:619.7px">16,000</div><div class="pl" style="top:640.2px">12,000</div>
<div class="tl b" style="left:41.1px">2021</div><div class="tl" style="left:118.4px">Jul</div><div class="tl b" style="left:197.0px">2022</div><div class="tl" style="left:274.4px">Jul</div><div class="tl b" style="left:353.0px">2023</div><div class="tl" style="left:430.3px">Jul</div><div class="tl b" style="left:508.9px">2024</div><div class="tl" style="left:586.7px">Jul</div><div class="tl b" style="left:665.3px">2025</div><div class="tl" style="left:742.6px">Jul</div><div class="tl b" style="left:821.3px">2026</div><div class="tl" style="left:898.6px">Jul</div><div class="tl b" style="left:977.2px">2027</div>
<div class="tag" style="top:334px;width:43px;height:20px;background:#089981;line-height:9.2px;padding-top:0.6px">71,595<br><span style="color:rgba(255,255,255,0.8)">13:55:29</span></div>
<div class="tag" style="top:355px;width:36px;height:10px;line-height:11.6px;background:#4d4d4d">68,792</div>
<div class="tag" style="top:395px;width:36px;height:10px;line-height:11.6px;background:#4d4d4d">59,869</div>
<div class="tag" style="top:452px;width:36px;height:10px;line-height:11.6px;background:#4d4d4d">48,672</div>
<div class="tag" style="top:662px;width:32px;height:11px;line-height:11px;background:#08891f;letter-spacing:0.5px;border-radius:0;color:#dfe9df">2.13K</div>
<svg style="position:absolute;left:855px;top:655px" width="26" height="24" viewBox="855 655 26 24">
<path d="M871.3 662.28 A6.6 6.6 0 0 0 861.8 665.74" fill="none" stroke="#9150cc" stroke-width="1.2"/>
<path d="M862.94 672.24 A6.6 6.6 0 0 0 873.41 664.21" fill="none" stroke="#9150cc" stroke-width="1.2"/>
<path d="M870.4 664.6 L865.6 668.9 H868.2 L866 672 L871 667.6 H868.4 Z" fill="#a060e0"/>
<circle cx="872.6" cy="663.5" r="1.9" fill="#f23645"/>
<path d="M861 667.4 Q861.6 669.8 864 670.4 Q861.6 671 861 673.4 Q860.4 671 858 670.4 Q860.4 669.8 861 667.4Z" fill="#7b5cff"/>
</svg>
<svg class="logo" width="21" height="11" viewBox="0 0 21 11">
<path d="M0 0H7.8V10.3H3.7V4.2H0Z" fill="#dcdcdc"/>
<circle cx="11.2" cy="2.3" r="1.8" fill="#dcdcdc"/>
<path d="M15.4 0H19.6L15.6 10.3H11.3Z" fill="#dcdcdc"/>
</svg>
<div class="logot">TradingView</div>
</body></html>
